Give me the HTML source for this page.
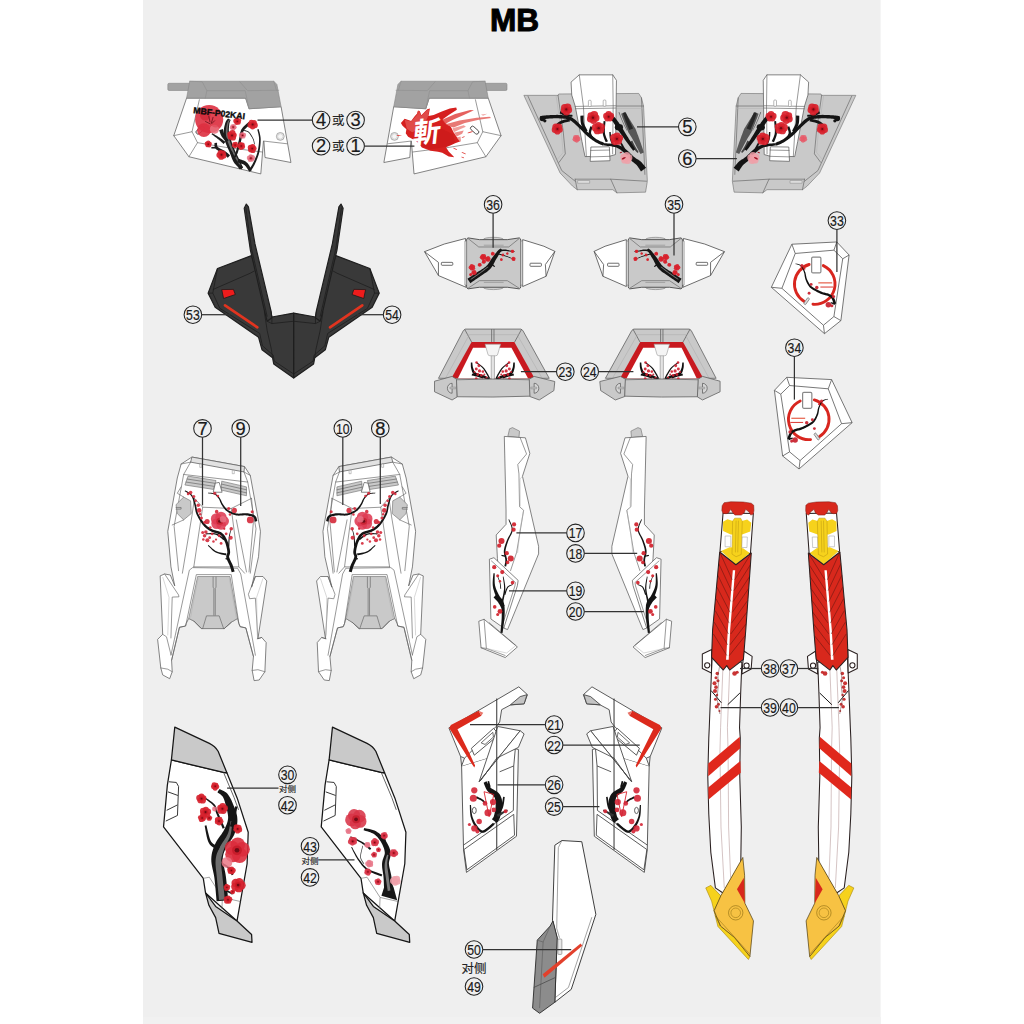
<!DOCTYPE html>
<html lang="zh"><head><meta charset="utf-8"><title>MB</title>
<style>
html,body{margin:0;padding:0;background:#fff;}
body{width:1024px;height:1024px;overflow:hidden;font-family:"Liberation Sans","Noto Sans CJK SC",sans-serif;}
svg{display:block}
svg *{vector-effect:non-scaling-stroke}
.w{fill:#fff;stroke:#5c5c5c;stroke-width:.75;stroke-linejoin:round}
.wd{fill:#fff;stroke:#222;stroke-width:1;stroke-linejoin:round}
.g1{fill:#a2a2a2;stroke:#858585;stroke-width:.6;stroke-linejoin:round}
.g2{fill:#c9c9c9;stroke:#767676;stroke-width:.65;stroke-linejoin:round}
.g3{fill:#b4b4b4;stroke:#8c8c8c;stroke-width:.6;stroke-linejoin:round}
.l{fill:none;stroke:#636363;stroke-width:.65;stroke-linejoin:round;stroke-linecap:round}
.ll{fill:none;stroke:#b0b0b0;stroke-width:.5}
.dk{fill:none;stroke:#222;stroke-width:1;stroke-linejoin:round;stroke-linecap:round}
.br{fill:none;stroke:#1c1c1c;stroke-linecap:round;stroke-linejoin:round}
.bg{fill:none;stroke:#5a5a5a;stroke-linecap:round;stroke-linejoin:round}
.r{fill:#d8222c;stroke:none}
.rl{fill:#e86a78;stroke:none}
.lc{fill:none;stroke:#222;stroke-width:1.05}
.ld{stroke:#333;stroke-width:1.25}
.n1{font-size:18.3px;text-anchor:middle;fill:#1a1a1a;stroke:#1a1a1a;stroke-width:.2}
.n2{font-size:15.2px;text-anchor:middle;fill:#1a1a1a;stroke:#1a1a1a;stroke-width:.2}
.cj{text-anchor:middle;fill:#222;stroke:#222;stroke-width:.15;font-family:"Liberation Sans","Noto Sans CJK SC",sans-serif}
</style></head><body>
<svg width="1024" height="1024" viewBox="0 0 1024 1024">
<defs>
<filter id="bl" x="-20%" y="-20%" width="140%" height="140%"><feGaussianBlur stdDeviation="0.5"/></filter>
</defs>
<rect x="0" y="0" width="1024" height="1024" fill="#fff"/>
<rect x="143" y="0" width="737.6" height="1024" fill="#efefef"/>
<rect x="143" y="1017" width="737.6" height="7" fill="#f1f1f1"/>
<text x="514.6" y="31.2" text-anchor="middle" font-weight="bold" font-size="31.6" fill="#000" stroke="#000" stroke-width="1">MB</text>
<g transform="translate(160,70) scale(0.15625)"><rect class="g1" x="50" y="85" width="150" height="46" rx="8"/><polygon class="w" points="170,180 548,180 570,248 775,235 838,592 672,560 665,455 662,455 645,665 185,555 88,420" /><polygon class="g1" points="190,72 728,72 748,92 775,235 570,248 548,180 170,180" /><polyline class="l" points="190,72 270,75 300,132 290,180" style="stroke:#8f8f8f"/><polyline class="l" points="300,132 545,132 570,248" style="stroke:#8f8f8f"/><polyline class="l" points="510,75 560,132 760,130" style="stroke:#8f8f8f"/><polyline class="l" points="728,72 745,130" style="stroke:#8f8f8f"/><polyline class="l" points="88,420 205,395 252,190" /><polyline class="l" points="205,395 240,465 185,555" /><polyline class="l" points="240,465 420,495 655,525" /><polyline class="l" points="665,455 812,472" /><circle cx="770" cy="425" r="25" fill="#eee" stroke="#999" stroke-width=".8"/><circle cx="770" cy="425" r="17" fill="#f6f6f6" stroke="#bbb" stroke-width=".5"/><rect x="226" y="372" width="62" height="26" rx="12" fill="#fff" stroke="#4a4a4a" stroke-width="1" transform="rotate(-42 257 385)"/><circle cx="314.7" cy="314.7" r="90.0" fill="#dd3040" opacity="0.9"/><circle cx="280.9" cy="385.0" r="43.9" fill="#dd3040" opacity="0.9"/><circle cx="348.4" cy="379.3" r="29.2" fill="#e9707c" opacity="0.85"/><circle cx="289.3" cy="289.3" r="33.7" fill="#c81828" opacity="0.5"/><circle cx="356.8" cy="328.7" r="39.4" fill="#e0404e" opacity="0.6"/><line x1="311.8" y1="295.0" x2="320.3" y2="334.3" stroke="#5a0a12" stroke-width=".7"/><line x1="340.0" y1="300.6" x2="328.7" y2="340.0" stroke="#5a0a12" stroke-width=".7"/><line x1="289.3" y1="328.7" x2="323.1" y2="345.6" stroke="#5a0a12" stroke-width=".7"/><line x1="351.2" y1="323.1" x2="328.7" y2="345.6" stroke="#5a0a12" stroke-width=".7"/><path d="M435.6,310.1 L434.2,311.7 L432.3,313.7 L429.9,316.6 L427.1,320.3 L424.2,324.7 L421.4,330.0 L418.8,336.1 L416.6,342.8 L414.8,349.6 L413.0,357.1 L411.2,365.4 L409.6,374.4 L408.3,384.0 L407.5,394.2 L407.3,404.8 L408.0,415.6 L409.5,426.6 L411.6,437.9 L414.4,449.3 L417.5,460.8 L421.9,472.0 L426.4,483.1 L431.0,493.9 L435.6,504.4 L440.5,515.0 L445.9,525.7 L451.5,536.2 L457.2,546.5 L462.8,556.4 L468.3,565.9 L473.5,574.9 L478.2,583.2 L482.8,591.3 L487.4,599.3 L491.9,607.0 L496.1,614.3 L500.1,620.9 L503.6,626.8 L506.6,631.6 L509.0,635.4 L530.9,623.8 L529.1,619.7 L526.7,614.4 L523.8,608.3 L520.6,601.3 L517.0,593.8 L513.2,585.8 L509.3,577.6 L505.4,569.1 L501.2,560.3 L496.6,550.9 L491.8,541.1 L486.9,531.0 L482.1,520.8 L477.5,510.6 L473.2,500.4 L469.3,490.4 L465.5,480.2 L461.8,469.6 L458.2,458.9 L454.9,448.3 L451.1,438.1 L447.7,428.4 L445.0,419.1 L442.9,410.5 L441.5,402.4 L440.8,394.1 L440.5,385.8 L440.7,377.6 L441.2,369.5 L441.8,361.9 L442.6,354.7 L443.3,348.4 L443.9,343.4 L444.9,339.1 L446.0,335.2 L447.4,331.5 L448.8,328.2 L450.2,325.0 L451.5,321.9 L452.4,319.2Z" fill="#1c1c1c"/><path d="M445.0,313.6 L443.7,315.5 L441.9,317.9 L439.8,320.8 L437.4,324.3 L435.0,328.4 L432.6,333.2 L430.5,338.7 L428.8,344.7 L427.3,351.3 L425.7,358.7 L424.2,366.8 L422.9,375.5 L421.9,384.6 L421.3,394.2 L421.4,404.0 L422.2,414.0 L423.8,424.2 L426.1,434.8 L429.0,445.8 L432.3,456.9 L436.4,467.9 L440.7,478.8 L445.1,489.5 L449.5,499.9 L454.2,510.2 L459.3,520.7 L464.7,531.1 L470.2,541.3 L475.7,551.2 L481.0,560.8 L486.1,569.8 L490.7,578.3 L495.2,586.4 L499.6,594.5 L503.9,602.2 L508.1,609.5 L511.9,616.2 L515.3,622.1 L518.2,627.1 L520.4,630.9 L525.4,628.3 L523.5,624.2 L521.0,619.1 L518.0,612.9 L514.6,606.1 L510.9,598.6 L507.0,590.6 L503.0,582.4 L498.9,574.1 L494.6,565.3 L489.9,556.0 L485.0,546.3 L479.9,536.2 L474.9,525.9 L470.1,515.5 L465.5,505.2 L461.4,495.0 L457.4,484.6 L453.5,473.9 L449.7,463.1 L446.1,452.2 L442.5,441.7 L439.3,431.4 L436.6,421.5 L434.7,412.2 L433.5,403.2 L432.9,394.2 L432.9,385.2 L433.4,376.5 L434.2,368.2 L435.1,360.3 L436.2,353.0 L437.1,346.5 L438.2,340.9 L439.6,335.9 L441.3,331.5 L443.1,327.5 L444.9,324.0 L446.6,320.8 L448.0,318.1 L449.0,315.7Z" fill="#6a6a6a"/><path d="M378.7,385.9 L379.9,388.8 L381.3,392.7 L382.9,397.6 L384.9,403.2 L387.1,409.1 L389.5,415.2 L392.3,421.2 L395.5,426.8 L399.2,432.2 L403.4,437.4 L407.8,442.5 L412.4,447.3 L416.7,451.7 L420.6,455.6 L423.8,458.7 L426.2,461.1 L439.3,449.4 L437.2,446.6 L434.1,443.0 L430.6,438.9 L426.8,434.4 L423.0,429.6 L419.3,424.9 L416.2,420.3 L413.8,416.2 L411.9,412.0 L410.1,407.1 L408.4,401.7 L406.8,396.3 L405.5,390.9 L404.3,386.0 L403.2,381.7 L402.4,378.3Z" fill="#1c1c1c"/><path d="M329.5,410.5 L332.6,413.0 L336.8,416.1 L341.8,419.8 L347.4,423.9 L353.2,428.2 L359.1,432.5 L364.7,436.8 L369.8,440.9 L374.9,445.1 L380.2,449.6 L385.7,454.3 L391.0,459.1 L396.0,463.6 L400.6,467.7 L404.3,471.2 L407.2,473.9 L419.0,459.1 L415.8,457.0 L411.6,454.1 L406.6,450.5 L401.0,446.5 L395.2,442.3 L389.1,438.1 L383.2,434.0 L377.6,430.2 L371.8,426.6 L365.7,422.8 L359.3,419.0 L353.0,415.3 L347.0,411.8 L341.6,408.8 L337.0,406.2 L333.5,404.4Z" fill="#1c1c1c"/><path d="M348.8,467.1 L348.8,469.0 L348.6,471.9 L348.4,475.9 L348.3,480.6 L348.7,485.9 L349.7,491.7 L351.9,497.6 L355.6,503.3 L360.5,508.1 L366.1,512.4 L372.2,516.3 L378.6,520.0 L385.1,523.6 L391.3,527.1 L396.9,530.5 L401.7,533.8 L406.3,537.3 L411.0,541.2 L415.7,545.3 L420.3,549.3 L424.5,553.2 L428.3,556.7 L431.5,559.7 L434.1,562.0 L448.3,545.4 L445.8,543.3 L442.5,540.6 L438.5,537.2 L434.0,533.4 L429.1,529.4 L423.9,525.3 L418.6,521.2 L413.2,517.4 L407.2,513.6 L400.8,510.1 L394.2,506.7 L387.8,503.3 L381.7,500.1 L376.3,497.0 L372.1,494.0 L369.3,491.6 L367.7,489.4 L366.6,486.7 L365.8,483.4 L365.4,479.8 L365.2,476.1 L365.2,472.4 L365.2,468.8 L364.9,466.0Z" fill="#1c1c1c"/><path d="M328.7,502.6 L332.2,502.6 L335.7,502.6 L339.3,502.6 L342.8,502.6 L346.3,502.6 L349.8,502.6 L353.3,502.6 L356.8,502.6 L356.8,492.3 L353.3,492.3 L349.8,492.3 L346.3,492.3 L342.8,492.3 L339.3,492.3 L335.7,492.3 L332.2,492.3 L328.7,492.3Z" fill="#1c1c1c"/><path d="M567.0,332.9 L563.6,336.2 L558.7,340.4 L552.6,345.6 L545.9,351.5 L538.9,358.0 L532.2,365.2 L526.0,372.8 L520.9,380.8 L517.1,389.1 L514.2,397.7 L512.1,406.5 L510.4,415.4 L508.9,424.4 L507.5,433.2 L505.9,442.0 L504.0,450.6 L501.8,459.7 L499.4,469.4 L497.0,479.3 L494.5,489.3 L492.0,498.9 L489.7,508.0 L487.4,516.3 L485.4,523.5 L483.4,529.7 L481.5,535.2 L479.6,540.1 L477.8,544.4 L476.2,548.2 L474.7,551.5 L473.4,554.4 L472.4,556.9 L483.1,561.7 L484.2,559.5 L485.6,556.8 L487.3,553.5 L489.3,549.6 L491.4,545.1 L493.7,539.9 L496.0,534.1 L498.3,527.6 L500.6,520.2 L503.1,511.8 L505.8,502.6 L508.5,492.9 L511.2,483.0 L513.9,473.1 L516.5,463.5 L518.9,454.3 L521.2,445.2 L523.0,436.1 L524.7,427.1 L526.3,418.5 L528.1,410.2 L530.2,402.5 L532.8,395.5 L535.9,389.2 L539.9,383.1 L545.2,377.0 L551.4,370.9 L557.9,365.0 L564.5,359.6 L570.5,354.7 L575.8,350.4 L579.7,347.0Z" fill="#1c1c1c"/><path d="M519.4,387.8 L523.1,388.5 L528.0,389.0 L533.8,389.7 L540.0,390.5 L546.5,391.7 L552.8,393.4 L558.5,395.5 L563.4,398.4 L567.8,402.2 L572.1,407.0 L576.4,412.6 L580.5,418.7 L584.3,424.9 L587.8,431.1 L591.0,437.0 L593.7,442.2 L595.8,447.1 L597.5,451.9 L598.8,456.7 L599.7,461.3 L600.5,465.6 L601.1,469.5 L601.6,472.8 L602.1,475.4 L606.4,474.5 L606.0,472.0 L605.5,468.8 L605.0,464.9 L604.3,460.5 L603.3,455.6 L602.0,450.5 L600.3,445.3 L598.1,440.2 L595.3,434.7 L592.2,428.8 L588.7,422.4 L584.8,415.9 L580.6,409.6 L576.2,403.7 L571.5,398.4 L566.5,394.0 L560.8,390.7 L554.5,388.1 L547.7,386.3 L541.0,385.0 L534.5,384.1 L528.7,383.3 L523.9,382.7 L520.4,382.1Z" fill="#1c1c1c"/><path d="M622.5,380.4 L623.6,385.1 L625.1,391.1 L627.0,398.2 L629.0,406.1 L630.8,414.6 L632.4,423.5 L633.6,432.5 L634.0,441.3 L633.9,450.6 L633.5,460.7 L632.6,471.2 L631.5,482.1 L630.0,493.0 L628.2,503.8 L626.2,514.3 L623.9,524.2 L621.3,533.8 L618.2,543.4 L614.7,552.9 L610.9,562.2 L607.0,571.3 L603.1,580.0 L599.2,588.2 L595.6,595.8 L591.9,602.8 L588.0,609.5 L583.9,615.9 L579.9,621.9 L576.1,627.3 L572.6,632.2 L569.6,636.3 L567.3,639.6 L579.5,647.7 L581.5,644.4 L584.3,640.3 L587.6,635.3 L591.4,629.6 L595.5,623.2 L599.6,616.4 L603.6,609.1 L607.4,601.6 L611.0,593.7 L614.8,585.3 L618.6,576.3 L622.5,566.9 L626.1,557.2 L629.6,547.2 L632.7,537.1 L635.3,526.9 L637.5,516.5 L639.4,505.7 L641.0,494.5 L642.4,483.3 L643.4,472.1 L644.0,461.3 L644.3,450.8 L644.3,441.0 L643.6,431.5 L642.2,421.9 L640.3,412.6 L638.2,403.9 L636.0,395.8 L633.9,388.7 L632.2,382.8 L631.1,378.3Z" fill="#1c1c1c"/><path d="M493.4,590.7 L497.2,591.9 L502.4,593.4 L508.3,595.2 L514.7,597.1 L521.2,599.3 L527.3,601.5 L532.5,603.6 L536.4,605.6 L539.4,607.6 L542.2,609.8 L544.7,612.2 L547.0,614.8 L549.3,617.7 L551.6,620.7 L553.9,624.0 L556.3,627.1 L558.5,630.1 L560.5,633.2 L562.6,636.6 L564.5,640.0 L566.3,643.3 L567.9,646.3 L569.4,648.9 L570.6,650.9 L587.4,642.0 L586.5,640.1 L585.4,637.6 L583.9,634.4 L582.2,630.8 L580.3,626.9 L578.2,622.9 L575.9,618.9 L573.6,615.2 L571.4,611.9 L569.2,608.6 L566.9,604.9 L564.2,601.2 L561.1,597.3 L557.5,593.4 L553.3,589.7 L548.4,586.1 L542.6,582.8 L536.1,579.8 L529.3,577.1 L522.3,574.5 L515.7,572.2 L509.7,570.2 L504.9,568.5 L501.5,567.2Z" fill="#1c1c1c"/><path d="M444.9,522.8 L446.9,528.1 L449.3,535.4 L452.4,544.2 L455.8,554.0 L459.7,564.2 L463.9,574.3 L468.4,583.8 L473.3,592.3 L478.9,599.9 L485.3,607.0 L492.1,613.6 L498.9,619.7 L505.4,625.2 L511.3,629.9 L516.0,633.8 L519.4,636.8 L531.7,622.4 L528.0,619.2 L522.9,615.3 L517.0,610.8 L510.7,605.7 L504.3,600.3 L498.1,594.5 L492.5,588.5 L487.9,582.5 L483.7,575.7 L479.5,567.2 L475.4,557.8 L471.6,548.1 L468.0,538.6 L464.9,529.9 L462.1,522.5 L460.0,517.1Z" fill="#1c1c1c"/><circle cx="489.5" cy="338.8" r="13.5" fill="#d8222c" opacity="0.92"/><circle cx="483.4" cy="327.0" r="15.1" fill="#d8222c" opacity="0.92"/><circle cx="492.7" cy="317.5" r="13.2" fill="#d8222c" opacity="0.92"/><circle cx="504.7" cy="323.5" r="14.8" fill="#d8222c" opacity="0.92"/><circle cx="502.7" cy="336.6" r="14.2" fill="#d8222c" opacity="0.92"/><circle cx="494.6" cy="328.7" r="9.9" fill="#b8121e" opacity=".55"/><circle cx="494.6" cy="328.7" r="4.7" fill="#5a0810" opacity=".8"/><circle cx="606.8" cy="353.7" r="19.1" fill="#d8222c" opacity="0.92"/><circle cx="592.3" cy="363.1" r="17.0" fill="#d8222c" opacity="0.92"/><circle cx="578.8" cy="352.2" r="18.8" fill="#d8222c" opacity="0.92"/><circle cx="584.9" cy="336.1" r="17.2" fill="#d8222c" opacity="0.92"/><circle cx="602.2" cy="336.9" r="17.3" fill="#d8222c" opacity="0.92"/><circle cx="593.0" cy="348.4" r="12.9" fill="#b8121e" opacity=".55"/><circle cx="593.0" cy="348.4" r="6.1" fill="#5a0810" opacity=".8"/><circle cx="459.6" cy="369.7" r="13.4" fill="#e4687a" opacity="0.8"/><circle cx="461.4" cy="358.5" r="11.4" fill="#e4687a" opacity="0.8"/><circle cx="472.5" cy="356.7" r="11.7" fill="#e4687a" opacity="0.8"/><circle cx="477.7" cy="366.8" r="12.8" fill="#e4687a" opacity="0.8"/><circle cx="469.8" cy="374.8" r="13.7" fill="#e4687a" opacity="0.8"/><circle cx="468.2" cy="365.3" r="8.4" fill="#b8121e" opacity=".55"/><circle cx="468.2" cy="365.3" r="4.0" fill="#5a0810" opacity=".8"/><circle cx="448.3" cy="412.1" r="17.9" fill="#d8222c" opacity="0.92"/><circle cx="463.3" cy="404.7" r="20.3" fill="#d8222c" opacity="0.92"/><circle cx="474.9" cy="416.6" r="16.4" fill="#d8222c" opacity="0.92"/><circle cx="467.2" cy="431.4" r="19.8" fill="#d8222c" opacity="0.92"/><circle cx="450.8" cy="428.6" r="17.4" fill="#d8222c" opacity="0.92"/><circle cx="460.9" cy="418.7" r="12.4" fill="#b8121e" opacity=".55"/><circle cx="460.9" cy="418.7" r="5.9" fill="#5a0810" opacity=".8"/><circle cx="534.7" cy="426.7" r="12.0" fill="#e4687a" opacity="0.8"/><circle cx="522.7" cy="427.2" r="12.6" fill="#e4687a" opacity="0.8"/><circle cx="518.6" cy="415.9" r="14.1" fill="#e4687a" opacity="0.8"/><circle cx="528.0" cy="408.5" r="12.2" fill="#e4687a" opacity="0.8"/><circle cx="538.0" cy="415.2" r="13.4" fill="#e4687a" opacity="0.8"/><circle cx="528.4" cy="418.7" r="8.9" fill="#b8121e" opacity=".55"/><circle cx="528.4" cy="418.7" r="4.3" fill="#5a0810" opacity=".8"/><circle cx="474.4" cy="473.2" r="12.1" fill="#d8222c" opacity="0.92"/><circle cx="485.7" cy="472.4" r="12.6" fill="#d8222c" opacity="0.92"/><circle cx="490.0" cy="482.9" r="11.2" fill="#d8222c" opacity="0.92"/><circle cx="481.3" cy="490.2" r="11.2" fill="#d8222c" opacity="0.92"/><circle cx="471.7" cy="484.2" r="11.6" fill="#d8222c" opacity="0.92"/><circle cx="480.6" cy="480.6" r="8.4" fill="#b8121e" opacity=".55"/><circle cx="480.6" cy="480.6" r="4.0" fill="#5a0810" opacity=".8"/><circle cx="515.1" cy="475.9" r="14.4" fill="#d8222c" opacity="0.92"/><circle cx="528.2" cy="478.4" r="14.0" fill="#d8222c" opacity="0.92"/><circle cx="529.8" cy="491.7" r="14.9" fill="#d8222c" opacity="0.92"/><circle cx="517.8" cy="497.3" r="14.5" fill="#d8222c" opacity="0.92"/><circle cx="508.7" cy="487.6" r="14.0" fill="#d8222c" opacity="0.92"/><circle cx="519.9" cy="486.2" r="9.9" fill="#b8121e" opacity=".55"/><circle cx="519.9" cy="486.2" r="4.7" fill="#5a0810" opacity=".8"/><circle cx="593.7" cy="490.8" r="17.2" fill="#d8222c" opacity="0.92"/><circle cx="602.9" cy="502.6" r="15.5" fill="#d8222c" opacity="0.92"/><circle cx="594.6" cy="515.1" r="16.8" fill="#d8222c" opacity="0.92"/><circle cx="580.2" cy="511.0" r="16.6" fill="#d8222c" opacity="0.92"/><circle cx="579.6" cy="496.0" r="17.9" fill="#d8222c" opacity="0.92"/><circle cx="590.2" cy="503.1" r="11.2" fill="#b8121e" opacity=".55"/><circle cx="590.2" cy="503.1" r="5.3" fill="#5a0810" opacity=".8"/><circle cx="580.3" cy="553.7" r="13.9" fill="#e4687a" opacity="0.8"/><circle cx="592.0" cy="560.0" r="16.2" fill="#e4687a" opacity="0.8"/><circle cx="589.6" cy="573.1" r="13.4" fill="#e4687a" opacity="0.8"/><circle cx="576.4" cy="574.9" r="14.4" fill="#e4687a" opacity="0.8"/><circle cx="570.7" cy="562.8" r="15.5" fill="#e4687a" opacity="0.8"/><circle cx="581.8" cy="564.9" r="9.9" fill="#b8121e" opacity=".55"/><circle cx="581.8" cy="564.9" r="4.7" fill="#5a0810" opacity=".8"/><circle cx="314.9" cy="483.2" r="13.1" fill="#d8222c" opacity="0.92"/><circle cx="302.9" cy="483.1" r="11.8" fill="#d8222c" opacity="0.92"/><circle cx="299.3" cy="471.6" r="13.7" fill="#d8222c" opacity="0.92"/><circle cx="309.1" cy="464.7" r="14.0" fill="#d8222c" opacity="0.92"/><circle cx="318.7" cy="471.9" r="13.4" fill="#d8222c" opacity="0.92"/><circle cx="309.0" cy="474.9" r="8.9" fill="#b8121e" opacity=".55"/><circle cx="309.0" cy="474.9" r="4.3" fill="#5a0810" opacity=".8"/><circle cx="403.4" cy="532.4" r="17.5" fill="#d8222c" opacity="0.92"/><circle cx="406.0" cy="548.8" r="19.1" fill="#d8222c" opacity="0.92"/><circle cx="391.2" cy="556.4" r="18.7" fill="#d8222c" opacity="0.92"/><circle cx="379.4" cy="544.6" r="18.6" fill="#d8222c" opacity="0.92"/><circle cx="387.0" cy="529.8" r="18.1" fill="#d8222c" opacity="0.92"/><circle cx="393.4" cy="542.4" r="12.4" fill="#b8121e" opacity=".55"/><circle cx="393.4" cy="542.4" r="5.9" fill="#5a0810" opacity=".8"/><text x="211.7" y="275.3" font-size="55" font-weight="bold" fill="#0a0a0a" stroke="#0a0a0a" stroke-width=".35" textLength="332" lengthAdjust="spacingAndGlyphs" transform="rotate(7 211.7 275.3)">MBF-P02KAI</text></g>
<g transform="translate(160,70) scale(0.15625)"><g transform="translate(2270.72,0) scale(-1,1)"><rect class="g1" x="50" y="85" width="150" height="46" rx="8"/><polygon class="w" points="170,180 548,180 570,248 775,235 838,592 672,560 665,455 662,455 645,665 185,555 88,420" /><polygon class="g1" points="190,72 728,72 748,92 775,235 570,248 548,180 170,180" /><polyline class="l" points="190,72 270,75 300,132 290,180" style="stroke:#8f8f8f"/><polyline class="l" points="300,132 545,132 570,248" style="stroke:#8f8f8f"/><polyline class="l" points="510,75 560,132 760,130" style="stroke:#8f8f8f"/><polyline class="l" points="728,72 745,130" style="stroke:#8f8f8f"/><polyline class="l" points="88,420 205,395 252,190" /><polyline class="l" points="205,395 240,465 185,555" /><polyline class="l" points="240,465 420,495 655,525" /><polyline class="l" points="665,455 812,472" /><circle cx="770" cy="425" r="25" fill="#eee" stroke="#999" stroke-width=".8"/><circle cx="770" cy="425" r="17" fill="#f6f6f6" stroke="#bbb" stroke-width=".5"/><rect x="226" y="372" width="62" height="26" rx="12" fill="#fff" stroke="#4a4a4a" stroke-width="1" transform="rotate(-42 257 385)"/></g></g>
<g transform="translate(395,100) scale(0.10742)"><path d="M55,215 L90,175 L150,195 L185,150 L230,100 L245,142 L300,86 L325,80 L312,150 L360,140 L430,110 L510,80 L570,70 L576,90 L500,140 L445,180 L470,215 L520,250 L545,300 L575,345 L610,385 L560,402 L520,422 L475,440 L500,480 L552,532 L500,525 L440,492 L400,482 L330,472 L250,442 L222,402 L180,372 L122,342 L100,310 L106,272 L70,240 Z" fill="#d6201f"/><path d="M90,185 L150,200 L190,155 L228,110 L244,150 L298,95 L318,90 L305,160 L250,260 L160,300 L110,268 Z" fill="#e35a58" opacity=".75"/><path d="M230,330 L420,260 L540,320 L560,395 L470,435 L330,460 L250,430 Z" fill="#c81818" opacity=".55"/><path d="M440,185 L560,130 L700,92 L735,96 L640,140 L540,185 L470,220 Z" fill="#e2504c" opacity=".9"/><path d="M470,225 L600,190 L760,165 L880,155 L895,168 L780,185 L650,215 L545,255 L520,250 Z" fill="#e66a66" opacity=".9"/><path d="M535,262 L640,235 L660,250 L600,275 L548,300 Z" fill="#ee9490" opacity=".9"/><path d="M548,305 L640,285 L625,315 L575,340 Z" fill="#ea807c" opacity=".9"/><path d="M575,350 L610,340 L615,385 L600,385 Z" fill="#ee9490" opacity=".9"/><path d="M800,135 L860,128 L820,146 Z" fill="#ee9490" opacity=".8"/><ellipse cx="640" cy="495" rx="22.0" ry="4.5" fill="#e0403c" transform="rotate(25 640 495)"/><ellipse cx="630" cy="535" rx="15.0" ry="4.0" fill="#e0403c" transform="rotate(25 630 535)"/><ellipse cx="700" cy="300" rx="26.0" ry="5.5" fill="#e0403c" transform="rotate(-15 700 300)"/><ellipse cx="635" cy="345" rx="15.0" ry="4.0" fill="#e0403c" transform="rotate(-20 635 345)"/><ellipse cx="560" cy="455" rx="20.0" ry="4.5" fill="#e0403c" transform="rotate(25 560 455)"/><ellipse cx="215" cy="118" rx="9.0" ry="20.0" fill="#e0403c" transform="rotate(15 215 118)"/><ellipse cx="40" cy="330" rx="25.0" ry="3.5" fill="#e0403c" transform="rotate(-8 40 330)"/><g transform="translate(298,300) rotate(-6) skewX(-12)"><text x="0" y="92" text-anchor="middle" font-size="262" fill="#fff" font-family="'Liberation Sans','Noto Sans CJK SC',sans-serif" font-weight="bold">斬</text></g></g>
<g transform="translate(515,65) scale(0.13672)"><polygon class="g2" points="65,222 315,222 320,212 905,208 925,240 940,300 968,850 955,930 745,935 715,912 455,912 420,885 330,790" /><polyline class="l" points="95,228 342,772 440,850" /><polyline class="l" points="315,222 330,330 352,480 368,650 322,712" /><polyline class="ll" points="300,222 338,480 352,640 310,690" /><polyline class="l" points="440,835 700,835 745,935" /><polyline class="l" points="700,835 962,850" /><polyline class="l" points="440,835 455,912" /><polyline class="l" points="925,240 950,800" /><polyline class="l" points="740,300 940,300" /><polyline class="ll" points="740,318 940,318" /><rect x="458" y="845" width="88" height="20" fill="#ddd" stroke="#888" stroke-width=".5"/><polygon class="w" points="410,125 470,72 715,72 742,112 735,655 700,665 512,670 490,560 440,300 415,220" /><polyline class="l" points="470,72 500,300 522,668" /><polyline class="l" points="715,72 718,300 714,650" /><polyline class="l" points="440,303 735,298" /><polyline class="l" points="442,320 735,315" /><rect x="537" y="258" width="20" height="46" rx="7" fill="#fff" stroke="#888" stroke-width=".6"/><rect x="645" y="256" width="20" height="46" rx="7" fill="#fff" stroke="#888" stroke-width=".6"/><polygon class="w" points="555,600 690,598 695,700 550,705" /><polyline class="l" points="553,625 692,622" /><polyline class="l" points="551,672 694,668" /><path d="M776.6,356.7 L778.6,363.3 L781.4,371.7 L785.1,381.5 L789.3,392.5 L793.9,404.3 L798.7,416.6 L803.5,428.9 L808.3,440.9 L813.0,453.0 L818.1,465.4 L823.2,478.1 L828.5,491.0 L836.1,502.9 L843.6,515.1 L851.1,527.5 L858.5,540.0 L866.2,553.6 L874.4,568.8 L882.9,584.9 L891.3,601.0 L899.3,616.3 L906.6,630.1 L913.0,641.7 L918.1,650.1 L941.9,639.9 L939.3,630.4 L935.4,617.8 L930.6,603.0 L925.0,586.5 L919.0,569.3 L912.9,551.9 L907.0,535.3 L901.5,520.0 L896.2,505.8 L890.9,491.8 L885.5,478.1 L880.2,464.7 L872.8,452.7 L865.5,441.1 L858.5,429.9 L851.7,419.1 L845.0,408.1 L838.0,396.9 L831.1,385.7 L824.5,375.0 L818.2,365.0 L812.5,356.2 L807.5,348.8 L803.4,343.3Z" fill="#4a4a4a" opacity="0.9"/><path d="M757.2,346.1 L759.6,352.0 L762.7,359.9 L766.4,369.3 L770.6,379.8 L774.9,390.7 L779.4,401.5 L783.7,411.8 L787.7,421.0 L791.7,429.7 L796.1,438.5 L800.5,447.3 L804.9,455.7 L809.0,463.6 L812.7,470.6 L815.9,476.4 L818.2,480.9 L821.8,479.1 L819.5,474.5 L816.5,468.6 L812.9,461.5 L808.9,453.7 L804.6,445.2 L800.3,436.4 L796.2,427.6 L792.3,419.0 L788.4,409.8 L784.2,399.6 L779.9,388.7 L775.7,377.7 L771.7,367.3 L768.1,357.8 L765.1,349.8 L762.8,343.9Z" fill="#666"/><path d="M832.2,567.8 L834.6,570.6 L837.6,574.3 L841.1,578.9 L845.0,584.0 L849.1,589.5 L853.3,595.1 L857.6,600.6 L861.8,605.7 L866.1,610.7 L870.8,616.1 L875.7,621.6 L880.6,627.0 L885.3,632.1 L889.5,636.6 L893.2,640.3 L896.0,643.0 L904.0,637.0 L902.1,633.5 L899.4,629.0 L896.2,623.7 L892.5,618.0 L888.7,611.9 L884.9,605.7 L881.3,599.8 L878.2,594.3 L875.3,588.9 L872.3,583.0 L869.2,577.0 L866.3,571.0 L863.5,565.3 L861.1,560.1 L859.2,555.6 L857.8,552.2Z" fill="#2a2a2a" opacity="0.85"/><path d="M789.7,353.8 L790.4,356.6 L791.4,360.1 L792.6,364.2 L794.0,369.1 L795.8,374.6 L797.8,380.7 L800.2,387.6 L803.0,395.0 L806.5,403.8 L810.8,414.4 L815.6,426.1 L820.6,438.1 L825.5,449.9 L830.0,460.6 L833.7,469.5 L836.3,476.0 L863.7,464.0 L860.7,457.6 L856.5,448.8 L851.6,438.3 L846.2,426.9 L840.8,415.1 L835.5,403.7 L830.8,393.4 L827.0,385.0 L823.9,378.1 L821.2,371.8 L818.7,366.0 L816.6,360.9 L814.7,356.4 L813.1,352.4 L811.6,349.0 L810.3,346.2Z" fill="#222" opacity="0.9"/><path d="M187.1,400.8 L191.2,400.1 L196.4,399.1 L202.3,398.0 L209.0,396.8 L216.3,395.6 L224.1,394.4 L232.4,393.5 L241.0,392.7 L250.5,392.0 L261.1,391.3 L272.4,390.7 L284.2,390.2 L296.0,389.8 L307.7,389.7 L318.8,389.9 L329.2,390.4 L339.3,391.1 L349.0,391.8 L358.3,392.6 L367.2,393.7 L375.8,395.2 L384.0,397.1 L391.9,399.7 L399.7,402.9 L407.4,407.1 L415.0,412.1 L422.7,418.1 L430.5,424.6 L438.3,431.7 L446.1,439.0 L454.1,446.5 L461.9,453.7 L469.5,460.8 L477.0,468.1 L484.4,475.7 L491.8,483.5 L499.3,491.2 L506.9,499.0 L514.5,506.5 L522.2,513.6 L529.9,520.3 L537.5,526.9 L545.2,533.3 L552.9,539.4 L560.6,545.4 L568.4,551.1 L576.2,556.5 L584.1,561.6 L592.5,566.5 L601.4,571.0 L610.5,575.3 L619.3,579.2 L627.6,582.6 L635.0,585.6 L641.1,588.1 L645.6,590.1 L654.4,569.9 L649.7,567.8 L643.5,565.2 L636.2,562.1 L628.2,558.7 L619.8,555.0 L611.4,550.9 L603.3,546.7 L595.9,542.4 L588.8,537.7 L581.6,532.7 L574.4,527.3 L567.1,521.6 L559.8,515.6 L552.5,509.4 L545.1,502.9 L537.8,496.4 L530.6,489.7 L523.4,482.5 L516.1,475.0 L508.8,467.3 L501.3,459.4 L493.7,451.5 L485.9,443.7 L478.1,436.3 L470.3,429.1 L462.5,421.7 L454.6,414.1 L446.4,406.6 L437.9,399.4 L429.1,392.5 L419.9,386.4 L410.3,381.1 L400.5,376.9 L390.6,373.6 L380.8,371.2 L370.9,369.4 L361.0,368.1 L351.1,367.1 L341.1,366.4 L330.8,365.6 L319.7,365.0 L307.8,364.7 L295.6,364.8 L283.3,365.1 L271.3,365.5 L259.7,366.1 L248.9,366.7 L239.0,367.3 L229.8,368.1 L220.9,369.1 L212.5,370.2 L204.7,371.4 L197.8,372.6 L191.7,373.7 L186.8,374.6 L182.9,375.2Z" fill="#141414"/><path d="M649.1,588.0 L656.3,589.1 L666.1,590.3 L677.6,591.7 L690.3,593.3 L703.3,595.1 L715.9,597.2 L727.4,599.6 L737.0,602.4 L745.2,605.4 L752.6,608.7 L759.4,612.3 L765.8,616.1 L772.0,620.3 L778.3,624.9 L784.8,630.1 L791.5,635.6 L798.3,641.8 L805.3,648.9 L812.6,656.8 L820.0,665.1 L827.3,673.6 L834.6,682.0 L841.8,690.0 L848.8,697.3 L855.6,703.7 L862.1,709.2 L868.1,714.0 L873.7,718.4 L878.7,722.4 L883.2,726.2 L887.2,730.0 L891.0,734.0 L895.0,738.8 L899.3,744.6 L903.7,750.9 L908.1,757.4 L912.2,763.7 L915.9,769.6 L919.1,774.8 L921.5,778.7 L958.5,751.3 L955.6,748.2 L952.0,743.8 L947.6,738.2 L942.5,732.0 L937.1,725.3 L931.3,718.6 L925.2,712.1 L919.0,706.0 L912.7,700.7 L906.4,696.1 L900.3,692.1 L894.5,688.5 L888.7,685.0 L883.0,681.4 L877.2,677.4 L871.2,672.7 L864.6,667.0 L857.5,660.2 L849.9,652.7 L841.9,644.6 L833.7,636.5 L825.4,628.5 L816.9,621.0 L808.5,614.4 L800.6,608.8 L793.1,603.8 L785.6,599.2 L777.9,594.9 L770.0,591.0 L761.6,587.6 L752.7,584.4 L743.0,581.6 L731.7,579.2 L719.1,577.3 L705.7,575.8 L692.2,574.6 L679.3,573.7 L667.7,573.0 L658.0,572.5 L650.9,572.0Z" fill="#141414"/><circle cx="200" cy="392" r="20" fill="#141414"/><circle cx="218" cy="408" r="12" fill="#141414"/><path d="M296.8,465.4 L300.3,462.2 L304.7,457.9 L309.8,452.9 L315.4,447.6 L321.4,442.2 L327.6,437.2 L333.8,432.8 L339.8,429.4 L346.4,426.5 L354.5,423.8 L363.5,421.3 L372.8,419.1 L381.8,417.1 L390.1,415.4 L397.3,413.9 L402.6,412.7 L397.4,391.3 L392.4,392.6 L385.6,394.1 L377.2,396.0 L367.8,398.2 L358.0,400.7 L348.2,403.5 L338.8,406.8 L330.2,410.6 L322.4,415.3 L314.9,420.8 L307.9,426.7 L301.4,432.6 L295.6,438.4 L290.5,443.5 L286.4,447.7 L283.2,450.6Z" fill="#141414"/><path d="M325.7,352.9 L328.7,354.4 L332.6,356.5 L337.4,359.1 L342.8,362.0 L348.7,365.0 L354.9,367.9 L361.3,370.6 L367.7,372.7 L374.4,374.2 L381.7,375.5 L389.2,376.4 L396.7,377.2 L403.8,377.8 L410.1,378.3 L415.3,378.6 L419.2,379.0 L420.8,365.0 L416.8,364.5 L411.5,363.8 L405.2,363.1 L398.3,362.3 L391.2,361.3 L384.2,360.2 L377.8,358.9 L372.3,357.3 L367.2,355.4 L361.8,353.0 L356.3,350.1 L351.0,347.1 L345.9,344.1 L341.3,341.3 L337.4,338.9 L334.3,337.1Z" fill="#141414"/><path d="M478.0,370.4 L478.3,374.8 L478.4,380.9 L478.5,388.4 L478.8,396.8 L479.2,405.9 L480.0,415.1 L481.4,424.2 L483.4,432.9 L486.4,441.4 L490.2,449.9 L494.6,458.3 L499.1,466.4 L503.5,473.9 L507.6,480.4 L510.9,485.8 L513.2,489.8 L530.8,480.2 L528.5,475.8 L525.2,470.0 L521.5,463.4 L517.4,456.1 L513.4,448.5 L509.7,440.8 L506.7,433.6 L504.6,427.1 L503.3,420.4 L502.4,412.8 L501.9,404.6 L501.7,396.3 L501.8,388.3 L501.9,380.9 L502.0,374.5 L502.0,369.6Z" fill="#141414"/><path d="M648.0,409.4 L647.3,416.5 L646.3,426.1 L645.0,437.7 L643.7,450.5 L642.5,463.9 L641.7,477.1 L641.5,489.7 L642.0,500.9 L643.7,511.2 L646.2,521.3 L649.4,530.9 L652.9,539.9 L656.3,548.1 L659.5,555.2 L662.0,561.0 L663.7,565.4 L680.3,558.6 L678.2,553.9 L675.4,547.9 L672.0,541.0 L668.5,533.3 L665.1,525.1 L662.0,516.5 L659.5,507.8 L658.0,499.1 L657.2,489.3 L657.2,477.6 L657.7,464.8 L658.6,451.8 L659.6,439.1 L660.7,427.5 L661.5,417.8 L662.0,410.6Z" fill="#141414"/><path d="M551.4,447.4 L550.3,451.0 L548.6,456.1 L546.4,462.4 L544.0,469.5 L541.8,477.2 L540.0,485.2 L539.2,493.3 L539.6,501.3 L541.8,509.1 L545.2,516.5 L549.4,523.6 L554.0,530.4 L558.6,536.5 L562.8,541.9 L566.1,546.3 L568.4,549.5 L581.6,540.5 L579.2,536.8 L575.7,532.1 L571.7,526.8 L567.5,520.9 L563.5,514.8 L560.1,508.8 L557.6,503.3 L556.4,498.7 L556.3,494.0 L557.0,488.1 L558.6,481.6 L560.6,474.8 L563.0,468.2 L565.3,462.1 L567.3,456.7 L568.6,452.6Z" fill="#141414"/><path d="M690.0,490.4 L690.2,494.2 L690.3,499.2 L690.5,505.4 L690.8,512.3 L691.2,519.6 L691.9,527.0 L692.8,534.4 L694.2,541.5 L696.1,548.5 L698.6,555.9 L701.4,563.4 L704.3,570.7 L707.3,577.6 L709.9,583.8 L712.1,588.9 L713.6,592.7 L726.4,587.3 L724.6,583.4 L722.2,578.2 L719.4,572.2 L716.3,565.5 L713.2,558.5 L710.3,551.5 L707.7,544.7 L705.8,538.5 L704.4,532.4 L703.3,525.6 L702.4,518.5 L701.7,511.5 L701.2,504.8 L700.8,498.7 L700.4,493.5 L700.0,489.6Z" fill="#141414"/><path d="M678.7,371.8 L682.2,376.1 L686.9,381.6 L692.5,388.1 L698.6,395.3 L705.0,402.8 L711.3,410.4 L717.1,417.8 L722.2,424.6 L726.4,430.7 L730.3,436.7 L733.8,442.6 L737.4,448.7 L741.2,455.3 L745.4,462.5 L750.2,470.5 L755.8,479.3 L762.7,488.9 L770.3,499.5 L778.6,511.0 L787.1,522.9 L795.7,534.8 L804.0,546.4 L812.0,557.4 L819.2,567.2 L826.0,576.5 L832.8,585.6 L839.4,594.5 L845.7,602.8 L851.4,610.4 L856.6,617.1 L861.0,622.7 L864.6,627.1 L879.4,616.9 L876.7,612.1 L873.1,605.9 L868.8,598.6 L863.8,590.4 L858.4,581.6 L852.7,572.2 L846.8,562.5 L840.8,552.8 L834.4,542.3 L827.3,530.9 L819.8,518.7 L812.0,506.2 L804.4,493.8 L797.0,481.8 L790.2,470.7 L784.2,460.7 L778.8,452.4 L774.0,445.0 L769.7,438.1 L765.7,431.7 L761.7,425.3 L757.5,418.9 L752.9,412.4 L747.8,405.4 L742.0,398.1 L735.5,390.3 L728.8,382.5 L722.0,374.9 L715.5,367.7 L709.7,361.4 L704.9,356.1 L701.3,352.2Z" fill="#141414"/><ellipse cx="760" cy="455" rx="30" ry="24" fill="#141414"/><path d="M769.6,572.7 L772.5,579.0 L775.4,585.4 L778.3,591.8 L781.2,598.1 L784.1,604.5 L787.0,610.9 L789.9,617.2 L792.8,623.6 L807.2,616.4 L803.8,610.3 L800.5,604.1 L797.1,598.0 L793.8,591.9 L790.4,585.7 L787.1,579.6 L783.7,573.5 L780.4,567.3Z" fill="#141414"/><circle cx="385.2" cy="308.8" r="27.2" fill="#d8222c" opacity="0.92"/><circle cx="393.6" cy="329.7" r="24.6" fill="#d8222c" opacity="0.92"/><circle cx="376.3" cy="344.1" r="25.7" fill="#d8222c" opacity="0.92"/><circle cx="357.2" cy="332.1" r="22.3" fill="#d8222c" opacity="0.92"/><circle cx="362.7" cy="310.3" r="25.9" fill="#d8222c" opacity="0.92"/><circle cx="375" cy="325" r="16.8" fill="#b8121e" opacity=".55"/><circle cx="375" cy="325" r="8.0" fill="#5a0810" opacity=".8"/><circle cx="299.0" cy="453.5" r="26.0" fill="#d8222c" opacity="0.92"/><circle cx="320.4" cy="453.1" r="25.1" fill="#d8222c" opacity="0.92"/><circle cx="327.4" cy="473.3" r="22.3" fill="#d8222c" opacity="0.92"/><circle cx="310.4" cy="486.1" r="22.8" fill="#d8222c" opacity="0.92"/><circle cx="292.9" cy="474.0" r="24.3" fill="#d8222c" opacity="0.92"/><circle cx="310" cy="468" r="15.9" fill="#b8121e" opacity=".55"/><circle cx="310" cy="468" r="7.6" fill="#5a0810" opacity=".8"/><circle cx="591.0" cy="388.0" r="27.1" fill="#d8222c" opacity="0.92"/><circle cx="573.6" cy="405.9" r="25.3" fill="#d8222c" opacity="0.92"/><circle cx="551.3" cy="394.9" r="25.0" fill="#d8222c" opacity="0.92"/><circle cx="554.8" cy="370.3" r="24.6" fill="#d8222c" opacity="0.92"/><circle cx="579.3" cy="366.0" r="29.0" fill="#d8222c" opacity="0.92"/><circle cx="570" cy="385" r="18.5" fill="#b8121e" opacity=".55"/><circle cx="570" cy="385" r="8.8" fill="#5a0810" opacity=".8"/><circle cx="626.6" cy="477.4" r="25.8" fill="#d8222c" opacity="0.92"/><circle cx="601.9" cy="480.6" r="26.7" fill="#d8222c" opacity="0.92"/><circle cx="591.2" cy="458.1" r="29.6" fill="#d8222c" opacity="0.92"/><circle cx="609.2" cy="441.0" r="24.8" fill="#d8222c" opacity="0.92"/><circle cx="631.1" cy="452.9" r="27.0" fill="#d8222c" opacity="0.92"/><circle cx="612" cy="462" r="18.5" fill="#b8121e" opacity=".55"/><circle cx="612" cy="462" r="8.8" fill="#5a0810" opacity=".8"/><circle cx="668.7" cy="372.8" r="24.1" fill="#d8222c" opacity="0.92"/><circle cx="684.9" cy="360.9" r="23.7" fill="#d8222c" opacity="0.92"/><circle cx="701.3" cy="372.6" r="24.0" fill="#d8222c" opacity="0.92"/><circle cx="695.1" cy="391.8" r="21.0" fill="#d8222c" opacity="0.92"/><circle cx="675.0" cy="391.9" r="21.7" fill="#d8222c" opacity="0.92"/><circle cx="685" cy="378" r="15.0" fill="#b8121e" opacity=".55"/><circle cx="685" cy="378" r="7.1" fill="#5a0810" opacity=".8"/><circle cx="731.7" cy="556.4" r="29.7" fill="#d8222c" opacity="0.92"/><circle cx="725.2" cy="532.4" r="30.2" fill="#d8222c" opacity="0.92"/><circle cx="746.1" cy="518.9" r="25.2" fill="#d8222c" opacity="0.92"/><circle cx="765.5" cy="534.6" r="25.3" fill="#d8222c" opacity="0.92"/><circle cx="756.5" cy="557.8" r="25.7" fill="#d8222c" opacity="0.92"/><circle cx="745" cy="540" r="18.5" fill="#b8121e" opacity=".55"/><circle cx="745" cy="540" r="8.8" fill="#5a0810" opacity=".8"/><circle cx="451.4" cy="551.0" r="16.9" fill="#e85a68" opacity="0.85"/><circle cx="438.0" cy="543.3" r="17.3" fill="#e85a68" opacity="0.85"/><circle cx="441.2" cy="528.3" r="16.0" fill="#e85a68" opacity="0.85"/><circle cx="456.5" cy="526.6" r="15.0" fill="#e85a68" opacity="0.85"/><circle cx="462.8" cy="540.7" r="16.6" fill="#e85a68" opacity="0.85"/><circle cx="802.0" cy="696.0" r="25.1" fill="#f0a0a8" opacity="0.85"/><circle cx="797.6" cy="673.9" r="27.3" fill="#f0a0a8" opacity="0.85"/><circle cx="817.3" cy="663.0" r="25.8" fill="#f0a0a8" opacity="0.85"/><circle cx="833.8" cy="678.3" r="24.8" fill="#f0a0a8" opacity="0.85"/><circle cx="824.3" cy="698.7" r="25.4" fill="#f0a0a8" opacity="0.85"/><ellipse cx="795" cy="682" rx="16" ry="6" fill="#a01020" transform="rotate(-25 795 682)"/><ellipse cx="775" cy="640" rx="10" ry="4" fill="#a01020" transform="rotate(-25 775 640)"/></g>
<g transform="translate(515,65) scale(0.13672)"><g transform="translate(2557.7,0) scale(-1,1)"><polygon class="g2" points="65,222 315,222 320,212 905,208 925,240 940,300 968,850 955,930 745,935 715,912 455,912 420,885 330,790" /><polyline class="l" points="95,228 342,772 440,850" /><polyline class="l" points="315,222 330,330 352,480 368,650 322,712" /><polyline class="ll" points="300,222 338,480 352,640 310,690" /><polyline class="l" points="440,835 700,835 745,935" /><polyline class="l" points="700,835 962,850" /><polyline class="l" points="440,835 455,912" /><polyline class="l" points="925,240 950,800" /><polyline class="l" points="740,300 940,300" /><polyline class="ll" points="740,318 940,318" /><rect x="458" y="845" width="88" height="20" fill="#ddd" stroke="#888" stroke-width=".5"/><polygon class="w" points="410,125 470,72 715,72 742,112 735,655 700,665 512,670 490,560 440,300 415,220" /><polyline class="l" points="470,72 500,300 522,668" /><polyline class="l" points="715,72 718,300 714,650" /><polyline class="l" points="440,303 735,298" /><polyline class="l" points="442,320 735,315" /><rect x="537" y="258" width="20" height="46" rx="7" fill="#fff" stroke="#888" stroke-width=".6"/><rect x="645" y="256" width="20" height="46" rx="7" fill="#fff" stroke="#888" stroke-width=".6"/><polygon class="w" points="555,600 690,598 695,700 550,705" /><polyline class="l" points="553,625 692,622" /><polyline class="l" points="551,672 694,668" /><path d="M776.6,356.7 L778.6,363.3 L781.4,371.7 L785.1,381.5 L789.3,392.5 L793.9,404.3 L798.7,416.6 L803.5,428.9 L808.3,440.9 L813.0,453.0 L818.1,465.4 L823.2,478.1 L828.5,491.0 L836.1,502.9 L843.6,515.1 L851.1,527.5 L858.5,540.0 L866.2,553.6 L874.4,568.8 L882.9,584.9 L891.3,601.0 L899.3,616.3 L906.6,630.1 L913.0,641.7 L918.1,650.1 L941.9,639.9 L939.3,630.4 L935.4,617.8 L930.6,603.0 L925.0,586.5 L919.0,569.3 L912.9,551.9 L907.0,535.3 L901.5,520.0 L896.2,505.8 L890.9,491.8 L885.5,478.1 L880.2,464.7 L872.8,452.7 L865.5,441.1 L858.5,429.9 L851.7,419.1 L845.0,408.1 L838.0,396.9 L831.1,385.7 L824.5,375.0 L818.2,365.0 L812.5,356.2 L807.5,348.8 L803.4,343.3Z" fill="#4a4a4a" opacity="0.9"/><path d="M757.2,346.1 L759.6,352.0 L762.7,359.9 L766.4,369.3 L770.6,379.8 L774.9,390.7 L779.4,401.5 L783.7,411.8 L787.7,421.0 L791.7,429.7 L796.1,438.5 L800.5,447.3 L804.9,455.7 L809.0,463.6 L812.7,470.6 L815.9,476.4 L818.2,480.9 L821.8,479.1 L819.5,474.5 L816.5,468.6 L812.9,461.5 L808.9,453.7 L804.6,445.2 L800.3,436.4 L796.2,427.6 L792.3,419.0 L788.4,409.8 L784.2,399.6 L779.9,388.7 L775.7,377.7 L771.7,367.3 L768.1,357.8 L765.1,349.8 L762.8,343.9Z" fill="#666"/><path d="M832.2,567.8 L834.6,570.6 L837.6,574.3 L841.1,578.9 L845.0,584.0 L849.1,589.5 L853.3,595.1 L857.6,600.6 L861.8,605.7 L866.1,610.7 L870.8,616.1 L875.7,621.6 L880.6,627.0 L885.3,632.1 L889.5,636.6 L893.2,640.3 L896.0,643.0 L904.0,637.0 L902.1,633.5 L899.4,629.0 L896.2,623.7 L892.5,618.0 L888.7,611.9 L884.9,605.7 L881.3,599.8 L878.2,594.3 L875.3,588.9 L872.3,583.0 L869.2,577.0 L866.3,571.0 L863.5,565.3 L861.1,560.1 L859.2,555.6 L857.8,552.2Z" fill="#2a2a2a" opacity="0.85"/><path d="M789.7,353.8 L790.4,356.6 L791.4,360.1 L792.6,364.2 L794.0,369.1 L795.8,374.6 L797.8,380.7 L800.2,387.6 L803.0,395.0 L806.5,403.8 L810.8,414.4 L815.6,426.1 L820.6,438.1 L825.5,449.9 L830.0,460.6 L833.7,469.5 L836.3,476.0 L863.7,464.0 L860.7,457.6 L856.5,448.8 L851.6,438.3 L846.2,426.9 L840.8,415.1 L835.5,403.7 L830.8,393.4 L827.0,385.0 L823.9,378.1 L821.2,371.8 L818.7,366.0 L816.6,360.9 L814.7,356.4 L813.1,352.4 L811.6,349.0 L810.3,346.2Z" fill="#222" opacity="0.9"/><path d="M187.1,400.8 L191.2,400.1 L196.4,399.1 L202.3,398.0 L209.0,396.8 L216.3,395.6 L224.1,394.4 L232.4,393.5 L241.0,392.7 L250.5,392.0 L261.1,391.3 L272.4,390.7 L284.2,390.2 L296.0,389.8 L307.7,389.7 L318.8,389.9 L329.2,390.4 L339.3,391.1 L349.0,391.8 L358.3,392.6 L367.2,393.7 L375.8,395.2 L384.0,397.1 L391.9,399.7 L399.7,402.9 L407.4,407.1 L415.0,412.1 L422.7,418.1 L430.5,424.6 L438.3,431.7 L446.1,439.0 L454.1,446.5 L461.9,453.7 L469.5,460.8 L477.0,468.1 L484.4,475.7 L491.8,483.5 L499.3,491.2 L506.9,499.0 L514.5,506.5 L522.2,513.6 L529.9,520.3 L537.5,526.9 L545.2,533.3 L552.9,539.4 L560.6,545.4 L568.4,551.1 L576.2,556.5 L584.1,561.6 L592.5,566.5 L601.4,571.0 L610.5,575.3 L619.3,579.2 L627.6,582.6 L635.0,585.6 L641.1,588.1 L645.6,590.1 L654.4,569.9 L649.7,567.8 L643.5,565.2 L636.2,562.1 L628.2,558.7 L619.8,555.0 L611.4,550.9 L603.3,546.7 L595.9,542.4 L588.8,537.7 L581.6,532.7 L574.4,527.3 L567.1,521.6 L559.8,515.6 L552.5,509.4 L545.1,502.9 L537.8,496.4 L530.6,489.7 L523.4,482.5 L516.1,475.0 L508.8,467.3 L501.3,459.4 L493.7,451.5 L485.9,443.7 L478.1,436.3 L470.3,429.1 L462.5,421.7 L454.6,414.1 L446.4,406.6 L437.9,399.4 L429.1,392.5 L419.9,386.4 L410.3,381.1 L400.5,376.9 L390.6,373.6 L380.8,371.2 L370.9,369.4 L361.0,368.1 L351.1,367.1 L341.1,366.4 L330.8,365.6 L319.7,365.0 L307.8,364.7 L295.6,364.8 L283.3,365.1 L271.3,365.5 L259.7,366.1 L248.9,366.7 L239.0,367.3 L229.8,368.1 L220.9,369.1 L212.5,370.2 L204.7,371.4 L197.8,372.6 L191.7,373.7 L186.8,374.6 L182.9,375.2Z" fill="#141414"/><path d="M649.1,588.0 L656.3,589.1 L666.1,590.3 L677.6,591.7 L690.3,593.3 L703.3,595.1 L715.9,597.2 L727.4,599.6 L737.0,602.4 L745.2,605.4 L752.6,608.7 L759.4,612.3 L765.8,616.1 L772.0,620.3 L778.3,624.9 L784.8,630.1 L791.5,635.6 L798.3,641.8 L805.3,648.9 L812.6,656.8 L820.0,665.1 L827.3,673.6 L834.6,682.0 L841.8,690.0 L848.8,697.3 L855.6,703.7 L862.1,709.2 L868.1,714.0 L873.7,718.4 L878.7,722.4 L883.2,726.2 L887.2,730.0 L891.0,734.0 L895.0,738.8 L899.3,744.6 L903.7,750.9 L908.1,757.4 L912.2,763.7 L915.9,769.6 L919.1,774.8 L921.5,778.7 L958.5,751.3 L955.6,748.2 L952.0,743.8 L947.6,738.2 L942.5,732.0 L937.1,725.3 L931.3,718.6 L925.2,712.1 L919.0,706.0 L912.7,700.7 L906.4,696.1 L900.3,692.1 L894.5,688.5 L888.7,685.0 L883.0,681.4 L877.2,677.4 L871.2,672.7 L864.6,667.0 L857.5,660.2 L849.9,652.7 L841.9,644.6 L833.7,636.5 L825.4,628.5 L816.9,621.0 L808.5,614.4 L800.6,608.8 L793.1,603.8 L785.6,599.2 L777.9,594.9 L770.0,591.0 L761.6,587.6 L752.7,584.4 L743.0,581.6 L731.7,579.2 L719.1,577.3 L705.7,575.8 L692.2,574.6 L679.3,573.7 L667.7,573.0 L658.0,572.5 L650.9,572.0Z" fill="#141414"/><circle cx="200" cy="392" r="20" fill="#141414"/><circle cx="218" cy="408" r="12" fill="#141414"/><path d="M296.8,465.4 L300.3,462.2 L304.7,457.9 L309.8,452.9 L315.4,447.6 L321.4,442.2 L327.6,437.2 L333.8,432.8 L339.8,429.4 L346.4,426.5 L354.5,423.8 L363.5,421.3 L372.8,419.1 L381.8,417.1 L390.1,415.4 L397.3,413.9 L402.6,412.7 L397.4,391.3 L392.4,392.6 L385.6,394.1 L377.2,396.0 L367.8,398.2 L358.0,400.7 L348.2,403.5 L338.8,406.8 L330.2,410.6 L322.4,415.3 L314.9,420.8 L307.9,426.7 L301.4,432.6 L295.6,438.4 L290.5,443.5 L286.4,447.7 L283.2,450.6Z" fill="#141414"/><path d="M325.7,352.9 L328.7,354.4 L332.6,356.5 L337.4,359.1 L342.8,362.0 L348.7,365.0 L354.9,367.9 L361.3,370.6 L367.7,372.7 L374.4,374.2 L381.7,375.5 L389.2,376.4 L396.7,377.2 L403.8,377.8 L410.1,378.3 L415.3,378.6 L419.2,379.0 L420.8,365.0 L416.8,364.5 L411.5,363.8 L405.2,363.1 L398.3,362.3 L391.2,361.3 L384.2,360.2 L377.8,358.9 L372.3,357.3 L367.2,355.4 L361.8,353.0 L356.3,350.1 L351.0,347.1 L345.9,344.1 L341.3,341.3 L337.4,338.9 L334.3,337.1Z" fill="#141414"/><path d="M478.0,370.4 L478.3,374.8 L478.4,380.9 L478.5,388.4 L478.8,396.8 L479.2,405.9 L480.0,415.1 L481.4,424.2 L483.4,432.9 L486.4,441.4 L490.2,449.9 L494.6,458.3 L499.1,466.4 L503.5,473.9 L507.6,480.4 L510.9,485.8 L513.2,489.8 L530.8,480.2 L528.5,475.8 L525.2,470.0 L521.5,463.4 L517.4,456.1 L513.4,448.5 L509.7,440.8 L506.7,433.6 L504.6,427.1 L503.3,420.4 L502.4,412.8 L501.9,404.6 L501.7,396.3 L501.8,388.3 L501.9,380.9 L502.0,374.5 L502.0,369.6Z" fill="#141414"/><path d="M648.0,409.4 L647.3,416.5 L646.3,426.1 L645.0,437.7 L643.7,450.5 L642.5,463.9 L641.7,477.1 L641.5,489.7 L642.0,500.9 L643.7,511.2 L646.2,521.3 L649.4,530.9 L652.9,539.9 L656.3,548.1 L659.5,555.2 L662.0,561.0 L663.7,565.4 L680.3,558.6 L678.2,553.9 L675.4,547.9 L672.0,541.0 L668.5,533.3 L665.1,525.1 L662.0,516.5 L659.5,507.8 L658.0,499.1 L657.2,489.3 L657.2,477.6 L657.7,464.8 L658.6,451.8 L659.6,439.1 L660.7,427.5 L661.5,417.8 L662.0,410.6Z" fill="#141414"/><path d="M551.4,447.4 L550.3,451.0 L548.6,456.1 L546.4,462.4 L544.0,469.5 L541.8,477.2 L540.0,485.2 L539.2,493.3 L539.6,501.3 L541.8,509.1 L545.2,516.5 L549.4,523.6 L554.0,530.4 L558.6,536.5 L562.8,541.9 L566.1,546.3 L568.4,549.5 L581.6,540.5 L579.2,536.8 L575.7,532.1 L571.7,526.8 L567.5,520.9 L563.5,514.8 L560.1,508.8 L557.6,503.3 L556.4,498.7 L556.3,494.0 L557.0,488.1 L558.6,481.6 L560.6,474.8 L563.0,468.2 L565.3,462.1 L567.3,456.7 L568.6,452.6Z" fill="#141414"/><path d="M690.0,490.4 L690.2,494.2 L690.3,499.2 L690.5,505.4 L690.8,512.3 L691.2,519.6 L691.9,527.0 L692.8,534.4 L694.2,541.5 L696.1,548.5 L698.6,555.9 L701.4,563.4 L704.3,570.7 L707.3,577.6 L709.9,583.8 L712.1,588.9 L713.6,592.7 L726.4,587.3 L724.6,583.4 L722.2,578.2 L719.4,572.2 L716.3,565.5 L713.2,558.5 L710.3,551.5 L707.7,544.7 L705.8,538.5 L704.4,532.4 L703.3,525.6 L702.4,518.5 L701.7,511.5 L701.2,504.8 L700.8,498.7 L700.4,493.5 L700.0,489.6Z" fill="#141414"/><path d="M678.7,371.8 L682.2,376.1 L686.9,381.6 L692.5,388.1 L698.6,395.3 L705.0,402.8 L711.3,410.4 L717.1,417.8 L722.2,424.6 L726.4,430.7 L730.3,436.7 L733.8,442.6 L737.4,448.7 L741.2,455.3 L745.4,462.5 L750.2,470.5 L755.8,479.3 L762.7,488.9 L770.3,499.5 L778.6,511.0 L787.1,522.9 L795.7,534.8 L804.0,546.4 L812.0,557.4 L819.2,567.2 L826.0,576.5 L832.8,585.6 L839.4,594.5 L845.7,602.8 L851.4,610.4 L856.6,617.1 L861.0,622.7 L864.6,627.1 L879.4,616.9 L876.7,612.1 L873.1,605.9 L868.8,598.6 L863.8,590.4 L858.4,581.6 L852.7,572.2 L846.8,562.5 L840.8,552.8 L834.4,542.3 L827.3,530.9 L819.8,518.7 L812.0,506.2 L804.4,493.8 L797.0,481.8 L790.2,470.7 L784.2,460.7 L778.8,452.4 L774.0,445.0 L769.7,438.1 L765.7,431.7 L761.7,425.3 L757.5,418.9 L752.9,412.4 L747.8,405.4 L742.0,398.1 L735.5,390.3 L728.8,382.5 L722.0,374.9 L715.5,367.7 L709.7,361.4 L704.9,356.1 L701.3,352.2Z" fill="#141414"/><ellipse cx="760" cy="455" rx="30" ry="24" fill="#141414"/><path d="M769.6,572.7 L772.5,579.0 L775.4,585.4 L778.3,591.8 L781.2,598.1 L784.1,604.5 L787.0,610.9 L789.9,617.2 L792.8,623.6 L807.2,616.4 L803.8,610.3 L800.5,604.1 L797.1,598.0 L793.8,591.9 L790.4,585.7 L787.1,579.6 L783.7,573.5 L780.4,567.3Z" fill="#141414"/><circle cx="385.2" cy="308.8" r="27.2" fill="#d8222c" opacity="0.92"/><circle cx="393.6" cy="329.7" r="24.6" fill="#d8222c" opacity="0.92"/><circle cx="376.3" cy="344.1" r="25.7" fill="#d8222c" opacity="0.92"/><circle cx="357.2" cy="332.1" r="22.3" fill="#d8222c" opacity="0.92"/><circle cx="362.7" cy="310.3" r="25.9" fill="#d8222c" opacity="0.92"/><circle cx="375" cy="325" r="16.8" fill="#b8121e" opacity=".55"/><circle cx="375" cy="325" r="8.0" fill="#5a0810" opacity=".8"/><circle cx="299.0" cy="453.5" r="26.0" fill="#d8222c" opacity="0.92"/><circle cx="320.4" cy="453.1" r="25.1" fill="#d8222c" opacity="0.92"/><circle cx="327.4" cy="473.3" r="22.3" fill="#d8222c" opacity="0.92"/><circle cx="310.4" cy="486.1" r="22.8" fill="#d8222c" opacity="0.92"/><circle cx="292.9" cy="474.0" r="24.3" fill="#d8222c" opacity="0.92"/><circle cx="310" cy="468" r="15.9" fill="#b8121e" opacity=".55"/><circle cx="310" cy="468" r="7.6" fill="#5a0810" opacity=".8"/><circle cx="591.0" cy="388.0" r="27.1" fill="#d8222c" opacity="0.92"/><circle cx="573.6" cy="405.9" r="25.3" fill="#d8222c" opacity="0.92"/><circle cx="551.3" cy="394.9" r="25.0" fill="#d8222c" opacity="0.92"/><circle cx="554.8" cy="370.3" r="24.6" fill="#d8222c" opacity="0.92"/><circle cx="579.3" cy="366.0" r="29.0" fill="#d8222c" opacity="0.92"/><circle cx="570" cy="385" r="18.5" fill="#b8121e" opacity=".55"/><circle cx="570" cy="385" r="8.8" fill="#5a0810" opacity=".8"/><circle cx="626.6" cy="477.4" r="25.8" fill="#d8222c" opacity="0.92"/><circle cx="601.9" cy="480.6" r="26.7" fill="#d8222c" opacity="0.92"/><circle cx="591.2" cy="458.1" r="29.6" fill="#d8222c" opacity="0.92"/><circle cx="609.2" cy="441.0" r="24.8" fill="#d8222c" opacity="0.92"/><circle cx="631.1" cy="452.9" r="27.0" fill="#d8222c" opacity="0.92"/><circle cx="612" cy="462" r="18.5" fill="#b8121e" opacity=".55"/><circle cx="612" cy="462" r="8.8" fill="#5a0810" opacity=".8"/><circle cx="668.7" cy="372.8" r="24.1" fill="#d8222c" opacity="0.92"/><circle cx="684.9" cy="360.9" r="23.7" fill="#d8222c" opacity="0.92"/><circle cx="701.3" cy="372.6" r="24.0" fill="#d8222c" opacity="0.92"/><circle cx="695.1" cy="391.8" r="21.0" fill="#d8222c" opacity="0.92"/><circle cx="675.0" cy="391.9" r="21.7" fill="#d8222c" opacity="0.92"/><circle cx="685" cy="378" r="15.0" fill="#b8121e" opacity=".55"/><circle cx="685" cy="378" r="7.1" fill="#5a0810" opacity=".8"/><circle cx="731.7" cy="556.4" r="29.7" fill="#d8222c" opacity="0.92"/><circle cx="725.2" cy="532.4" r="30.2" fill="#d8222c" opacity="0.92"/><circle cx="746.1" cy="518.9" r="25.2" fill="#d8222c" opacity="0.92"/><circle cx="765.5" cy="534.6" r="25.3" fill="#d8222c" opacity="0.92"/><circle cx="756.5" cy="557.8" r="25.7" fill="#d8222c" opacity="0.92"/><circle cx="745" cy="540" r="18.5" fill="#b8121e" opacity=".55"/><circle cx="745" cy="540" r="8.8" fill="#5a0810" opacity=".8"/><circle cx="451.4" cy="551.0" r="16.9" fill="#e85a68" opacity="0.85"/><circle cx="438.0" cy="543.3" r="17.3" fill="#e85a68" opacity="0.85"/><circle cx="441.2" cy="528.3" r="16.0" fill="#e85a68" opacity="0.85"/><circle cx="456.5" cy="526.6" r="15.0" fill="#e85a68" opacity="0.85"/><circle cx="462.8" cy="540.7" r="16.6" fill="#e85a68" opacity="0.85"/><circle cx="802.0" cy="696.0" r="25.1" fill="#f0a0a8" opacity="0.85"/><circle cx="797.6" cy="673.9" r="27.3" fill="#f0a0a8" opacity="0.85"/><circle cx="817.3" cy="663.0" r="25.8" fill="#f0a0a8" opacity="0.85"/><circle cx="833.8" cy="678.3" r="24.8" fill="#f0a0a8" opacity="0.85"/><circle cx="824.3" cy="698.7" r="25.4" fill="#f0a0a8" opacity="0.85"/><ellipse cx="795" cy="682" rx="16" ry="6" fill="#a01020" transform="rotate(-25 795 682)"/><ellipse cx="775" cy="640" rx="10" ry="4" fill="#a01020" transform="rotate(-25 775 640)"/></g></g>
<g transform="translate(180,190) scale(0.23436)"><polygon points="305,280 160,335 120,440 150,500 335,628 350,682 395,716 400,742 485,802 485,525 392,542 388,520" fill="#393939" stroke="#1f1f1f" stroke-width="1.2" stroke-linejoin="round"/><polygon points="283,60 274,78 300,255 362,522 372,560 392,545 388,515 320,230 292,72" fill="#393939" stroke="#1f1f1f" stroke-width="1.2" stroke-linejoin="round"/><polyline points="281,75 305,250 372,540" fill="none" stroke="#1a1a1a" stroke-width=".7"/><polyline points="160,335 140,440 170,505 340,612 352,665 398,705 402,730 485,785" fill="none" stroke="#1e1e1e" stroke-width=".8"/><polyline points="140,425 300,355 318,345" fill="none" stroke="#1e1e1e" stroke-width=".8"/><polyline points="140,440 120,440" fill="none" stroke="#1e1e1e" stroke-width=".8"/><polyline points="360,520 372,600 390,680 395,716" fill="none" stroke="#1e1e1e" stroke-width=".8"/><polyline points="372,560 392,570 485,560" fill="none" stroke="#1e1e1e" stroke-width=".8"/><polyline points="392,545 392,570" fill="none" stroke="#1e1e1e" stroke-width=".8"/><polygon points="178,425 228,424 236,446 186,463" fill="#ee1c1c" stroke="#1a1a1a" stroke-width=".8" stroke-linejoin="round"/><line x1="192" y1="492" x2="330" y2="586" stroke="#e2341f" stroke-width="2.6" stroke-linecap="round"/><g transform="translate(970,0) scale(-1,1)"><polygon points="305,280 160,335 120,440 150,500 335,628 350,682 395,716 400,742 485,802 485,525 392,542 388,520" fill="#393939" stroke="#1f1f1f" stroke-width="1.2" stroke-linejoin="round"/><polygon points="283,60 274,78 300,255 362,522 372,560 392,545 388,515 320,230 292,72" fill="#393939" stroke="#1f1f1f" stroke-width="1.2" stroke-linejoin="round"/><polyline points="281,75 305,250 372,540" fill="none" stroke="#1a1a1a" stroke-width=".7"/><polyline points="160,335 140,440 170,505 340,612 352,665 398,705 402,730 485,785" fill="none" stroke="#1e1e1e" stroke-width=".8"/><polyline points="140,425 300,355 318,345" fill="none" stroke="#1e1e1e" stroke-width=".8"/><polyline points="140,440 120,440" fill="none" stroke="#1e1e1e" stroke-width=".8"/><polyline points="360,520 372,600 390,680 395,716" fill="none" stroke="#1e1e1e" stroke-width=".8"/><polyline points="372,560 392,570 485,560" fill="none" stroke="#1e1e1e" stroke-width=".8"/><polyline points="392,545 392,570" fill="none" stroke="#1e1e1e" stroke-width=".8"/><polygon points="178,425 228,424 236,446 186,463" fill="#ee1c1c" stroke="#1a1a1a" stroke-width=".8" stroke-linejoin="round"/><line x1="192" y1="492" x2="330" y2="586" stroke="#e2341f" stroke-width="2.6" stroke-linecap="round"/></g><line x1="485" y1="525" x2="485" y2="802" stroke="#1e1e1e" stroke-width=".8"/></g>
<g transform="translate(415,225) scale(0.14648)"><polygon points="65,182 200,130 345,92 348,425 160,345" fill="#fff" stroke="#4a4a4a" stroke-width=".8" stroke-linejoin="round"/><polyline points="65,182 160,255 160,345" fill="none" stroke="#4a4a4a" stroke-width=".8" stroke-linejoin="round"/><rect x="180" y="255" width="78" height="20" rx="5" fill="#fff" stroke="#4a4a4a" stroke-width=".8" stroke-linejoin="round"/><polygon points="735,100 880,145 955,180 895,350 735,420" fill="#fff" stroke="#4a4a4a" stroke-width=".8" stroke-linejoin="round"/><polyline points="955,180 890,270 895,350" fill="none" stroke="#4a4a4a" stroke-width=".8" stroke-linejoin="round"/><rect x="785" y="261" width="78" height="21" rx="5" fill="#fff" stroke="#4a4a4a" stroke-width=".8" stroke-linejoin="round"/><ellipse cx="535" cy="100" rx="70" ry="16" fill="#cfcfcf" stroke="#777" stroke-width=".6"/><ellipse cx="535" cy="425" rx="70" ry="16" fill="#cfcfcf" stroke="#777" stroke-width=".6"/><path d="M362,88 L440,100 L630,100 L712,88 Q722,92 722,104 L722,420 Q722,432 712,436 L630,425 L440,425 L362,436 Q352,432 352,420 L352,104 Q352,92 362,88Z" fill="#c9c9c9" stroke="#484848" stroke-width=".9"/><polyline points="362,92 435,150 640,150 712,92" fill="none" stroke="#6a6a6a" stroke-width=".7"/><polyline points="362,432 440,380 630,380 712,432" fill="none" stroke="#6a6a6a" stroke-width=".7"/><polyline points="470,138 605,138" fill="none" stroke="#888" stroke-width=".6"/><polyline points="470,392 605,392" fill="none" stroke="#888" stroke-width=".6"/><rect x="340" y="110" width="12" height="300" fill="#ddd" stroke="#777" stroke-width=".5"/><rect x="722" y="110" width="12" height="300" fill="#ddd" stroke="#777" stroke-width=".5"/><path d="M378.1,396.9 L382.7,393.7 L388.9,389.4 L396.2,384.4 L404.5,378.7 L413.2,372.7 L422.3,366.4 L431.2,360.2 L439.7,354.2 L448.0,348.5 L456.9,342.6 L466.2,336.4 L475.7,330.1 L485.2,323.5 L494.5,316.6 L503.4,309.3 L511.6,301.6 L518.9,293.4 L525.3,285.0 L531.0,276.5 L535.9,268.2 L540.1,259.9 L544.0,252.1 L547.8,244.7 L551.7,237.7 L555.9,230.6 L560.3,223.3 L564.7,216.1 L568.9,209.0 L573.0,202.4 L576.7,196.2 L580.1,190.7 L582.9,186.1 L585.2,182.5 L587.1,179.6 L588.7,177.2 L590.0,175.4 L591.1,173.8 L592.1,172.4 L593.2,170.9 L594.0,169.5 L586.0,160.5 L584.8,160.9 L583.4,161.4 L581.6,162.2 L579.4,163.4 L576.8,165.1 L573.9,167.3 L570.7,170.2 L567.1,173.9 L563.2,178.3 L558.8,183.4 L554.2,189.1 L549.2,195.3 L544.1,201.9 L538.8,208.6 L533.6,215.4 L528.3,222.3 L523.1,229.5 L518.1,237.0 L513.2,244.5 L508.4,251.8 L503.9,259.1 L499.1,266.0 L494.0,272.4 L488.4,278.4 L481.9,284.3 L474.3,290.2 L466.0,296.2 L457.0,302.2 L447.8,308.1 L438.4,314.0 L429.1,320.0 L420.3,325.8 L411.6,331.7 L402.7,337.7 L393.6,343.7 L384.8,349.5 L376.5,355.0 L369.0,359.9 L362.7,364.0 L357.9,367.1Z" fill="#151515"/><path d="M381.7,374.5 L386.3,371.2 L392.5,367.0 L399.8,361.9 L408.0,356.3 L416.6,350.3 L425.3,344.1 L433.8,338.1 L441.8,332.4 L449.7,326.6 L458.2,320.3 L466.9,313.8 L475.6,307.3 L483.7,301.1 L491.0,295.5 L497.2,290.9 L501.8,287.4 L498.2,282.6 L493.6,286.1 L487.4,290.8 L480.1,296.3 L471.9,302.5 L463.3,309.0 L454.6,315.5 L446.1,321.8 L438.2,327.6 L430.3,333.2 L421.9,339.2 L413.1,345.4 L404.5,351.3 L396.4,357.0 L389.1,362.1 L382.9,366.3 L378.3,369.5Z" fill="#777"/><path d="M571.4,185.8 L574.5,185.0 L578.6,183.8 L583.4,182.4 L588.7,180.9 L594.3,179.5 L599.9,178.3 L605.3,177.3 L610.1,176.8 L614.8,176.8 L619.7,177.1 L624.7,177.7 L629.8,178.4 L634.9,179.3 L639.9,180.2 L644.8,181.0 L649.4,181.6 L654.0,182.1 L658.5,182.6 L662.9,183.0 L667.1,183.4 L671.0,183.8 L674.5,184.1 L677.4,184.3 L679.7,184.5 L680.3,179.5 L678.1,179.1 L675.2,178.6 L671.8,178.0 L667.9,177.3 L663.7,176.6 L659.4,175.9 L654.9,175.1 L650.6,174.4 L646.2,173.5 L641.5,172.4 L636.6,171.3 L631.4,170.1 L626.1,169.0 L620.8,168.1 L615.3,167.4 L609.9,167.2 L604.2,167.4 L598.2,168.1 L592.2,169.2 L586.3,170.4 L580.7,171.6 L575.8,172.7 L571.7,173.6 L568.6,174.2Z" fill="#151515"/><path d="M574.1,203.4 L577.7,204.2 L582.4,205.3 L588.0,206.6 L594.2,208.0 L600.7,209.6 L607.3,211.3 L613.5,213.0 L619.1,214.6 L624.6,216.4 L630.4,218.5 L636.2,220.7 L641.9,222.9 L647.3,225.1 L652.1,227.0 L656.1,228.7 L659.2,229.8 L660.8,226.2 L657.8,224.8 L653.8,223.0 L649.0,220.9 L643.7,218.6 L638.0,216.1 L632.2,213.7 L626.4,211.4 L620.9,209.4 L615.1,207.5 L608.8,205.6 L602.3,203.7 L595.8,202.0 L589.6,200.3 L584.0,198.8 L579.3,197.6 L575.9,196.6Z" fill="#151515"/><path d="M515.6,270.5 L519.1,272.6 L522.5,274.7 L525.9,276.8 L529.4,278.9 L532.8,281.0 L536.3,283.1 L539.7,285.2 L543.1,287.3 L546.9,282.7 L544.1,279.8 L541.2,276.9 L538.4,274.0 L535.6,271.1 L532.8,268.2 L530.0,265.3 L527.2,262.4 L524.4,259.5Z" fill="#151515"/><circle cx="460.7" cy="209.4" r="11.2" fill="#d8222c" opacity="0.92"/><circle cx="471.8" cy="211.2" r="13.5" fill="#d8222c" opacity="0.92"/><circle cx="473.5" cy="222.4" r="13.2" fill="#d8222c" opacity="0.92"/><circle cx="463.4" cy="227.5" r="13.4" fill="#d8222c" opacity="0.92"/><circle cx="455.5" cy="219.5" r="13.2" fill="#d8222c" opacity="0.92"/><circle cx="489.9" cy="237.7" r="11.5" fill="#d8222c" opacity="0.92"/><circle cx="489.4" cy="227.0" r="10.7" fill="#d8222c" opacity="0.92"/><circle cx="499.4" cy="223.2" r="12.1" fill="#d8222c" opacity="0.92"/><circle cx="506.1" cy="231.6" r="10.6" fill="#d8222c" opacity="0.92"/><circle cx="500.2" cy="240.5" r="10.6" fill="#d8222c" opacity="0.92"/><circle cx="471.7" cy="256.5" r="8.0" fill="#d8222c" opacity="0.92"/><circle cx="464.4" cy="253.6" r="8.4" fill="#d8222c" opacity="0.92"/><circle cx="464.8" cy="245.8" r="7.8" fill="#d8222c" opacity="0.92"/><circle cx="472.4" cy="243.7" r="7.7" fill="#d8222c" opacity="0.92"/><circle cx="476.7" cy="250.4" r="8.0" fill="#d8222c" opacity="0.92"/><circle cx="398.1" cy="296.0" r="12.6" fill="#d8222c" opacity="0.92"/><circle cx="386.8" cy="299.6" r="11.6" fill="#d8222c" opacity="0.92"/><circle cx="379.9" cy="289.9" r="14.1" fill="#d8222c" opacity="0.92"/><circle cx="387.0" cy="280.4" r="13.4" fill="#d8222c" opacity="0.92"/><circle cx="398.2" cy="284.1" r="12.0" fill="#d8222c" opacity="0.92"/><circle cx="401.9" cy="333.2" r="10.2" fill="#d8222c" opacity="0.92"/><circle cx="394.2" cy="327.4" r="10.2" fill="#d8222c" opacity="0.92"/><circle cx="397.3" cy="318.3" r="9.6" fill="#d8222c" opacity="0.92"/><circle cx="406.9" cy="318.5" r="11.4" fill="#d8222c" opacity="0.92"/><circle cx="409.7" cy="327.6" r="11.7" fill="#d8222c" opacity="0.92"/><circle cx="435.9" cy="273.3" r="8.0" fill="#d8222c" opacity="0.92"/><circle cx="438.8" cy="266.6" r="7.3" fill="#d8222c" opacity="0.92"/><circle cx="446.1" cy="267.3" r="7.3" fill="#d8222c" opacity="0.92"/><circle cx="447.7" cy="274.5" r="7.8" fill="#d8222c" opacity="0.92"/><circle cx="441.4" cy="278.2" r="7.6" fill="#d8222c" opacity="0.92"/><circle cx="382.3" cy="333.8" r="5.7" fill="#d8222c" opacity="0.92"/><circle cx="384.7" cy="338.9" r="5.5" fill="#d8222c" opacity="0.92"/><circle cx="380.6" cy="342.8" r="6.8" fill="#d8222c" opacity="0.92"/><circle cx="375.7" cy="340.1" r="6.2" fill="#d8222c" opacity="0.92"/><circle cx="376.7" cy="334.5" r="5.7" fill="#d8222c" opacity="0.92"/><circle cx="524.4" cy="194.5" r="6.6" fill="#d8222c" opacity="0.92"/><circle cx="529.7" cy="190.2" r="7.5" fill="#d8222c" opacity="0.92"/><circle cx="535.4" cy="194.0" r="8.2" fill="#d8222c" opacity="0.92"/><circle cx="533.6" cy="200.5" r="8.1" fill="#d8222c" opacity="0.92"/><circle cx="526.8" cy="200.8" r="7.8" fill="#d8222c" opacity="0.92"/><circle cx="664.6" cy="185.3" r="6.6" fill="#d8222c" opacity="0.92"/><circle cx="659.9" cy="181.3" r="6.3" fill="#d8222c" opacity="0.92"/><circle cx="662.2" cy="175.5" r="7.2" fill="#d8222c" opacity="0.92"/><circle cx="668.4" cy="176.0" r="6.9" fill="#d8222c" opacity="0.92"/><circle cx="669.9" cy="182.0" r="7.2" fill="#d8222c" opacity="0.92"/><circle cx="669.0" cy="237.5" r="7.6" fill="#d8222c" opacity="0.92"/><circle cx="665.9" cy="230.9" r="8.6" fill="#d8222c" opacity="0.92"/><circle cx="671.2" cy="225.8" r="8.9" fill="#d8222c" opacity="0.92"/><circle cx="677.6" cy="229.3" r="8.7" fill="#d8222c" opacity="0.92"/><circle cx="676.3" cy="236.5" r="8.6" fill="#d8222c" opacity="0.92"/><circle cx="601.8" cy="201.1" r="5.9" fill="#d8222c" opacity="0.92"/><circle cx="604.3" cy="205.5" r="5.2" fill="#d8222c" opacity="0.92"/><circle cx="600.9" cy="209.2" r="5.6" fill="#d8222c" opacity="0.92"/><circle cx="596.2" cy="207.1" r="5.4" fill="#d8222c" opacity="0.92"/><circle cx="596.8" cy="202.1" r="5.0" fill="#d8222c" opacity="0.92"/><circle cx="594.3" cy="236.8" r="5.3" fill="#d8222c" opacity="0.92"/><circle cx="590.6" cy="240.3" r="5.3" fill="#d8222c" opacity="0.92"/><circle cx="586.1" cy="237.9" r="5.8" fill="#d8222c" opacity="0.92"/><circle cx="587.0" cy="232.9" r="6.2" fill="#d8222c" opacity="0.92"/><circle cx="592.0" cy="232.2" r="5.5" fill="#d8222c" opacity="0.92"/><circle cx="633.5" cy="193.5" r="5.5" fill="#d8222c" opacity="0.92"/><circle cx="632.5" cy="197.9" r="5.5" fill="#d8222c" opacity="0.92"/><circle cx="628.0" cy="198.3" r="4.8" fill="#d8222c" opacity="0.92"/><circle cx="626.3" cy="194.1" r="4.6" fill="#d8222c" opacity="0.92"/><circle cx="629.7" cy="191.2" r="4.7" fill="#d8222c" opacity="0.92"/></g>
<g transform="translate(415,225) scale(0.14648)"><g transform="translate(2177.8,0) scale(-1,1)"><polygon points="65,182 200,130 345,92 348,425 160,345" fill="#fff" stroke="#4a4a4a" stroke-width=".8" stroke-linejoin="round"/><polyline points="65,182 160,255 160,345" fill="none" stroke="#4a4a4a" stroke-width=".8" stroke-linejoin="round"/><rect x="180" y="255" width="78" height="20" rx="5" fill="#fff" stroke="#4a4a4a" stroke-width=".8" stroke-linejoin="round"/><polygon points="735,100 880,145 955,180 895,350 735,420" fill="#fff" stroke="#4a4a4a" stroke-width=".8" stroke-linejoin="round"/><polyline points="955,180 890,270 895,350" fill="none" stroke="#4a4a4a" stroke-width=".8" stroke-linejoin="round"/><rect x="785" y="261" width="78" height="21" rx="5" fill="#fff" stroke="#4a4a4a" stroke-width=".8" stroke-linejoin="round"/><ellipse cx="535" cy="100" rx="70" ry="16" fill="#cfcfcf" stroke="#777" stroke-width=".6"/><ellipse cx="535" cy="425" rx="70" ry="16" fill="#cfcfcf" stroke="#777" stroke-width=".6"/><path d="M362,88 L440,100 L630,100 L712,88 Q722,92 722,104 L722,420 Q722,432 712,436 L630,425 L440,425 L362,436 Q352,432 352,420 L352,104 Q352,92 362,88Z" fill="#c9c9c9" stroke="#484848" stroke-width=".9"/><polyline points="362,92 435,150 640,150 712,92" fill="none" stroke="#6a6a6a" stroke-width=".7"/><polyline points="362,432 440,380 630,380 712,432" fill="none" stroke="#6a6a6a" stroke-width=".7"/><polyline points="470,138 605,138" fill="none" stroke="#888" stroke-width=".6"/><polyline points="470,392 605,392" fill="none" stroke="#888" stroke-width=".6"/><rect x="340" y="110" width="12" height="300" fill="#ddd" stroke="#777" stroke-width=".5"/><rect x="722" y="110" width="12" height="300" fill="#ddd" stroke="#777" stroke-width=".5"/><path d="M378.1,396.9 L382.7,393.7 L388.9,389.4 L396.2,384.4 L404.5,378.7 L413.2,372.7 L422.3,366.4 L431.2,360.2 L439.7,354.2 L448.0,348.5 L456.9,342.6 L466.2,336.4 L475.7,330.1 L485.2,323.5 L494.5,316.6 L503.4,309.3 L511.6,301.6 L518.9,293.4 L525.3,285.0 L531.0,276.5 L535.9,268.2 L540.1,259.9 L544.0,252.1 L547.8,244.7 L551.7,237.7 L555.9,230.6 L560.3,223.3 L564.7,216.1 L568.9,209.0 L573.0,202.4 L576.7,196.2 L580.1,190.7 L582.9,186.1 L585.2,182.5 L587.1,179.6 L588.7,177.2 L590.0,175.4 L591.1,173.8 L592.1,172.4 L593.2,170.9 L594.0,169.5 L586.0,160.5 L584.8,160.9 L583.4,161.4 L581.6,162.2 L579.4,163.4 L576.8,165.1 L573.9,167.3 L570.7,170.2 L567.1,173.9 L563.2,178.3 L558.8,183.4 L554.2,189.1 L549.2,195.3 L544.1,201.9 L538.8,208.6 L533.6,215.4 L528.3,222.3 L523.1,229.5 L518.1,237.0 L513.2,244.5 L508.4,251.8 L503.9,259.1 L499.1,266.0 L494.0,272.4 L488.4,278.4 L481.9,284.3 L474.3,290.2 L466.0,296.2 L457.0,302.2 L447.8,308.1 L438.4,314.0 L429.1,320.0 L420.3,325.8 L411.6,331.7 L402.7,337.7 L393.6,343.7 L384.8,349.5 L376.5,355.0 L369.0,359.9 L362.7,364.0 L357.9,367.1Z" fill="#151515"/><path d="M381.7,374.5 L386.3,371.2 L392.5,367.0 L399.8,361.9 L408.0,356.3 L416.6,350.3 L425.3,344.1 L433.8,338.1 L441.8,332.4 L449.7,326.6 L458.2,320.3 L466.9,313.8 L475.6,307.3 L483.7,301.1 L491.0,295.5 L497.2,290.9 L501.8,287.4 L498.2,282.6 L493.6,286.1 L487.4,290.8 L480.1,296.3 L471.9,302.5 L463.3,309.0 L454.6,315.5 L446.1,321.8 L438.2,327.6 L430.3,333.2 L421.9,339.2 L413.1,345.4 L404.5,351.3 L396.4,357.0 L389.1,362.1 L382.9,366.3 L378.3,369.5Z" fill="#777"/><path d="M571.4,185.8 L574.5,185.0 L578.6,183.8 L583.4,182.4 L588.7,180.9 L594.3,179.5 L599.9,178.3 L605.3,177.3 L610.1,176.8 L614.8,176.8 L619.7,177.1 L624.7,177.7 L629.8,178.4 L634.9,179.3 L639.9,180.2 L644.8,181.0 L649.4,181.6 L654.0,182.1 L658.5,182.6 L662.9,183.0 L667.1,183.4 L671.0,183.8 L674.5,184.1 L677.4,184.3 L679.7,184.5 L680.3,179.5 L678.1,179.1 L675.2,178.6 L671.8,178.0 L667.9,177.3 L663.7,176.6 L659.4,175.9 L654.9,175.1 L650.6,174.4 L646.2,173.5 L641.5,172.4 L636.6,171.3 L631.4,170.1 L626.1,169.0 L620.8,168.1 L615.3,167.4 L609.9,167.2 L604.2,167.4 L598.2,168.1 L592.2,169.2 L586.3,170.4 L580.7,171.6 L575.8,172.7 L571.7,173.6 L568.6,174.2Z" fill="#151515"/><path d="M574.1,203.4 L577.7,204.2 L582.4,205.3 L588.0,206.6 L594.2,208.0 L600.7,209.6 L607.3,211.3 L613.5,213.0 L619.1,214.6 L624.6,216.4 L630.4,218.5 L636.2,220.7 L641.9,222.9 L647.3,225.1 L652.1,227.0 L656.1,228.7 L659.2,229.8 L660.8,226.2 L657.8,224.8 L653.8,223.0 L649.0,220.9 L643.7,218.6 L638.0,216.1 L632.2,213.7 L626.4,211.4 L620.9,209.4 L615.1,207.5 L608.8,205.6 L602.3,203.7 L595.8,202.0 L589.6,200.3 L584.0,198.8 L579.3,197.6 L575.9,196.6Z" fill="#151515"/><path d="M515.6,270.5 L519.1,272.6 L522.5,274.7 L525.9,276.8 L529.4,278.9 L532.8,281.0 L536.3,283.1 L539.7,285.2 L543.1,287.3 L546.9,282.7 L544.1,279.8 L541.2,276.9 L538.4,274.0 L535.6,271.1 L532.8,268.2 L530.0,265.3 L527.2,262.4 L524.4,259.5Z" fill="#151515"/><circle cx="460.7" cy="209.4" r="11.2" fill="#d8222c" opacity="0.92"/><circle cx="471.8" cy="211.2" r="13.5" fill="#d8222c" opacity="0.92"/><circle cx="473.5" cy="222.4" r="13.2" fill="#d8222c" opacity="0.92"/><circle cx="463.4" cy="227.5" r="13.4" fill="#d8222c" opacity="0.92"/><circle cx="455.5" cy="219.5" r="13.2" fill="#d8222c" opacity="0.92"/><circle cx="489.9" cy="237.7" r="11.5" fill="#d8222c" opacity="0.92"/><circle cx="489.4" cy="227.0" r="10.7" fill="#d8222c" opacity="0.92"/><circle cx="499.4" cy="223.2" r="12.1" fill="#d8222c" opacity="0.92"/><circle cx="506.1" cy="231.6" r="10.6" fill="#d8222c" opacity="0.92"/><circle cx="500.2" cy="240.5" r="10.6" fill="#d8222c" opacity="0.92"/><circle cx="471.7" cy="256.5" r="8.0" fill="#d8222c" opacity="0.92"/><circle cx="464.4" cy="253.6" r="8.4" fill="#d8222c" opacity="0.92"/><circle cx="464.8" cy="245.8" r="7.8" fill="#d8222c" opacity="0.92"/><circle cx="472.4" cy="243.7" r="7.7" fill="#d8222c" opacity="0.92"/><circle cx="476.7" cy="250.4" r="8.0" fill="#d8222c" opacity="0.92"/><circle cx="398.1" cy="296.0" r="12.6" fill="#d8222c" opacity="0.92"/><circle cx="386.8" cy="299.6" r="11.6" fill="#d8222c" opacity="0.92"/><circle cx="379.9" cy="289.9" r="14.1" fill="#d8222c" opacity="0.92"/><circle cx="387.0" cy="280.4" r="13.4" fill="#d8222c" opacity="0.92"/><circle cx="398.2" cy="284.1" r="12.0" fill="#d8222c" opacity="0.92"/><circle cx="401.9" cy="333.2" r="10.2" fill="#d8222c" opacity="0.92"/><circle cx="394.2" cy="327.4" r="10.2" fill="#d8222c" opacity="0.92"/><circle cx="397.3" cy="318.3" r="9.6" fill="#d8222c" opacity="0.92"/><circle cx="406.9" cy="318.5" r="11.4" fill="#d8222c" opacity="0.92"/><circle cx="409.7" cy="327.6" r="11.7" fill="#d8222c" opacity="0.92"/><circle cx="435.9" cy="273.3" r="8.0" fill="#d8222c" opacity="0.92"/><circle cx="438.8" cy="266.6" r="7.3" fill="#d8222c" opacity="0.92"/><circle cx="446.1" cy="267.3" r="7.3" fill="#d8222c" opacity="0.92"/><circle cx="447.7" cy="274.5" r="7.8" fill="#d8222c" opacity="0.92"/><circle cx="441.4" cy="278.2" r="7.6" fill="#d8222c" opacity="0.92"/><circle cx="382.3" cy="333.8" r="5.7" fill="#d8222c" opacity="0.92"/><circle cx="384.7" cy="338.9" r="5.5" fill="#d8222c" opacity="0.92"/><circle cx="380.6" cy="342.8" r="6.8" fill="#d8222c" opacity="0.92"/><circle cx="375.7" cy="340.1" r="6.2" fill="#d8222c" opacity="0.92"/><circle cx="376.7" cy="334.5" r="5.7" fill="#d8222c" opacity="0.92"/><circle cx="524.4" cy="194.5" r="6.6" fill="#d8222c" opacity="0.92"/><circle cx="529.7" cy="190.2" r="7.5" fill="#d8222c" opacity="0.92"/><circle cx="535.4" cy="194.0" r="8.2" fill="#d8222c" opacity="0.92"/><circle cx="533.6" cy="200.5" r="8.1" fill="#d8222c" opacity="0.92"/><circle cx="526.8" cy="200.8" r="7.8" fill="#d8222c" opacity="0.92"/><circle cx="664.6" cy="185.3" r="6.6" fill="#d8222c" opacity="0.92"/><circle cx="659.9" cy="181.3" r="6.3" fill="#d8222c" opacity="0.92"/><circle cx="662.2" cy="175.5" r="7.2" fill="#d8222c" opacity="0.92"/><circle cx="668.4" cy="176.0" r="6.9" fill="#d8222c" opacity="0.92"/><circle cx="669.9" cy="182.0" r="7.2" fill="#d8222c" opacity="0.92"/><circle cx="669.0" cy="237.5" r="7.6" fill="#d8222c" opacity="0.92"/><circle cx="665.9" cy="230.9" r="8.6" fill="#d8222c" opacity="0.92"/><circle cx="671.2" cy="225.8" r="8.9" fill="#d8222c" opacity="0.92"/><circle cx="677.6" cy="229.3" r="8.7" fill="#d8222c" opacity="0.92"/><circle cx="676.3" cy="236.5" r="8.6" fill="#d8222c" opacity="0.92"/><circle cx="601.8" cy="201.1" r="5.9" fill="#d8222c" opacity="0.92"/><circle cx="604.3" cy="205.5" r="5.2" fill="#d8222c" opacity="0.92"/><circle cx="600.9" cy="209.2" r="5.6" fill="#d8222c" opacity="0.92"/><circle cx="596.2" cy="207.1" r="5.4" fill="#d8222c" opacity="0.92"/><circle cx="596.8" cy="202.1" r="5.0" fill="#d8222c" opacity="0.92"/><circle cx="594.3" cy="236.8" r="5.3" fill="#d8222c" opacity="0.92"/><circle cx="590.6" cy="240.3" r="5.3" fill="#d8222c" opacity="0.92"/><circle cx="586.1" cy="237.9" r="5.8" fill="#d8222c" opacity="0.92"/><circle cx="587.0" cy="232.9" r="6.2" fill="#d8222c" opacity="0.92"/><circle cx="592.0" cy="232.2" r="5.5" fill="#d8222c" opacity="0.92"/><circle cx="633.5" cy="193.5" r="5.5" fill="#d8222c" opacity="0.92"/><circle cx="632.5" cy="197.9" r="5.5" fill="#d8222c" opacity="0.92"/><circle cx="628.0" cy="198.3" r="4.8" fill="#d8222c" opacity="0.92"/><circle cx="626.3" cy="194.1" r="4.6" fill="#d8222c" opacity="0.92"/><circle cx="629.7" cy="191.2" r="4.7" fill="#d8222c" opacity="0.92"/></g></g>
<g transform="translate(425,320) scale(0.14648)"><polygon points="262,72 276,62 654,62 668,72 848,398 92,398" fill="#c9c9c9" stroke="#626262" stroke-width=".8" stroke-linejoin="round"/><polygon points="318,150 610,150 748,398 180,398" fill="#c8191f"/><polygon points="328,190 590,190 703,398 225,398" fill="#fff"/><polyline points="270,62 318,150" fill="none" stroke="#626262" stroke-width=".8" stroke-linejoin="round"/><polyline points="660,62 612,150" fill="none" stroke="#626262" stroke-width=".8" stroke-linejoin="round"/><polyline points="285,100 640,100" fill="none" stroke="#aaa" stroke-width=".5"/><polyline points="455,62 455,150" fill="none" stroke="#626262" stroke-width=".8" stroke-linejoin="round"/><polyline points="471,62 471,150" fill="none" stroke="#626262" stroke-width=".8" stroke-linejoin="round"/><polyline points="140,398 300,105" fill="none" stroke="#aaa" stroke-width=".5"/><polyline points="800,398 632,105" fill="none" stroke="#aaa" stroke-width=".5"/><rect x="452" y="235" width="22" height="175" fill="#e4e4e4" stroke="#888" stroke-width=".6"/><path d="M410,165 L516,165 L497,232 Q495,244 483,244 L443,244 Q431,244 429,232Z" fill="#f4f4f4" stroke="#999" stroke-width=".6"/><path d="M313.0,290.3 L313.0,293.4 L312.8,297.5 L312.8,302.5 L312.8,308.1 L312.9,314.1 L313.3,320.2 L314.1,326.3 L315.3,331.9 L316.5,336.9 L317.9,342.0 L319.4,347.2 L321.4,352.6 L323.9,358.1 L327.2,363.4 L331.5,368.6 L336.9,373.4 L343.6,377.3 L351.2,380.4 L359.2,383.1 L367.5,385.4 L375.8,387.6 L383.6,389.7 L390.8,391.7 L396.8,393.9 L402.4,396.3 L408.0,399.0 L413.5,401.7 L418.6,404.5 L423.3,407.1 L427.6,409.4 L431.2,411.5 L434.1,413.0 L441.9,399.0 L439.2,397.4 L435.7,395.4 L431.5,392.9 L426.6,390.0 L421.3,387.0 L415.6,384.0 L409.5,381.0 L403.2,378.1 L396.1,375.5 L388.4,373.1 L380.3,370.8 L372.2,368.6 L364.5,366.3 L357.4,363.8 L351.6,361.3 L347.1,358.6 L343.7,356.0 L340.7,353.0 L338.1,349.6 L335.9,345.9 L333.9,341.7 L332.1,337.3 L330.4,332.7 L328.7,328.1 L327.3,323.5 L326.2,318.5 L325.4,313.0 L324.7,307.4 L324.2,302.0 L323.8,297.1 L323.4,292.9 L323.0,289.7Z" fill="#111"/><path d="M347.9,292.8 L351.5,295.5 L356.4,299.0 L362.1,303.1 L368.4,307.7 L374.9,312.6 L381.3,317.7 L387.1,322.8 L392.1,327.7 L396.4,332.8 L400.6,338.3 L404.5,344.1 L408.3,350.1 L411.8,356.0 L415.1,361.8 L418.2,367.3 L421.1,372.3 L423.7,376.9 L426.1,381.4 L428.2,385.7 L430.1,389.8 L431.8,393.6 L433.2,397.0 L434.5,399.9 L435.5,402.2 L444.5,397.8 L443.4,395.7 L442.1,392.9 L440.5,389.6 L438.7,385.8 L436.6,381.6 L434.3,377.1 L431.7,372.5 L428.9,367.7 L425.9,362.8 L422.7,357.4 L419.2,351.6 L415.5,345.6 L411.5,339.5 L407.2,333.5 L402.7,327.7 L397.9,322.3 L392.4,317.0 L386.2,311.7 L379.6,306.6 L372.8,301.7 L366.4,297.1 L360.5,293.1 L355.7,289.7 L352.1,287.2Z" fill="#111"/><path d="M318.3,378.8 L321.5,379.4 L325.7,380.3 L330.8,381.4 L336.3,382.6 L342.1,383.9 L347.9,385.2 L353.4,386.5 L358.3,387.8 L363.1,389.1 L368.1,390.6 L373.2,392.2 L378.2,393.8 L382.8,395.3 L387.0,396.7 L390.6,397.9 L393.3,398.7 L396.7,389.3 L394.1,388.2 L390.6,386.9 L386.5,385.2 L381.8,383.4 L376.9,381.6 L371.7,379.7 L366.6,377.9 L361.7,376.2 L356.6,374.7 L351.0,373.1 L345.1,371.5 L339.3,369.9 L333.8,368.5 L328.9,367.2 L324.7,366.1 L321.7,365.2Z" fill="#111"/><circle cx="352" cy="290" r="9" fill="#d02030" opacity=".9"/><circle cx="368" cy="312" r="10" fill="#d02030" opacity=".9"/><circle cx="350" cy="335" r="10" fill="#d02030" opacity=".9"/><circle cx="372" cy="348" r="11" fill="#d02030" opacity=".9"/><circle cx="395" cy="352" r="9" fill="#d02030" opacity=".9"/><circle cx="360" cy="372" r="10" fill="#d02030" opacity=".9"/><circle cx="385" cy="378" r="9" fill="#d02030" opacity=".9"/><circle cx="338" cy="355" r="7" fill="#d02030" opacity=".9"/><circle cx="405" cy="372" r="7" fill="#d02030" opacity=".9"/><circle cx="420" cy="392" r="7" fill="#d02030" opacity=".9"/><circle cx="350" cy="400" r="9" fill="#d02030" opacity=".9"/><g transform="translate(926,0) scale(-1,1)"><path d="M313.0,290.3 L313.0,293.4 L312.8,297.5 L312.8,302.5 L312.8,308.1 L312.9,314.1 L313.3,320.2 L314.1,326.3 L315.3,331.9 L316.5,336.9 L317.9,342.0 L319.4,347.2 L321.4,352.6 L323.9,358.1 L327.2,363.4 L331.5,368.6 L336.9,373.4 L343.6,377.3 L351.2,380.4 L359.2,383.1 L367.5,385.4 L375.8,387.6 L383.6,389.7 L390.8,391.7 L396.8,393.9 L402.4,396.3 L408.0,399.0 L413.5,401.7 L418.6,404.5 L423.3,407.1 L427.6,409.4 L431.2,411.5 L434.1,413.0 L441.9,399.0 L439.2,397.4 L435.7,395.4 L431.5,392.9 L426.6,390.0 L421.3,387.0 L415.6,384.0 L409.5,381.0 L403.2,378.1 L396.1,375.5 L388.4,373.1 L380.3,370.8 L372.2,368.6 L364.5,366.3 L357.4,363.8 L351.6,361.3 L347.1,358.6 L343.7,356.0 L340.7,353.0 L338.1,349.6 L335.9,345.9 L333.9,341.7 L332.1,337.3 L330.4,332.7 L328.7,328.1 L327.3,323.5 L326.2,318.5 L325.4,313.0 L324.7,307.4 L324.2,302.0 L323.8,297.1 L323.4,292.9 L323.0,289.7Z" fill="#111"/><path d="M347.9,292.8 L351.5,295.5 L356.4,299.0 L362.1,303.1 L368.4,307.7 L374.9,312.6 L381.3,317.7 L387.1,322.8 L392.1,327.7 L396.4,332.8 L400.6,338.3 L404.5,344.1 L408.3,350.1 L411.8,356.0 L415.1,361.8 L418.2,367.3 L421.1,372.3 L423.7,376.9 L426.1,381.4 L428.2,385.7 L430.1,389.8 L431.8,393.6 L433.2,397.0 L434.5,399.9 L435.5,402.2 L444.5,397.8 L443.4,395.7 L442.1,392.9 L440.5,389.6 L438.7,385.8 L436.6,381.6 L434.3,377.1 L431.7,372.5 L428.9,367.7 L425.9,362.8 L422.7,357.4 L419.2,351.6 L415.5,345.6 L411.5,339.5 L407.2,333.5 L402.7,327.7 L397.9,322.3 L392.4,317.0 L386.2,311.7 L379.6,306.6 L372.8,301.7 L366.4,297.1 L360.5,293.1 L355.7,289.7 L352.1,287.2Z" fill="#111"/><path d="M318.3,378.8 L321.5,379.4 L325.7,380.3 L330.8,381.4 L336.3,382.6 L342.1,383.9 L347.9,385.2 L353.4,386.5 L358.3,387.8 L363.1,389.1 L368.1,390.6 L373.2,392.2 L378.2,393.8 L382.8,395.3 L387.0,396.7 L390.6,397.9 L393.3,398.7 L396.7,389.3 L394.1,388.2 L390.6,386.9 L386.5,385.2 L381.8,383.4 L376.9,381.6 L371.7,379.7 L366.6,377.9 L361.7,376.2 L356.6,374.7 L351.0,373.1 L345.1,371.5 L339.3,369.9 L333.8,368.5 L328.9,367.2 L324.7,366.1 L321.7,365.2Z" fill="#111"/><circle cx="352" cy="290" r="9" fill="#d02030" opacity=".9"/><circle cx="368" cy="312" r="10" fill="#d02030" opacity=".9"/><circle cx="350" cy="335" r="10" fill="#d02030" opacity=".9"/><circle cx="372" cy="348" r="11" fill="#d02030" opacity=".9"/><circle cx="395" cy="352" r="9" fill="#d02030" opacity=".9"/><circle cx="360" cy="372" r="10" fill="#d02030" opacity=".9"/><circle cx="385" cy="378" r="9" fill="#d02030" opacity=".9"/><circle cx="338" cy="355" r="7" fill="#d02030" opacity=".9"/><circle cx="405" cy="372" r="7" fill="#d02030" opacity=".9"/><circle cx="420" cy="392" r="7" fill="#d02030" opacity=".9"/><circle cx="350" cy="400" r="9" fill="#d02030" opacity=".9"/></g><polygon points="65,418 185,385 216,405 220,525 185,546 65,490" fill="#c9c9c9" stroke="#626262" stroke-width=".8" stroke-linejoin="round"/><polygon points="710,405 745,385 886,420 880,482 780,546 715,522" fill="#c9c9c9" stroke="#626262" stroke-width=".8" stroke-linejoin="round"/><path d="M215,408 Q460,398 712,408 L716,520 Q460,530 220,524Z" fill="#c9c9c9" stroke="#626262" stroke-width=".8" stroke-linejoin="round"/><path d="M185,432 A32,34 0 0 0 185,500Z" fill="#d6d6d6" stroke="#626262" stroke-width=".8" stroke-linejoin="round"/><rect x="170" y="458" width="40" height="12" fill="#c0c0c0" stroke="#888" stroke-width=".5"/><path d="M745,432 A32,34 0 0 1 745,500Z" fill="#d6d6d6" stroke="#626262" stroke-width=".8" stroke-linejoin="round"/><rect x="722" y="458" width="40" height="12" fill="#c0c0c0" stroke="#888" stroke-width=".5"/></g>
<g transform="translate(425,320) scale(0.14648)"><g transform="translate(2079.5,0) scale(-1,1)"><polygon points="262,72 276,62 654,62 668,72 848,398 92,398" fill="#c9c9c9" stroke="#626262" stroke-width=".8" stroke-linejoin="round"/><polygon points="318,150 610,150 748,398 180,398" fill="#c8191f"/><polygon points="328,190 590,190 703,398 225,398" fill="#fff"/><polyline points="270,62 318,150" fill="none" stroke="#626262" stroke-width=".8" stroke-linejoin="round"/><polyline points="660,62 612,150" fill="none" stroke="#626262" stroke-width=".8" stroke-linejoin="round"/><polyline points="285,100 640,100" fill="none" stroke="#aaa" stroke-width=".5"/><polyline points="455,62 455,150" fill="none" stroke="#626262" stroke-width=".8" stroke-linejoin="round"/><polyline points="471,62 471,150" fill="none" stroke="#626262" stroke-width=".8" stroke-linejoin="round"/><polyline points="140,398 300,105" fill="none" stroke="#aaa" stroke-width=".5"/><polyline points="800,398 632,105" fill="none" stroke="#aaa" stroke-width=".5"/><rect x="452" y="235" width="22" height="175" fill="#e4e4e4" stroke="#888" stroke-width=".6"/><path d="M410,165 L516,165 L497,232 Q495,244 483,244 L443,244 Q431,244 429,232Z" fill="#f4f4f4" stroke="#999" stroke-width=".6"/><path d="M313.0,290.3 L313.0,293.4 L312.8,297.5 L312.8,302.5 L312.8,308.1 L312.9,314.1 L313.3,320.2 L314.1,326.3 L315.3,331.9 L316.5,336.9 L317.9,342.0 L319.4,347.2 L321.4,352.6 L323.9,358.1 L327.2,363.4 L331.5,368.6 L336.9,373.4 L343.6,377.3 L351.2,380.4 L359.2,383.1 L367.5,385.4 L375.8,387.6 L383.6,389.7 L390.8,391.7 L396.8,393.9 L402.4,396.3 L408.0,399.0 L413.5,401.7 L418.6,404.5 L423.3,407.1 L427.6,409.4 L431.2,411.5 L434.1,413.0 L441.9,399.0 L439.2,397.4 L435.7,395.4 L431.5,392.9 L426.6,390.0 L421.3,387.0 L415.6,384.0 L409.5,381.0 L403.2,378.1 L396.1,375.5 L388.4,373.1 L380.3,370.8 L372.2,368.6 L364.5,366.3 L357.4,363.8 L351.6,361.3 L347.1,358.6 L343.7,356.0 L340.7,353.0 L338.1,349.6 L335.9,345.9 L333.9,341.7 L332.1,337.3 L330.4,332.7 L328.7,328.1 L327.3,323.5 L326.2,318.5 L325.4,313.0 L324.7,307.4 L324.2,302.0 L323.8,297.1 L323.4,292.9 L323.0,289.7Z" fill="#111"/><path d="M347.9,292.8 L351.5,295.5 L356.4,299.0 L362.1,303.1 L368.4,307.7 L374.9,312.6 L381.3,317.7 L387.1,322.8 L392.1,327.7 L396.4,332.8 L400.6,338.3 L404.5,344.1 L408.3,350.1 L411.8,356.0 L415.1,361.8 L418.2,367.3 L421.1,372.3 L423.7,376.9 L426.1,381.4 L428.2,385.7 L430.1,389.8 L431.8,393.6 L433.2,397.0 L434.5,399.9 L435.5,402.2 L444.5,397.8 L443.4,395.7 L442.1,392.9 L440.5,389.6 L438.7,385.8 L436.6,381.6 L434.3,377.1 L431.7,372.5 L428.9,367.7 L425.9,362.8 L422.7,357.4 L419.2,351.6 L415.5,345.6 L411.5,339.5 L407.2,333.5 L402.7,327.7 L397.9,322.3 L392.4,317.0 L386.2,311.7 L379.6,306.6 L372.8,301.7 L366.4,297.1 L360.5,293.1 L355.7,289.7 L352.1,287.2Z" fill="#111"/><path d="M318.3,378.8 L321.5,379.4 L325.7,380.3 L330.8,381.4 L336.3,382.6 L342.1,383.9 L347.9,385.2 L353.4,386.5 L358.3,387.8 L363.1,389.1 L368.1,390.6 L373.2,392.2 L378.2,393.8 L382.8,395.3 L387.0,396.7 L390.6,397.9 L393.3,398.7 L396.7,389.3 L394.1,388.2 L390.6,386.9 L386.5,385.2 L381.8,383.4 L376.9,381.6 L371.7,379.7 L366.6,377.9 L361.7,376.2 L356.6,374.7 L351.0,373.1 L345.1,371.5 L339.3,369.9 L333.8,368.5 L328.9,367.2 L324.7,366.1 L321.7,365.2Z" fill="#111"/><circle cx="352" cy="290" r="9" fill="#d02030" opacity=".9"/><circle cx="368" cy="312" r="10" fill="#d02030" opacity=".9"/><circle cx="350" cy="335" r="10" fill="#d02030" opacity=".9"/><circle cx="372" cy="348" r="11" fill="#d02030" opacity=".9"/><circle cx="395" cy="352" r="9" fill="#d02030" opacity=".9"/><circle cx="360" cy="372" r="10" fill="#d02030" opacity=".9"/><circle cx="385" cy="378" r="9" fill="#d02030" opacity=".9"/><circle cx="338" cy="355" r="7" fill="#d02030" opacity=".9"/><circle cx="405" cy="372" r="7" fill="#d02030" opacity=".9"/><circle cx="420" cy="392" r="7" fill="#d02030" opacity=".9"/><circle cx="350" cy="400" r="9" fill="#d02030" opacity=".9"/><g transform="translate(926,0) scale(-1,1)"><path d="M313.0,290.3 L313.0,293.4 L312.8,297.5 L312.8,302.5 L312.8,308.1 L312.9,314.1 L313.3,320.2 L314.1,326.3 L315.3,331.9 L316.5,336.9 L317.9,342.0 L319.4,347.2 L321.4,352.6 L323.9,358.1 L327.2,363.4 L331.5,368.6 L336.9,373.4 L343.6,377.3 L351.2,380.4 L359.2,383.1 L367.5,385.4 L375.8,387.6 L383.6,389.7 L390.8,391.7 L396.8,393.9 L402.4,396.3 L408.0,399.0 L413.5,401.7 L418.6,404.5 L423.3,407.1 L427.6,409.4 L431.2,411.5 L434.1,413.0 L441.9,399.0 L439.2,397.4 L435.7,395.4 L431.5,392.9 L426.6,390.0 L421.3,387.0 L415.6,384.0 L409.5,381.0 L403.2,378.1 L396.1,375.5 L388.4,373.1 L380.3,370.8 L372.2,368.6 L364.5,366.3 L357.4,363.8 L351.6,361.3 L347.1,358.6 L343.7,356.0 L340.7,353.0 L338.1,349.6 L335.9,345.9 L333.9,341.7 L332.1,337.3 L330.4,332.7 L328.7,328.1 L327.3,323.5 L326.2,318.5 L325.4,313.0 L324.7,307.4 L324.2,302.0 L323.8,297.1 L323.4,292.9 L323.0,289.7Z" fill="#111"/><path d="M347.9,292.8 L351.5,295.5 L356.4,299.0 L362.1,303.1 L368.4,307.7 L374.9,312.6 L381.3,317.7 L387.1,322.8 L392.1,327.7 L396.4,332.8 L400.6,338.3 L404.5,344.1 L408.3,350.1 L411.8,356.0 L415.1,361.8 L418.2,367.3 L421.1,372.3 L423.7,376.9 L426.1,381.4 L428.2,385.7 L430.1,389.8 L431.8,393.6 L433.2,397.0 L434.5,399.9 L435.5,402.2 L444.5,397.8 L443.4,395.7 L442.1,392.9 L440.5,389.6 L438.7,385.8 L436.6,381.6 L434.3,377.1 L431.7,372.5 L428.9,367.7 L425.9,362.8 L422.7,357.4 L419.2,351.6 L415.5,345.6 L411.5,339.5 L407.2,333.5 L402.7,327.7 L397.9,322.3 L392.4,317.0 L386.2,311.7 L379.6,306.6 L372.8,301.7 L366.4,297.1 L360.5,293.1 L355.7,289.7 L352.1,287.2Z" fill="#111"/><path d="M318.3,378.8 L321.5,379.4 L325.7,380.3 L330.8,381.4 L336.3,382.6 L342.1,383.9 L347.9,385.2 L353.4,386.5 L358.3,387.8 L363.1,389.1 L368.1,390.6 L373.2,392.2 L378.2,393.8 L382.8,395.3 L387.0,396.7 L390.6,397.9 L393.3,398.7 L396.7,389.3 L394.1,388.2 L390.6,386.9 L386.5,385.2 L381.8,383.4 L376.9,381.6 L371.7,379.7 L366.6,377.9 L361.7,376.2 L356.6,374.7 L351.0,373.1 L345.1,371.5 L339.3,369.9 L333.8,368.5 L328.9,367.2 L324.7,366.1 L321.7,365.2Z" fill="#111"/><circle cx="352" cy="290" r="9" fill="#d02030" opacity=".9"/><circle cx="368" cy="312" r="10" fill="#d02030" opacity=".9"/><circle cx="350" cy="335" r="10" fill="#d02030" opacity=".9"/><circle cx="372" cy="348" r="11" fill="#d02030" opacity=".9"/><circle cx="395" cy="352" r="9" fill="#d02030" opacity=".9"/><circle cx="360" cy="372" r="10" fill="#d02030" opacity=".9"/><circle cx="385" cy="378" r="9" fill="#d02030" opacity=".9"/><circle cx="338" cy="355" r="7" fill="#d02030" opacity=".9"/><circle cx="405" cy="372" r="7" fill="#d02030" opacity=".9"/><circle cx="420" cy="392" r="7" fill="#d02030" opacity=".9"/><circle cx="350" cy="400" r="9" fill="#d02030" opacity=".9"/></g><polygon points="65,418 185,385 216,405 220,525 185,546 65,490" fill="#c9c9c9" stroke="#626262" stroke-width=".8" stroke-linejoin="round"/><polygon points="710,405 745,385 886,420 880,482 780,546 715,522" fill="#c9c9c9" stroke="#626262" stroke-width=".8" stroke-linejoin="round"/><path d="M215,408 Q460,398 712,408 L716,520 Q460,530 220,524Z" fill="#c9c9c9" stroke="#626262" stroke-width=".8" stroke-linejoin="round"/><path d="M185,432 A32,34 0 0 0 185,500Z" fill="#d6d6d6" stroke="#626262" stroke-width=".8" stroke-linejoin="round"/><rect x="170" y="458" width="40" height="12" fill="#c0c0c0" stroke="#888" stroke-width=".5"/><path d="M745,432 A32,34 0 0 1 745,500Z" fill="#d6d6d6" stroke="#626262" stroke-width=".8" stroke-linejoin="round"/><rect x="722" y="458" width="40" height="12" fill="#c0c0c0" stroke="#888" stroke-width=".5"/></g></g>
<g transform="translate(765,235) scale(0.10254)"><polygon points="262,90 700,68 820,195 740,835 580,962 62,510" fill="#fff" stroke="#555" stroke-width=".8" stroke-linejoin="round"/><polygon points="295,180 672,148 758,232 672,795 570,880 165,520" fill="#fff" stroke="#555" stroke-width=".8" stroke-linejoin="round"/><line x1="262" y1="90" x2="295" y2="180" stroke="#555" stroke-width=".8" stroke-linejoin="round"/><line x1="700" y1="68" x2="672" y2="148" stroke="#555" stroke-width=".8" stroke-linejoin="round"/><line x1="820" y1="195" x2="758" y2="232" stroke="#555" stroke-width=".8" stroke-linejoin="round"/><line x1="740" y1="835" x2="672" y2="795" stroke="#555" stroke-width=".8" stroke-linejoin="round"/><line x1="580" y1="962" x2="570" y2="880" stroke="#555" stroke-width=".8" stroke-linejoin="round"/><line x1="62" y1="510" x2="165" y2="520" stroke="#555" stroke-width=".8" stroke-linejoin="round"/><path d="M430.4,287.7 A198,198 0 0 0 380.1,645.9" fill="none" stroke="#d8261f" stroke-width="2.87" stroke-linecap="round"/><path d="M568.7,298.6 A198,198 0 0 1 467.7,675.2" fill="none" stroke="#d8261f" stroke-width="2.87" stroke-linecap="round"/><rect x="520" y="462" width="135" height="10" fill="#e2452c"/><rect x="540" y="503" width="125" height="9" fill="#d8261f"/><rect x="455" y="215" width="90" height="155" rx="12" fill="#fff" stroke="#888" stroke-width="1.2"/><rect x="370" y="634" width="72" height="22" rx="6" fill="#ddd" stroke="#777" stroke-width=".8" transform="rotate(-55 406 645)"/><path d="M297.1,282.9 L301.3,284.4 L306.9,285.9 L313.6,287.7 L320.7,289.9 L328.1,292.4 L335.2,295.5 L341.6,299.1 L347.0,303.4 L351.7,308.6 L356.4,314.8 L360.8,321.8 L365.0,329.3 L369.0,337.3 L372.7,345.6 L376.2,354.0 L379.3,362.1 L381.8,370.2 L383.7,378.6 L385.2,387.5 L386.5,396.6 L387.9,406.0 L389.6,415.6 L391.8,425.2 L394.8,434.7 L398.3,443.9 L402.2,453.2 L406.3,462.6 L410.9,472.0 L415.8,481.1 L421.1,490.0 L426.9,498.4 L433.2,506.2 L440.1,513.4 L447.6,519.9 L455.4,525.7 L463.4,531.0 L471.6,535.9 L479.6,540.4 L487.4,544.8 L495.0,549.0 L502.5,553.3 L510.2,557.4 L517.9,561.4 L525.5,565.1 L533.2,568.7 L540.8,572.0 L548.5,575.3 L556.3,578.3 L564.4,581.2 L572.7,583.5 L580.8,585.6 L588.7,587.4 L596.2,589.2 L603.2,591.1 L609.5,593.2 L615.3,595.7 L620.8,598.4 L626.1,601.3 L631.0,604.2 L635.4,607.3 L639.5,610.5 L643.2,614.0 L646.7,617.8 L649.8,622.0 L652.8,627.1 L655.8,633.6 L658.7,641.3 L661.5,649.4 L664.0,657.4 L666.2,664.9 L668.1,671.4 L669.7,676.2 L694.3,667.8 L692.7,663.4 L690.7,657.3 L688.3,649.8 L685.5,641.3 L682.3,632.5 L678.8,623.7 L674.7,615.4 L670.2,608.0 L665.3,601.9 L660.3,596.6 L654.9,591.9 L649.3,587.7 L643.5,584.0 L637.5,580.6 L631.4,577.4 L624.7,574.3 L617.4,571.4 L609.6,569.0 L601.7,567.1 L593.8,565.3 L585.9,563.6 L578.2,561.9 L570.9,560.0 L563.7,557.7 L556.5,555.0 L549.2,552.1 L541.8,549.0 L534.5,545.8 L527.1,542.4 L519.8,538.8 L512.5,535.0 L505.0,531.0 L497.3,526.8 L489.4,522.6 L481.5,518.3 L473.8,514.0 L466.4,509.5 L459.3,504.6 L452.8,499.5 L446.8,493.8 L441.2,487.3 L435.8,480.1 L430.6,472.3 L425.8,464.0 L421.2,455.4 L416.9,446.6 L412.8,437.8 L409.2,429.3 L406.2,421.0 L403.8,412.4 L401.8,403.5 L400.1,394.4 L398.4,385.1 L396.4,375.9 L393.9,366.7 L390.7,357.9 L387.1,349.4 L383.1,340.8 L378.9,332.4 L374.4,324.2 L369.5,316.3 L364.4,309.0 L358.9,302.4 L353.0,296.6 L346.3,291.8 L338.7,287.9 L330.8,285.0 L322.9,282.6 L315.3,280.8 L308.5,279.4 L303.0,278.2 L298.9,277.1Z" fill="#111"/><path d="M684.7,662.4 L679.3,661.5 L673.9,660.6 L668.5,659.7 L663.1,658.8 L657.6,657.9 L652.2,657.0 L646.8,656.1 L641.4,655.2 L638.6,664.8 L643.7,666.9 L648.8,669.0 L653.9,671.1 L658.9,673.2 L664.0,675.3 L669.1,677.4 L674.2,679.5 L679.3,681.6Z" fill="#111"/><circle cx="360" cy="300" r="16" fill="#c8202c" opacity=".92"/><circle cx="450" cy="482" r="14" fill="#c8202c" opacity=".92"/><circle cx="505" cy="512" r="17" fill="#c8202c" opacity=".92"/><circle cx="430" cy="568" r="14" fill="#c8202c" opacity=".92"/><circle cx="668" cy="600" r="16" fill="#c8202c" opacity=".92"/><circle cx="618" cy="680" r="27" fill="#c8202c" opacity=".92"/><circle cx="652" cy="690" r="15" fill="#c8202c" opacity=".92"/><circle cx="385" cy="330" r="10" fill="#c8202c" opacity=".92"/></g>
<g transform="translate(765,235) scale(0.10254)"><g transform="translate(0,1320)"><g transform="translate(911.8,0) scale(-1,1)"><polygon points="262,90 700,68 820,195 740,835 580,962 62,510" fill="#fff" stroke="#555" stroke-width=".8" stroke-linejoin="round"/><polygon points="295,180 672,148 758,232 672,795 570,880 165,520" fill="#fff" stroke="#555" stroke-width=".8" stroke-linejoin="round"/><line x1="262" y1="90" x2="295" y2="180" stroke="#555" stroke-width=".8" stroke-linejoin="round"/><line x1="700" y1="68" x2="672" y2="148" stroke="#555" stroke-width=".8" stroke-linejoin="round"/><line x1="820" y1="195" x2="758" y2="232" stroke="#555" stroke-width=".8" stroke-linejoin="round"/><line x1="740" y1="835" x2="672" y2="795" stroke="#555" stroke-width=".8" stroke-linejoin="round"/><line x1="580" y1="962" x2="570" y2="880" stroke="#555" stroke-width=".8" stroke-linejoin="round"/><line x1="62" y1="510" x2="165" y2="520" stroke="#555" stroke-width=".8" stroke-linejoin="round"/><path d="M430.4,287.7 A198,198 0 0 0 380.1,645.9" fill="none" stroke="#d8261f" stroke-width="2.87" stroke-linecap="round"/><path d="M568.7,298.6 A198,198 0 0 1 467.7,675.2" fill="none" stroke="#d8261f" stroke-width="2.87" stroke-linecap="round"/><rect x="520" y="462" width="135" height="10" fill="#e2452c"/><rect x="540" y="503" width="125" height="9" fill="#d8261f"/><rect x="455" y="215" width="90" height="155" rx="12" fill="#fff" stroke="#888" stroke-width="1.2"/><rect x="370" y="634" width="72" height="22" rx="6" fill="#ddd" stroke="#777" stroke-width=".8" transform="rotate(-55 406 645)"/><path d="M297.1,282.9 L301.3,284.4 L306.9,285.9 L313.6,287.7 L320.7,289.9 L328.1,292.4 L335.2,295.5 L341.6,299.1 L347.0,303.4 L351.7,308.6 L356.4,314.8 L360.8,321.8 L365.0,329.3 L369.0,337.3 L372.7,345.6 L376.2,354.0 L379.3,362.1 L381.8,370.2 L383.7,378.6 L385.2,387.5 L386.5,396.6 L387.9,406.0 L389.6,415.6 L391.8,425.2 L394.8,434.7 L398.3,443.9 L402.2,453.2 L406.3,462.6 L410.9,472.0 L415.8,481.1 L421.1,490.0 L426.9,498.4 L433.2,506.2 L440.1,513.4 L447.6,519.9 L455.4,525.7 L463.4,531.0 L471.6,535.9 L479.6,540.4 L487.4,544.8 L495.0,549.0 L502.5,553.3 L510.2,557.4 L517.9,561.4 L525.5,565.1 L533.2,568.7 L540.8,572.0 L548.5,575.3 L556.3,578.3 L564.4,581.2 L572.7,583.5 L580.8,585.6 L588.7,587.4 L596.2,589.2 L603.2,591.1 L609.5,593.2 L615.3,595.7 L620.8,598.4 L626.1,601.3 L631.0,604.2 L635.4,607.3 L639.5,610.5 L643.2,614.0 L646.7,617.8 L649.8,622.0 L652.8,627.1 L655.8,633.6 L658.7,641.3 L661.5,649.4 L664.0,657.4 L666.2,664.9 L668.1,671.4 L669.7,676.2 L694.3,667.8 L692.7,663.4 L690.7,657.3 L688.3,649.8 L685.5,641.3 L682.3,632.5 L678.8,623.7 L674.7,615.4 L670.2,608.0 L665.3,601.9 L660.3,596.6 L654.9,591.9 L649.3,587.7 L643.5,584.0 L637.5,580.6 L631.4,577.4 L624.7,574.3 L617.4,571.4 L609.6,569.0 L601.7,567.1 L593.8,565.3 L585.9,563.6 L578.2,561.9 L570.9,560.0 L563.7,557.7 L556.5,555.0 L549.2,552.1 L541.8,549.0 L534.5,545.8 L527.1,542.4 L519.8,538.8 L512.5,535.0 L505.0,531.0 L497.3,526.8 L489.4,522.6 L481.5,518.3 L473.8,514.0 L466.4,509.5 L459.3,504.6 L452.8,499.5 L446.8,493.8 L441.2,487.3 L435.8,480.1 L430.6,472.3 L425.8,464.0 L421.2,455.4 L416.9,446.6 L412.8,437.8 L409.2,429.3 L406.2,421.0 L403.8,412.4 L401.8,403.5 L400.1,394.4 L398.4,385.1 L396.4,375.9 L393.9,366.7 L390.7,357.9 L387.1,349.4 L383.1,340.8 L378.9,332.4 L374.4,324.2 L369.5,316.3 L364.4,309.0 L358.9,302.4 L353.0,296.6 L346.3,291.8 L338.7,287.9 L330.8,285.0 L322.9,282.6 L315.3,280.8 L308.5,279.4 L303.0,278.2 L298.9,277.1Z" fill="#111"/><path d="M684.7,662.4 L679.3,661.5 L673.9,660.6 L668.5,659.7 L663.1,658.8 L657.6,657.9 L652.2,657.0 L646.8,656.1 L641.4,655.2 L638.6,664.8 L643.7,666.9 L648.8,669.0 L653.9,671.1 L658.9,673.2 L664.0,675.3 L669.1,677.4 L674.2,679.5 L679.3,681.6Z" fill="#111"/><circle cx="360" cy="300" r="16" fill="#c8202c" opacity=".92"/><circle cx="450" cy="482" r="14" fill="#c8202c" opacity=".92"/><circle cx="505" cy="512" r="17" fill="#c8202c" opacity=".92"/><circle cx="430" cy="568" r="14" fill="#c8202c" opacity=".92"/><circle cx="668" cy="600" r="16" fill="#c8202c" opacity=".92"/><circle cx="618" cy="680" r="27" fill="#c8202c" opacity=".92"/><circle cx="652" cy="690" r="15" fill="#c8202c" opacity=".92"/><circle cx="385" cy="330" r="10" fill="#c8202c" opacity=".92"/></g></g></g>
<g transform="translate(150,445) scale(0.12695)"><polygon class="w" points="330,95 745,170 790,240 870,680 855,880 800,1120 830,1036 890,1036 920,1071 850,1526 880,1516 915,1556 905,1786 860,1851 820,1856 805,1776 815,1666 755,1441 710,1431 700,1406 690,1366 640,1396 585,1446 405,1446 345,1386 305,1366 285,1406 280,1426 232,1436 170,1696 175,1786 155,1841 100,1811 85,1756 60,1531 100,1491 80,1031 115,1016 160,1024 195,1110 165,960 140,680 215,260 245,150" /><polygon class="g2" points="375,1036 630,1036 690,1366 640,1396 585,1446 405,1446 345,1386 305,1366" /><polyline class="l" points="345,1386 405,1446" /><polyline class="l" points="640,1396 585,1446" /><polyline class="l" points="415,1446 445,1346 545,1346 580,1446" /><polyline class="l" points="497,1040 497,1120 503,1130 503,1340" /><polyline class="l" points="520,1040 520,1120 514,1130 514,1340" /><polyline class="ll" points="380,1050 340,1250 320,1360" /><polyline class="ll" points="625,1050 660,1250 680,1360" /><polyline class="l" points="165,1656 310,986 335,966 690,971 715,1016 830,1656" /><polyline class="l" points="170,1696 232,1436 280,1426 285,1406 365,1021 640,1021 700,1406 710,1431 755,1441 815,1666" /><polyline class="l" points="115,1016 225,1181 228,1196 175,1198 165,1520" /><polyline class="ll" points="100,1040 150,1200 140,1500" /><polyline class="l" points="830,1036 775,1176 785,1211 830,1206 850,1526" /><polyline class="ll" points="890,1050 840,1200 845,1500" /><polyline class="l" points="100,1491 130,1511 165,1651" /><polyline class="l" points="85,1756 140,1766 175,1786" /><polyline class="l" points="845,1526 880,1516" /><polyline class="l" points="805,1776 850,1770 905,1786" /><polygon class="w" points="330,95 745,170 740,212 320,135" style="fill:#e2e2e2"/><polyline class="l" points="245,150 320,135" /><polyline class="l" points="740,212 790,240" /><polyline class="l" points="320,135 265,232 770,292 740,212" /><polyline class="l" points="265,232 190,640 225,990" /><polyline class="l" points="770,292 835,660 790,1010" /><rect x="392" y="150" width="16" height="26" fill="#fff" stroke="#888" stroke-width=".5"/><rect x="648" y="200" width="16" height="26" fill="#fff" stroke="#888" stroke-width=".5"/><polygon class="g2" points="300,245 520,280 500,350 275,315" /><polyline class="l" points="292,268 514,302" /><polyline class="l" points="284,292 507,326" /><polygon class="g2" points="565,285 760,330 760,400 560,355" /><polyline class="l" points="563,308 760,353" /><polyline class="l" points="561,332 760,377" /><polygon class="w" points="515,300 545,295 568,372 498,372" /><polygon class="g2" points="205,470 265,410 320,440 325,540 265,590 215,540" /><polyline class="l" points="205,492 245,492 245,505 205,505" /><polyline class="l" points="245,330 215,380 265,410" /><polyline class="l" points="265,590 175,630" /><polyline class="l" points="350,420 330,560 255,1010" /><polyline class="l" points="350,420 415,490 345,960" /><polyline class="l" points="415,490 640,500 700,960 345,960" /><polyline class="l" points="640,500 800,420" /><polyline class="l" points="700,960 745,1010" /><polyline class="l" points="680,590 760,1000" /><polyline class="l" points="800,420 815,600 780,1000" /><path d="M272.8,363.4 L277.3,366.4 L283.4,370.2 L290.7,374.5 L298.5,379.5 L306.5,384.9 L314.0,390.7 L320.7,396.8 L325.9,403.0 L330.0,409.9 L333.6,417.5 L336.7,425.9 L339.5,434.8 L342.0,444.0 L344.3,453.3 L346.6,462.6 L349.0,471.6 L351.1,480.1 L352.7,488.5 L354.1,496.9 L355.4,505.6 L357.0,514.4 L359.0,523.6 L361.7,533.1 L365.3,542.8 L369.7,552.9 L374.8,563.5 L380.5,574.3 L386.6,585.2 L393.0,596.0 L399.8,606.5 L406.6,616.3 L413.5,625.3 L420.5,633.5 L427.6,641.2 L434.8,648.3 L442.3,655.0 L450.1,661.3 L458.1,667.2 L466.5,672.8 L475.5,678.3 L485.6,683.3 L496.5,687.4 L507.6,690.9 L518.6,694.0 L529.1,697.0 L538.7,700.3 L547.1,704.0 L554.1,708.3 L560.1,713.4 L565.5,719.2 L570.5,725.5 L574.9,732.3 L579.1,739.6 L582.9,747.4 L586.6,755.6 L590.3,764.0 L593.7,772.9 L596.9,782.6 L599.9,792.9 L602.6,803.5 L604.9,813.9 L606.8,823.9 L608.2,833.1 L609.1,840.8 L609.2,846.4 L608.4,850.8 L607.1,854.9 L605.2,859.3 L603.1,864.5 L601.2,870.9 L600.2,878.5 L600.9,887.0 L603.1,895.7 L606.2,904.4 L610.1,913.3 L614.3,922.2 L618.6,931.0 L622.7,939.3 L626.3,947.1 L629.1,954.2 L631.5,961.1 L633.8,968.2 L635.9,975.4 L637.9,982.3 L639.6,988.7 L641.1,994.5 L642.4,999.4 L643.5,1003.3 L666.5,996.7 L665.5,993.1 L664.1,988.3 L662.5,982.4 L660.6,975.9 L658.5,968.7 L656.2,961.2 L653.7,953.5 L650.9,945.8 L647.5,937.8 L643.5,929.3 L639.2,920.7 L634.9,912.2 L630.8,903.8 L627.3,895.9 L624.7,888.9 L623.1,883.0 L622.7,878.8 L623.1,875.4 L624.1,871.8 L625.8,867.6 L627.9,862.3 L629.8,855.7 L631.0,847.9 L630.9,839.2 L629.7,830.0 L628.1,820.1 L626.0,809.5 L623.4,798.4 L620.5,787.2 L617.2,776.2 L613.6,765.7 L609.7,756.0 L605.8,747.0 L601.8,738.4 L597.4,729.8 L592.6,721.4 L587.2,713.4 L581.0,705.7 L574.0,698.5 L565.9,691.7 L556.4,685.9 L545.9,681.4 L535.0,677.8 L523.9,674.7 L513.0,671.9 L502.6,669.0 L493.0,665.7 L484.5,661.7 L476.4,657.0 L468.5,652.0 L460.9,646.8 L453.7,641.3 L446.7,635.3 L439.8,629.0 L433.1,622.1 L426.5,614.7 L419.8,606.4 L413.1,597.3 L406.5,587.5 L400.0,577.3 L393.9,566.9 L388.2,556.5 L383.1,546.5 L378.7,537.2 L375.2,528.5 L372.5,520.0 L370.4,511.6 L368.7,503.2 L367.1,494.7 L365.4,486.0 L363.4,477.2 L361.0,468.4 L358.3,459.4 L355.7,450.3 L353.1,440.9 L350.3,431.5 L347.1,422.2 L343.5,413.2 L339.2,404.8 L334.1,397.0 L327.7,389.8 L320.1,383.2 L311.8,377.2 L303.4,371.8 L295.2,367.0 L287.7,362.8 L281.6,359.4 L277.2,356.6Z" fill="#151515"/><path d="M455.6,792.6 L460.1,797.0 L465.9,803.0 L473.0,810.2 L481.0,818.1 L489.6,826.2 L498.7,834.0 L508.1,841.1 L517.5,846.9 L527.7,851.6 L538.9,855.5 L550.8,858.8 L562.6,861.6 L573.9,864.0 L584.0,866.0 L592.3,867.8 L598.5,869.3 L601.5,854.7 L595.1,853.6 L586.4,852.3 L576.3,850.7 L565.2,848.9 L553.6,846.6 L542.3,844.0 L531.7,840.8 L522.5,837.1 L513.8,832.3 L504.8,826.1 L495.8,819.0 L487.0,811.4 L478.9,804.0 L471.5,797.2 L465.2,791.5 L460.4,787.4Z" fill="#151515"/><path d="M440.1,704.0 L446.4,704.1 L455.0,703.8 L465.0,703.4 L476.1,703.1 L487.5,703.1 L498.8,703.7 L509.3,705.0 L518.4,707.3 L526.9,710.9 L535.8,715.9 L544.9,722.0 L553.8,728.6 L562.1,735.3 L569.5,741.5 L575.9,746.8 L580.9,750.6 L589.1,739.4 L584.2,736.0 L577.8,731.1 L570.0,725.2 L561.2,718.6 L551.7,712.0 L541.8,705.8 L531.7,700.6 L521.6,696.7 L511.0,694.5 L499.5,693.5 L487.6,693.2 L475.8,693.6 L464.6,694.2 L454.5,695.0 L446.1,695.7 L439.9,696.0Z" fill="#151515"/><path d="M428.5,642.6 L437.1,647.8 L445.8,653.0 L454.4,658.3 L463.0,663.5 L471.6,668.7 L480.3,673.9 L488.9,679.1 L497.5,684.3 L502.5,675.7 L493.6,670.9 L484.7,666.1 L475.9,661.3 L467.0,656.5 L458.1,651.7 L449.2,647.0 L440.4,642.2 L431.5,637.4Z" fill="#151515"/><path d="M638.1,659.5 L636.7,663.9 L634.8,669.6 L632.6,676.5 L630.2,684.3 L627.7,692.7 L625.4,701.5 L623.2,710.5 L621.5,719.5 L620.2,729.2 L619.1,740.2 L618.1,751.8 L617.3,763.5 L616.6,774.8 L616.0,785.0 L615.5,793.5 L615.0,799.7 L625.0,800.3 L625.1,793.9 L625.3,785.3 L625.5,775.2 L625.8,764.0 L626.2,752.3 L626.8,740.8 L627.5,730.0 L628.5,720.5 L629.8,711.8 L631.4,702.9 L633.4,694.1 L635.5,685.7 L637.5,677.9 L639.3,671.0 L640.9,665.1 L641.9,660.5Z" fill="#151515"/><path d="M594.2,899.9 L597.9,900.6 L601.7,901.2 L605.4,901.8 L609.2,902.4 L612.9,903.1 L616.7,903.7 L620.4,904.3 L624.2,904.9 L625.8,895.1 L622.1,894.4 L618.3,893.8 L614.6,893.2 L610.8,892.6 L607.1,891.9 L603.3,891.3 L599.6,890.7 L595.8,890.1Z" fill="#151515"/><circle cx="560.4" cy="629.9" r="38.2" fill="#de3a52" opacity="0.88"/><circle cx="524.8" cy="619.2" r="42.1" fill="#de3a52" opacity="0.88"/><circle cx="524.0" cy="581.9" r="44.6" fill="#de3a52" opacity="0.88"/><circle cx="559.1" cy="569.7" r="44.1" fill="#de3a52" opacity="0.88"/><circle cx="581.7" cy="599.3" r="40.7" fill="#de3a52" opacity="0.88"/><circle cx="550" cy="600" r="27.7" fill="#b8121e" opacity=".55"/><circle cx="550" cy="600" r="13.2" fill="#5a0810" opacity=".8"/><circle cx="575" cy="585" r="26" fill="#e8788a" opacity=".8"/><circle cx="320" cy="375" r="14" fill="#d42838" opacity=".9"/><circle cx="345" cy="405" r="12" fill="#d42838" opacity=".9"/><circle cx="380" cy="475" r="14" fill="#d42838" opacity=".9"/><circle cx="387" cy="515" r="18" fill="#d42838" opacity=".9"/><circle cx="405" cy="575" r="12" fill="#d42838" opacity=".9"/><circle cx="450" cy="602" r="20" fill="#d42838" opacity=".9"/><circle cx="525" cy="525" r="14" fill="#d42838" opacity=".9"/><circle cx="640" cy="660" r="14" fill="#d42838" opacity=".9"/><circle cx="636" cy="730" r="16" fill="#d42838" opacity=".9"/><circle cx="440" cy="685" r="14" fill="#d42838" opacity=".9"/><circle cx="430" cy="715" r="14" fill="#d42838" opacity=".9"/><circle cx="452" cy="750" r="16" fill="#d42838" opacity=".9"/><circle cx="490" cy="700" r="11" fill="#d42838" opacity=".9"/><circle cx="545" cy="715" r="11" fill="#d42838" opacity=".9"/><circle cx="560" cy="775" r="11" fill="#d42838" opacity=".9"/><circle cx="520" cy="745" r="9" fill="#d42838" opacity=".9"/><circle cx="475" cy="650" r="10" fill="#d42838" opacity=".9"/><circle cx="415" cy="690" r="12" fill="#d42838" opacity=".9"/><circle cx="470" cy="730" r="11" fill="#d42838" opacity=".9"/><circle cx="500" cy="760" r="10" fill="#d42838" opacity=".9"/><circle cx="420" cy="745" r="10" fill="#d42838" opacity=".9"/><circle cx="600" cy="700" r="11" fill="#d42838" opacity=".9"/><circle cx="585" cy="660" r="9" fill="#d42838" opacity=".9"/><circle cx="360" cy="440" r="10" fill="#d42838" opacity=".9"/><circle cx="395" cy="545" r="10" fill="#d42838" opacity=".9"/><circle cx="430" cy="610" r="11" fill="#d42838" opacity=".9"/><circle cx="300" cy="385" r="10" fill="#d42838" opacity=".9"/><path d="M457.7,381.0 L461.9,381.6 L467.5,382.1 L474.2,382.6 L481.5,383.4 L489.0,384.3 L496.2,385.7 L502.8,387.4 L508.3,389.6 L513.1,392.4 L517.6,395.7 L521.9,399.4 L526.0,403.5 L529.9,408.0 L533.6,412.7 L537.3,417.7 L540.9,422.8 L544.1,428.1 L546.9,433.7 L549.5,439.9 L552.1,446.3 L554.8,453.0 L557.7,459.8 L561.1,466.6 L564.9,473.2 L569.0,479.5 L573.1,485.9 L577.4,492.3 L582.1,498.8 L587.2,505.1 L592.8,511.3 L599.0,517.2 L605.9,522.7 L613.5,527.8 L621.7,532.7 L630.4,537.4 L639.5,541.8 L649.0,545.7 L658.8,549.3 L668.6,552.3 L678.6,554.6 L689.1,556.1 L699.8,556.5 L710.6,556.2 L721.3,555.5 L731.7,554.7 L741.6,554.1 L750.8,553.9 L759.3,554.5 L767.7,555.5 L776.1,556.8 L784.2,558.3 L791.9,560.1 L799.0,562.1 L805.2,564.3 L810.4,566.8 L814.3,569.3 L816.9,572.0 L819.1,575.6 L821.0,580.3 L822.5,585.5 L823.6,590.9 L824.5,596.2 L825.4,601.0 L826.4,604.8 L845.6,599.2 L844.7,596.5 L843.8,592.3 L842.6,586.8 L841.0,580.5 L838.9,573.7 L835.8,566.9 L831.5,560.3 L825.7,554.7 L819.0,550.7 L811.9,547.5 L804.2,544.9 L796.1,542.8 L787.6,541.1 L778.8,539.7 L769.9,538.5 L760.7,537.5 L751.0,537.1 L740.8,537.5 L730.4,538.3 L720.0,539.3 L709.7,540.1 L699.7,540.6 L690.3,540.4 L681.4,539.4 L672.5,537.4 L663.4,534.9 L654.4,531.8 L645.5,528.2 L636.8,524.3 L628.6,520.1 L621.0,515.8 L614.1,511.3 L607.9,506.7 L602.3,501.7 L597.1,496.4 L592.3,490.7 L587.8,484.9 L583.4,478.8 L579.2,472.7 L575.1,466.8 L571.4,460.9 L568.1,454.8 L565.1,448.5 L562.3,442.0 L559.4,435.6 L556.3,429.1 L552.9,422.9 L549.1,417.2 L545.1,411.9 L541.1,406.8 L536.8,401.9 L532.4,397.2 L527.7,392.9 L522.7,388.9 L517.4,385.4 L511.7,382.4 L505.1,380.0 L497.7,378.3 L490.0,377.2 L482.2,376.4 L474.7,375.9 L468.0,375.6 L462.4,375.3 L458.3,375.0Z" fill="#151515"/><circle cx="510" cy="380" r="12" fill="#d42838" opacity=".9"/><circle cx="535" cy="402" r="10" fill="#d42838" opacity=".9"/><circle cx="620" cy="500" r="12" fill="#d42838" opacity=".9"/><circle cx="665" cy="515" r="20" fill="#d42838" opacity=".9"/><circle cx="630" cy="548" r="10" fill="#d42838" opacity=".9"/><circle cx="805" cy="525" r="12" fill="#d42838" opacity=".9"/><circle cx="790" cy="590" r="27" fill="#d42838" opacity=".9"/></g>
<g transform="translate(150,445) scale(0.12695)"><g transform="translate(2232.3,0) scale(-1,1)"><polygon class="w" points="330,95 745,170 790,240 870,680 855,880 800,1120 830,1036 890,1036 920,1071 850,1526 880,1516 915,1556 905,1786 860,1851 820,1856 805,1776 815,1666 755,1441 710,1431 700,1406 690,1366 640,1396 585,1446 405,1446 345,1386 305,1366 285,1406 280,1426 232,1436 170,1696 175,1786 155,1841 100,1811 85,1756 60,1531 100,1491 80,1031 115,1016 160,1024 195,1110 165,960 140,680 215,260 245,150" /><polygon class="g2" points="375,1036 630,1036 690,1366 640,1396 585,1446 405,1446 345,1386 305,1366" /><polyline class="l" points="345,1386 405,1446" /><polyline class="l" points="640,1396 585,1446" /><polyline class="l" points="415,1446 445,1346 545,1346 580,1446" /><polyline class="l" points="497,1040 497,1120 503,1130 503,1340" /><polyline class="l" points="520,1040 520,1120 514,1130 514,1340" /><polyline class="ll" points="380,1050 340,1250 320,1360" /><polyline class="ll" points="625,1050 660,1250 680,1360" /><polyline class="l" points="165,1656 310,986 335,966 690,971 715,1016 830,1656" /><polyline class="l" points="170,1696 232,1436 280,1426 285,1406 365,1021 640,1021 700,1406 710,1431 755,1441 815,1666" /><polyline class="l" points="115,1016 225,1181 228,1196 175,1198 165,1520" /><polyline class="ll" points="100,1040 150,1200 140,1500" /><polyline class="l" points="830,1036 775,1176 785,1211 830,1206 850,1526" /><polyline class="ll" points="890,1050 840,1200 845,1500" /><polyline class="l" points="100,1491 130,1511 165,1651" /><polyline class="l" points="85,1756 140,1766 175,1786" /><polyline class="l" points="845,1526 880,1516" /><polyline class="l" points="805,1776 850,1770 905,1786" /><polygon class="w" points="330,95 745,170 740,212 320,135" style="fill:#e2e2e2"/><polyline class="l" points="245,150 320,135" /><polyline class="l" points="740,212 790,240" /><polyline class="l" points="320,135 265,232 770,292 740,212" /><polyline class="l" points="265,232 190,640 225,990" /><polyline class="l" points="770,292 835,660 790,1010" /><rect x="392" y="150" width="16" height="26" fill="#fff" stroke="#888" stroke-width=".5"/><rect x="648" y="200" width="16" height="26" fill="#fff" stroke="#888" stroke-width=".5"/><polygon class="g2" points="300,245 520,280 500,350 275,315" /><polyline class="l" points="292,268 514,302" /><polyline class="l" points="284,292 507,326" /><polygon class="g2" points="565,285 760,330 760,400 560,355" /><polyline class="l" points="563,308 760,353" /><polyline class="l" points="561,332 760,377" /><polygon class="w" points="515,300 545,295 568,372 498,372" /><polygon class="g2" points="205,470 265,410 320,440 325,540 265,590 215,540" /><polyline class="l" points="205,492 245,492 245,505 205,505" /><polyline class="l" points="245,330 215,380 265,410" /><polyline class="l" points="265,590 175,630" /><polyline class="l" points="350,420 330,560 255,1010" /><polyline class="l" points="350,420 415,490 345,960" /><polyline class="l" points="415,490 640,500 700,960 345,960" /><polyline class="l" points="640,500 800,420" /><polyline class="l" points="700,960 745,1010" /><polyline class="l" points="680,590 760,1000" /><polyline class="l" points="800,420 815,600 780,1000" /><path d="M272.8,363.4 L277.3,366.4 L283.4,370.2 L290.7,374.5 L298.5,379.5 L306.5,384.9 L314.0,390.7 L320.7,396.8 L325.9,403.0 L330.0,409.9 L333.6,417.5 L336.7,425.9 L339.5,434.8 L342.0,444.0 L344.3,453.3 L346.6,462.6 L349.0,471.6 L351.1,480.1 L352.7,488.5 L354.1,496.9 L355.4,505.6 L357.0,514.4 L359.0,523.6 L361.7,533.1 L365.3,542.8 L369.7,552.9 L374.8,563.5 L380.5,574.3 L386.6,585.2 L393.0,596.0 L399.8,606.5 L406.6,616.3 L413.5,625.3 L420.5,633.5 L427.6,641.2 L434.8,648.3 L442.3,655.0 L450.1,661.3 L458.1,667.2 L466.5,672.8 L475.5,678.3 L485.6,683.3 L496.5,687.4 L507.6,690.9 L518.6,694.0 L529.1,697.0 L538.7,700.3 L547.1,704.0 L554.1,708.3 L560.1,713.4 L565.5,719.2 L570.5,725.5 L574.9,732.3 L579.1,739.6 L582.9,747.4 L586.6,755.6 L590.3,764.0 L593.7,772.9 L596.9,782.6 L599.9,792.9 L602.6,803.5 L604.9,813.9 L606.8,823.9 L608.2,833.1 L609.1,840.8 L609.2,846.4 L608.4,850.8 L607.1,854.9 L605.2,859.3 L603.1,864.5 L601.2,870.9 L600.2,878.5 L600.9,887.0 L603.1,895.7 L606.2,904.4 L610.1,913.3 L614.3,922.2 L618.6,931.0 L622.7,939.3 L626.3,947.1 L629.1,954.2 L631.5,961.1 L633.8,968.2 L635.9,975.4 L637.9,982.3 L639.6,988.7 L641.1,994.5 L642.4,999.4 L643.5,1003.3 L666.5,996.7 L665.5,993.1 L664.1,988.3 L662.5,982.4 L660.6,975.9 L658.5,968.7 L656.2,961.2 L653.7,953.5 L650.9,945.8 L647.5,937.8 L643.5,929.3 L639.2,920.7 L634.9,912.2 L630.8,903.8 L627.3,895.9 L624.7,888.9 L623.1,883.0 L622.7,878.8 L623.1,875.4 L624.1,871.8 L625.8,867.6 L627.9,862.3 L629.8,855.7 L631.0,847.9 L630.9,839.2 L629.7,830.0 L628.1,820.1 L626.0,809.5 L623.4,798.4 L620.5,787.2 L617.2,776.2 L613.6,765.7 L609.7,756.0 L605.8,747.0 L601.8,738.4 L597.4,729.8 L592.6,721.4 L587.2,713.4 L581.0,705.7 L574.0,698.5 L565.9,691.7 L556.4,685.9 L545.9,681.4 L535.0,677.8 L523.9,674.7 L513.0,671.9 L502.6,669.0 L493.0,665.7 L484.5,661.7 L476.4,657.0 L468.5,652.0 L460.9,646.8 L453.7,641.3 L446.7,635.3 L439.8,629.0 L433.1,622.1 L426.5,614.7 L419.8,606.4 L413.1,597.3 L406.5,587.5 L400.0,577.3 L393.9,566.9 L388.2,556.5 L383.1,546.5 L378.7,537.2 L375.2,528.5 L372.5,520.0 L370.4,511.6 L368.7,503.2 L367.1,494.7 L365.4,486.0 L363.4,477.2 L361.0,468.4 L358.3,459.4 L355.7,450.3 L353.1,440.9 L350.3,431.5 L347.1,422.2 L343.5,413.2 L339.2,404.8 L334.1,397.0 L327.7,389.8 L320.1,383.2 L311.8,377.2 L303.4,371.8 L295.2,367.0 L287.7,362.8 L281.6,359.4 L277.2,356.6Z" fill="#151515"/><path d="M455.6,792.6 L460.1,797.0 L465.9,803.0 L473.0,810.2 L481.0,818.1 L489.6,826.2 L498.7,834.0 L508.1,841.1 L517.5,846.9 L527.7,851.6 L538.9,855.5 L550.8,858.8 L562.6,861.6 L573.9,864.0 L584.0,866.0 L592.3,867.8 L598.5,869.3 L601.5,854.7 L595.1,853.6 L586.4,852.3 L576.3,850.7 L565.2,848.9 L553.6,846.6 L542.3,844.0 L531.7,840.8 L522.5,837.1 L513.8,832.3 L504.8,826.1 L495.8,819.0 L487.0,811.4 L478.9,804.0 L471.5,797.2 L465.2,791.5 L460.4,787.4Z" fill="#151515"/><path d="M440.1,704.0 L446.4,704.1 L455.0,703.8 L465.0,703.4 L476.1,703.1 L487.5,703.1 L498.8,703.7 L509.3,705.0 L518.4,707.3 L526.9,710.9 L535.8,715.9 L544.9,722.0 L553.8,728.6 L562.1,735.3 L569.5,741.5 L575.9,746.8 L580.9,750.6 L589.1,739.4 L584.2,736.0 L577.8,731.1 L570.0,725.2 L561.2,718.6 L551.7,712.0 L541.8,705.8 L531.7,700.6 L521.6,696.7 L511.0,694.5 L499.5,693.5 L487.6,693.2 L475.8,693.6 L464.6,694.2 L454.5,695.0 L446.1,695.7 L439.9,696.0Z" fill="#151515"/><path d="M428.5,642.6 L437.1,647.8 L445.8,653.0 L454.4,658.3 L463.0,663.5 L471.6,668.7 L480.3,673.9 L488.9,679.1 L497.5,684.3 L502.5,675.7 L493.6,670.9 L484.7,666.1 L475.9,661.3 L467.0,656.5 L458.1,651.7 L449.2,647.0 L440.4,642.2 L431.5,637.4Z" fill="#151515"/><path d="M638.1,659.5 L636.7,663.9 L634.8,669.6 L632.6,676.5 L630.2,684.3 L627.7,692.7 L625.4,701.5 L623.2,710.5 L621.5,719.5 L620.2,729.2 L619.1,740.2 L618.1,751.8 L617.3,763.5 L616.6,774.8 L616.0,785.0 L615.5,793.5 L615.0,799.7 L625.0,800.3 L625.1,793.9 L625.3,785.3 L625.5,775.2 L625.8,764.0 L626.2,752.3 L626.8,740.8 L627.5,730.0 L628.5,720.5 L629.8,711.8 L631.4,702.9 L633.4,694.1 L635.5,685.7 L637.5,677.9 L639.3,671.0 L640.9,665.1 L641.9,660.5Z" fill="#151515"/><path d="M594.2,899.9 L597.9,900.6 L601.7,901.2 L605.4,901.8 L609.2,902.4 L612.9,903.1 L616.7,903.7 L620.4,904.3 L624.2,904.9 L625.8,895.1 L622.1,894.4 L618.3,893.8 L614.6,893.2 L610.8,892.6 L607.1,891.9 L603.3,891.3 L599.6,890.7 L595.8,890.1Z" fill="#151515"/><circle cx="560.4" cy="629.9" r="38.2" fill="#de3a52" opacity="0.88"/><circle cx="524.8" cy="619.2" r="42.1" fill="#de3a52" opacity="0.88"/><circle cx="524.0" cy="581.9" r="44.6" fill="#de3a52" opacity="0.88"/><circle cx="559.1" cy="569.7" r="44.1" fill="#de3a52" opacity="0.88"/><circle cx="581.7" cy="599.3" r="40.7" fill="#de3a52" opacity="0.88"/><circle cx="550" cy="600" r="27.7" fill="#b8121e" opacity=".55"/><circle cx="550" cy="600" r="13.2" fill="#5a0810" opacity=".8"/><circle cx="575" cy="585" r="26" fill="#e8788a" opacity=".8"/><circle cx="320" cy="375" r="14" fill="#d42838" opacity=".9"/><circle cx="345" cy="405" r="12" fill="#d42838" opacity=".9"/><circle cx="380" cy="475" r="14" fill="#d42838" opacity=".9"/><circle cx="387" cy="515" r="18" fill="#d42838" opacity=".9"/><circle cx="405" cy="575" r="12" fill="#d42838" opacity=".9"/><circle cx="450" cy="602" r="20" fill="#d42838" opacity=".9"/><circle cx="525" cy="525" r="14" fill="#d42838" opacity=".9"/><circle cx="640" cy="660" r="14" fill="#d42838" opacity=".9"/><circle cx="636" cy="730" r="16" fill="#d42838" opacity=".9"/><circle cx="440" cy="685" r="14" fill="#d42838" opacity=".9"/><circle cx="430" cy="715" r="14" fill="#d42838" opacity=".9"/><circle cx="452" cy="750" r="16" fill="#d42838" opacity=".9"/><circle cx="490" cy="700" r="11" fill="#d42838" opacity=".9"/><circle cx="545" cy="715" r="11" fill="#d42838" opacity=".9"/><circle cx="560" cy="775" r="11" fill="#d42838" opacity=".9"/><circle cx="520" cy="745" r="9" fill="#d42838" opacity=".9"/><circle cx="475" cy="650" r="10" fill="#d42838" opacity=".9"/><circle cx="415" cy="690" r="12" fill="#d42838" opacity=".9"/><circle cx="470" cy="730" r="11" fill="#d42838" opacity=".9"/><circle cx="500" cy="760" r="10" fill="#d42838" opacity=".9"/><circle cx="420" cy="745" r="10" fill="#d42838" opacity=".9"/><circle cx="600" cy="700" r="11" fill="#d42838" opacity=".9"/><circle cx="585" cy="660" r="9" fill="#d42838" opacity=".9"/><circle cx="360" cy="440" r="10" fill="#d42838" opacity=".9"/><circle cx="395" cy="545" r="10" fill="#d42838" opacity=".9"/><circle cx="430" cy="610" r="11" fill="#d42838" opacity=".9"/><circle cx="300" cy="385" r="10" fill="#d42838" opacity=".9"/><path d="M457.7,381.0 L461.9,381.6 L467.5,382.1 L474.2,382.6 L481.5,383.4 L489.0,384.3 L496.2,385.7 L502.8,387.4 L508.3,389.6 L513.1,392.4 L517.6,395.7 L521.9,399.4 L526.0,403.5 L529.9,408.0 L533.6,412.7 L537.3,417.7 L540.9,422.8 L544.1,428.1 L546.9,433.7 L549.5,439.9 L552.1,446.3 L554.8,453.0 L557.7,459.8 L561.1,466.6 L564.9,473.2 L569.0,479.5 L573.1,485.9 L577.4,492.3 L582.1,498.8 L587.2,505.1 L592.8,511.3 L599.0,517.2 L605.9,522.7 L613.5,527.8 L621.7,532.7 L630.4,537.4 L639.5,541.8 L649.0,545.7 L658.8,549.3 L668.6,552.3 L678.6,554.6 L689.1,556.1 L699.8,556.5 L710.6,556.2 L721.3,555.5 L731.7,554.7 L741.6,554.1 L750.8,553.9 L759.3,554.5 L767.7,555.5 L776.1,556.8 L784.2,558.3 L791.9,560.1 L799.0,562.1 L805.2,564.3 L810.4,566.8 L814.3,569.3 L816.9,572.0 L819.1,575.6 L821.0,580.3 L822.5,585.5 L823.6,590.9 L824.5,596.2 L825.4,601.0 L826.4,604.8 L845.6,599.2 L844.7,596.5 L843.8,592.3 L842.6,586.8 L841.0,580.5 L838.9,573.7 L835.8,566.9 L831.5,560.3 L825.7,554.7 L819.0,550.7 L811.9,547.5 L804.2,544.9 L796.1,542.8 L787.6,541.1 L778.8,539.7 L769.9,538.5 L760.7,537.5 L751.0,537.1 L740.8,537.5 L730.4,538.3 L720.0,539.3 L709.7,540.1 L699.7,540.6 L690.3,540.4 L681.4,539.4 L672.5,537.4 L663.4,534.9 L654.4,531.8 L645.5,528.2 L636.8,524.3 L628.6,520.1 L621.0,515.8 L614.1,511.3 L607.9,506.7 L602.3,501.7 L597.1,496.4 L592.3,490.7 L587.8,484.9 L583.4,478.8 L579.2,472.7 L575.1,466.8 L571.4,460.9 L568.1,454.8 L565.1,448.5 L562.3,442.0 L559.4,435.6 L556.3,429.1 L552.9,422.9 L549.1,417.2 L545.1,411.9 L541.1,406.8 L536.8,401.9 L532.4,397.2 L527.7,392.9 L522.7,388.9 L517.4,385.4 L511.7,382.4 L505.1,380.0 L497.7,378.3 L490.0,377.2 L482.2,376.4 L474.7,375.9 L468.0,375.6 L462.4,375.3 L458.3,375.0Z" fill="#151515"/><circle cx="510" cy="380" r="12" fill="#d42838" opacity=".9"/><circle cx="535" cy="402" r="10" fill="#d42838" opacity=".9"/><circle cx="620" cy="500" r="12" fill="#d42838" opacity=".9"/><circle cx="665" cy="515" r="20" fill="#d42838" opacity=".9"/><circle cx="630" cy="548" r="10" fill="#d42838" opacity=".9"/><circle cx="805" cy="525" r="12" fill="#d42838" opacity=".9"/><circle cx="790" cy="590" r="27" fill="#d42838" opacity=".9"/></g></g>
<g transform="translate(470,415) scale(0.24414)"><polygon class="g2" points="154.9,87.7 162.1,56.5 174.1,51.7 202.9,66.1 200.5,92.5" /><polygon class="w" points="140.5,87.7 226.9,93.5 245.1,157.3 214.9,250.9 280.9,537.9 280.9,568.9 153.8,878.9 138.3,872.7 112.3,587.5 107.3,491.4 147.6,448 147.6,389.1" /><polyline class="l" points="205.3,92.5 231.7,159.7 195.7,202.9 200.5,241.3 202.9,375.7 219.7,390.1 191,562.7 166.2,637.1" /><polyline class="ll" points="214.9,250.9 205,262 206,375" /><polyline class="ll" points="219.7,390.1 205,470 195,565" /><polygon class="w" points="79.4,590.6 98,584.4 197.2,677.4 194.1,699.1 138.3,872.7 85.6,835.5" /><polyline class="l" points="88,598 186,686 184,700 133,860" /><polygon class="w" points="36,844.8 57.7,836.7 194.1,950.2 144.5,993.6 45.3,953.3" /><polyline class="l" points="57.7,836.7 67,956 45.3,953.3" /><polyline class="l" points="67,956 144,985" /><polyline class="l" points="79,851 188,944" /><polyline class="ll" points="67,956 150,975 188,944" /></g>
<g transform="translate(475,510) scale(0.15138)"><path d="M220.7,62.9 L222.7,68.3 L225.8,75.4 L229.6,83.7 L233.5,92.8 L237.2,102.5 L240.2,112.1 L242.0,121.4 L242.3,129.8 L241.0,137.8 L238.2,146.0 L234.4,154.3 L229.9,162.9 L224.9,171.5 L220.0,180.3 L215.3,189.3 L211.4,198.2 L208.1,207.1 L204.7,216.0 L201.4,225.0 L198.3,234.0 L195.5,243.0 L193.2,252.0 L191.5,260.9 L190.4,269.6 L190.3,278.4 L191.2,286.9 L192.7,295.2 L194.6,303.1 L196.6,310.7 L198.3,317.8 L199.6,324.3 L200.2,330.3 L200.2,336.2 L199.7,342.1 L198.9,348.0 L197.8,353.6 L196.7,358.9 L195.6,363.6 L194.7,367.7 L194.1,370.9 L205.9,373.1 L206.4,370.1 L207.3,366.2 L208.3,361.4 L209.4,355.9 L210.5,349.8 L211.3,343.4 L211.8,336.6 L211.8,329.7 L211.0,322.6 L209.5,315.2 L207.6,307.8 L205.7,300.4 L203.8,292.8 L202.4,285.3 L201.5,277.8 L201.6,270.4 L202.5,262.6 L204.1,254.4 L206.2,246.0 L208.7,237.3 L211.5,228.4 L214.5,219.5 L217.6,210.5 L220.6,201.8 L224.0,193.2 L228.1,184.6 L232.7,175.8 L237.5,166.9 L241.9,157.9 L245.7,148.8 L248.5,139.5 L249.7,130.2 L249.0,120.5 L246.7,110.4 L243.3,100.3 L239.2,90.4 L235.0,81.2 L230.9,73.0 L227.6,66.2 L225.3,61.1Z" fill="#141414"/><path d="M174.2,303.9 L177.3,304.5 L180.5,305.2 L183.6,305.8 L186.7,306.4 L189.8,307.0 L193.0,307.7 L196.1,308.3 L199.2,308.9 L200.8,301.1 L197.7,300.5 L194.5,299.8 L191.4,299.2 L188.3,298.6 L185.2,298.0 L182.0,297.3 L178.9,296.7 L175.8,296.1Z" fill="#141414"/><circle cx="258" cy="95" r="14" fill="#d01f2a" opacity=".92"/><circle cx="255" cy="130" r="14" fill="#d01f2a" opacity=".92"/><circle cx="175" cy="205" r="20" fill="#d01f2a" opacity=".92"/><circle cx="160" cy="236" r="14" fill="#d01f2a" opacity=".92"/><circle cx="210" cy="285" r="14" fill="#d01f2a" opacity=".92"/><circle cx="236" cy="320" r="20" fill="#d01f2a" opacity=".92"/><circle cx="215" cy="346" r="12" fill="#d01f2a" opacity=".92"/><path d="M182.0,812.8 L183.2,804.0 L184.9,792.0 L186.9,777.7 L189.0,761.9 L191.1,745.4 L193.0,729.1 L194.4,713.8 L195.4,700.3 L195.9,688.4 L196.3,677.0 L196.3,666.0 L196.1,655.4 L195.6,645.3 L194.7,635.5 L193.3,626.0 L191.3,616.7 L188.5,607.8 L184.9,599.8 L180.8,592.7 L176.6,586.5 L171.9,581.3 L167.6,576.3 L163.7,571.1 L160.1,565.1 L156.2,557.8 L152.2,550.0 L148.2,541.9 L144.3,533.6 L140.7,525.1 L137.5,516.4 L134.7,507.7 L132.5,498.9 L131.0,489.2 L130.1,478.3 L129.8,466.7 L129.7,454.9 L129.9,443.6 L130.1,433.3 L130.2,424.6 L130.0,418.2 L122.0,417.8 L121.3,424.2 L120.3,432.7 L119.2,443.0 L118.1,454.4 L117.3,466.4 L116.7,478.5 L116.8,490.3 L117.5,501.1 L119.0,511.3 L121.1,521.2 L123.8,530.9 L126.8,540.4 L130.0,549.6 L133.4,558.4 L136.7,566.7 L139.9,574.9 L143.6,582.9 L147.8,590.1 L151.9,596.5 L155.8,602.2 L159.8,607.1 L163.3,612.0 L166.2,617.1 L168.7,623.3 L170.8,630.7 L172.5,638.8 L173.9,647.5 L175.0,656.8 L175.8,666.7 L176.3,677.1 L176.5,688.2 L176.6,699.7 L176.3,712.7 L175.4,727.6 L174.2,743.7 L172.7,760.1 L171.2,775.9 L169.8,790.2 L168.7,802.3 L168.0,811.2Z" fill="#141414"/><path d="M122.4,577.9 L124.7,580.4 L127.9,583.4 L131.5,587.0 L135.5,590.8 L139.6,595.0 L143.7,599.2 L147.4,603.4 L150.6,607.4 L153.6,611.8 L156.9,616.9 L160.3,622.5 L163.6,628.3 L166.8,633.9 L169.6,639.0 L172.0,643.4 L173.9,646.7 L196.1,633.3 L194.2,630.3 L191.7,626.2 L188.6,621.1 L185.1,615.5 L181.4,609.5 L177.5,603.6 L173.5,597.8 L169.4,592.6 L165.2,587.7 L160.6,583.0 L156.0,578.4 L151.4,574.2 L147.0,570.3 L143.1,566.9 L140.0,564.1 L137.6,562.1Z" fill="#141414"/><path d="M185.9,611.2 L187.1,604.2 L188.9,594.8 L191.2,583.5 L193.6,571.0 L196.0,557.9 L198.1,544.6 L199.6,531.9 L200.2,520.1 L200.0,508.8 L198.9,497.1 L197.3,485.3 L195.3,473.8 L193.3,463.1 L191.3,453.6 L189.6,445.6 L188.5,439.6 L183.5,440.4 L184.3,446.6 L185.5,454.7 L187.1,464.3 L188.7,474.9 L190.2,486.2 L191.3,497.8 L191.9,509.1 L191.8,519.9 L190.7,530.9 L188.8,543.2 L186.4,556.1 L183.6,569.0 L180.7,581.3 L178.1,592.4 L175.8,601.8 L174.1,608.8Z" fill="#141414"/><path d="M200.2,561.5 L201.6,557.3 L203.3,551.6 L205.3,544.8 L207.7,537.4 L210.2,530.0 L213.0,523.0 L215.8,516.8 L218.7,512.2 L222.0,508.7 L226.1,505.6 L230.6,502.9 L235.4,500.6 L240.1,498.7 L244.5,497.1 L248.2,495.6 L251.0,494.3 L249.0,489.7 L246.3,490.7 L242.7,491.9 L238.1,493.3 L233.1,495.1 L227.8,497.3 L222.6,500.1 L217.6,503.5 L213.3,507.8 L209.5,513.3 L206.1,519.9 L203.0,527.2 L200.1,534.8 L197.5,542.2 L195.2,549.0 L193.3,554.5 L191.8,558.5Z" fill="#141414"/><path d="M148.1,440.7 L149.3,443.9 L151.0,448.0 L152.9,452.9 L155.1,458.3 L157.3,464.1 L159.4,469.9 L161.2,475.4 L162.6,480.6 L163.6,485.8 L164.5,491.3 L165.2,497.1 L165.7,502.8 L166.1,508.2 L166.5,513.1 L166.8,517.2 L167.0,520.3 L173.0,519.7 L172.6,516.6 L172.2,512.6 L171.7,507.7 L171.2,502.2 L170.5,496.4 L169.7,490.6 L168.7,484.8 L167.4,479.4 L165.8,474.0 L163.8,468.3 L161.6,462.4 L159.3,456.7 L157.0,451.2 L154.9,446.4 L153.1,442.3 L151.9,439.3Z" fill="#141414"/><circle cx="127" cy="378" r="14" fill="#d01f2a" opacity=".92"/><circle cx="180" cy="410" r="14" fill="#d01f2a" opacity=".92"/><circle cx="150" cy="435" r="10" fill="#d01f2a" opacity=".92"/><circle cx="165" cy="470" r="8" fill="#d01f2a" opacity=".92"/><circle cx="248" cy="480" r="12" fill="#d01f2a" opacity=".92"/><circle cx="130" cy="640" r="12" fill="#d01f2a" opacity=".92"/><circle cx="165" cy="670" r="16" fill="#d01f2a" opacity=".92"/><circle cx="150" cy="690" r="10" fill="#d01f2a" opacity=".92"/></g>
<g transform="translate(470,415) scale(0.24414)"><g transform="translate(862,0) scale(-1,1)"><polygon class="g2" points="154.9,87.7 162.1,56.5 174.1,51.7 202.9,66.1 200.5,92.5" /><polygon class="w" points="140.5,87.7 226.9,93.5 245.1,157.3 214.9,250.9 280.9,537.9 280.9,568.9 153.8,878.9 138.3,872.7 112.3,587.5 107.3,491.4 147.6,448 147.6,389.1" /><polyline class="l" points="205.3,92.5 231.7,159.7 195.7,202.9 200.5,241.3 202.9,375.7 219.7,390.1 191,562.7 166.2,637.1" /><polyline class="ll" points="214.9,250.9 205,262 206,375" /><polyline class="ll" points="219.7,390.1 205,470 195,565" /><polygon class="w" points="79.4,590.6 98,584.4 197.2,677.4 194.1,699.1 138.3,872.7 85.6,835.5" /><polyline class="l" points="88,598 186,686 184,700 133,860" /><polygon class="w" points="36,844.8 57.7,836.7 194.1,950.2 144.5,993.6 45.3,953.3" /><polyline class="l" points="57.7,836.7 67,956 45.3,953.3" /><polyline class="l" points="67,956 144,985" /><polyline class="l" points="79,851 188,944" /><polyline class="ll" points="67,956 150,975 188,944" /></g></g>
<g transform="translate(475,510) scale(0.15138)"><g transform="translate(1323.8,0) scale(-1,1)"><path d="M220.7,62.9 L222.7,68.3 L225.8,75.4 L229.6,83.7 L233.5,92.8 L237.2,102.5 L240.2,112.1 L242.0,121.4 L242.3,129.8 L241.0,137.8 L238.2,146.0 L234.4,154.3 L229.9,162.9 L224.9,171.5 L220.0,180.3 L215.3,189.3 L211.4,198.2 L208.1,207.1 L204.7,216.0 L201.4,225.0 L198.3,234.0 L195.5,243.0 L193.2,252.0 L191.5,260.9 L190.4,269.6 L190.3,278.4 L191.2,286.9 L192.7,295.2 L194.6,303.1 L196.6,310.7 L198.3,317.8 L199.6,324.3 L200.2,330.3 L200.2,336.2 L199.7,342.1 L198.9,348.0 L197.8,353.6 L196.7,358.9 L195.6,363.6 L194.7,367.7 L194.1,370.9 L205.9,373.1 L206.4,370.1 L207.3,366.2 L208.3,361.4 L209.4,355.9 L210.5,349.8 L211.3,343.4 L211.8,336.6 L211.8,329.7 L211.0,322.6 L209.5,315.2 L207.6,307.8 L205.7,300.4 L203.8,292.8 L202.4,285.3 L201.5,277.8 L201.6,270.4 L202.5,262.6 L204.1,254.4 L206.2,246.0 L208.7,237.3 L211.5,228.4 L214.5,219.5 L217.6,210.5 L220.6,201.8 L224.0,193.2 L228.1,184.6 L232.7,175.8 L237.5,166.9 L241.9,157.9 L245.7,148.8 L248.5,139.5 L249.7,130.2 L249.0,120.5 L246.7,110.4 L243.3,100.3 L239.2,90.4 L235.0,81.2 L230.9,73.0 L227.6,66.2 L225.3,61.1Z" fill="#141414"/><path d="M174.2,303.9 L177.3,304.5 L180.5,305.2 L183.6,305.8 L186.7,306.4 L189.8,307.0 L193.0,307.7 L196.1,308.3 L199.2,308.9 L200.8,301.1 L197.7,300.5 L194.5,299.8 L191.4,299.2 L188.3,298.6 L185.2,298.0 L182.0,297.3 L178.9,296.7 L175.8,296.1Z" fill="#141414"/><circle cx="258" cy="95" r="14" fill="#d01f2a" opacity=".92"/><circle cx="255" cy="130" r="14" fill="#d01f2a" opacity=".92"/><circle cx="175" cy="205" r="20" fill="#d01f2a" opacity=".92"/><circle cx="160" cy="236" r="14" fill="#d01f2a" opacity=".92"/><circle cx="210" cy="285" r="14" fill="#d01f2a" opacity=".92"/><circle cx="236" cy="320" r="20" fill="#d01f2a" opacity=".92"/><circle cx="215" cy="346" r="12" fill="#d01f2a" opacity=".92"/><path d="M182.0,812.8 L183.2,804.0 L184.9,792.0 L186.9,777.7 L189.0,761.9 L191.1,745.4 L193.0,729.1 L194.4,713.8 L195.4,700.3 L195.9,688.4 L196.3,677.0 L196.3,666.0 L196.1,655.4 L195.6,645.3 L194.7,635.5 L193.3,626.0 L191.3,616.7 L188.5,607.8 L184.9,599.8 L180.8,592.7 L176.6,586.5 L171.9,581.3 L167.6,576.3 L163.7,571.1 L160.1,565.1 L156.2,557.8 L152.2,550.0 L148.2,541.9 L144.3,533.6 L140.7,525.1 L137.5,516.4 L134.7,507.7 L132.5,498.9 L131.0,489.2 L130.1,478.3 L129.8,466.7 L129.7,454.9 L129.9,443.6 L130.1,433.3 L130.2,424.6 L130.0,418.2 L122.0,417.8 L121.3,424.2 L120.3,432.7 L119.2,443.0 L118.1,454.4 L117.3,466.4 L116.7,478.5 L116.8,490.3 L117.5,501.1 L119.0,511.3 L121.1,521.2 L123.8,530.9 L126.8,540.4 L130.0,549.6 L133.4,558.4 L136.7,566.7 L139.9,574.9 L143.6,582.9 L147.8,590.1 L151.9,596.5 L155.8,602.2 L159.8,607.1 L163.3,612.0 L166.2,617.1 L168.7,623.3 L170.8,630.7 L172.5,638.8 L173.9,647.5 L175.0,656.8 L175.8,666.7 L176.3,677.1 L176.5,688.2 L176.6,699.7 L176.3,712.7 L175.4,727.6 L174.2,743.7 L172.7,760.1 L171.2,775.9 L169.8,790.2 L168.7,802.3 L168.0,811.2Z" fill="#141414"/><path d="M122.4,577.9 L124.7,580.4 L127.9,583.4 L131.5,587.0 L135.5,590.8 L139.6,595.0 L143.7,599.2 L147.4,603.4 L150.6,607.4 L153.6,611.8 L156.9,616.9 L160.3,622.5 L163.6,628.3 L166.8,633.9 L169.6,639.0 L172.0,643.4 L173.9,646.7 L196.1,633.3 L194.2,630.3 L191.7,626.2 L188.6,621.1 L185.1,615.5 L181.4,609.5 L177.5,603.6 L173.5,597.8 L169.4,592.6 L165.2,587.7 L160.6,583.0 L156.0,578.4 L151.4,574.2 L147.0,570.3 L143.1,566.9 L140.0,564.1 L137.6,562.1Z" fill="#141414"/><path d="M185.9,611.2 L187.1,604.2 L188.9,594.8 L191.2,583.5 L193.6,571.0 L196.0,557.9 L198.1,544.6 L199.6,531.9 L200.2,520.1 L200.0,508.8 L198.9,497.1 L197.3,485.3 L195.3,473.8 L193.3,463.1 L191.3,453.6 L189.6,445.6 L188.5,439.6 L183.5,440.4 L184.3,446.6 L185.5,454.7 L187.1,464.3 L188.7,474.9 L190.2,486.2 L191.3,497.8 L191.9,509.1 L191.8,519.9 L190.7,530.9 L188.8,543.2 L186.4,556.1 L183.6,569.0 L180.7,581.3 L178.1,592.4 L175.8,601.8 L174.1,608.8Z" fill="#141414"/><path d="M200.2,561.5 L201.6,557.3 L203.3,551.6 L205.3,544.8 L207.7,537.4 L210.2,530.0 L213.0,523.0 L215.8,516.8 L218.7,512.2 L222.0,508.7 L226.1,505.6 L230.6,502.9 L235.4,500.6 L240.1,498.7 L244.5,497.1 L248.2,495.6 L251.0,494.3 L249.0,489.7 L246.3,490.7 L242.7,491.9 L238.1,493.3 L233.1,495.1 L227.8,497.3 L222.6,500.1 L217.6,503.5 L213.3,507.8 L209.5,513.3 L206.1,519.9 L203.0,527.2 L200.1,534.8 L197.5,542.2 L195.2,549.0 L193.3,554.5 L191.8,558.5Z" fill="#141414"/><path d="M148.1,440.7 L149.3,443.9 L151.0,448.0 L152.9,452.9 L155.1,458.3 L157.3,464.1 L159.4,469.9 L161.2,475.4 L162.6,480.6 L163.6,485.8 L164.5,491.3 L165.2,497.1 L165.7,502.8 L166.1,508.2 L166.5,513.1 L166.8,517.2 L167.0,520.3 L173.0,519.7 L172.6,516.6 L172.2,512.6 L171.7,507.7 L171.2,502.2 L170.5,496.4 L169.7,490.6 L168.7,484.8 L167.4,479.4 L165.8,474.0 L163.8,468.3 L161.6,462.4 L159.3,456.7 L157.0,451.2 L154.9,446.4 L153.1,442.3 L151.9,439.3Z" fill="#141414"/><circle cx="127" cy="378" r="14" fill="#d01f2a" opacity=".92"/><circle cx="180" cy="410" r="14" fill="#d01f2a" opacity=".92"/><circle cx="150" cy="435" r="10" fill="#d01f2a" opacity=".92"/><circle cx="165" cy="470" r="8" fill="#d01f2a" opacity=".92"/><circle cx="248" cy="480" r="12" fill="#d01f2a" opacity=".92"/><circle cx="130" cy="640" r="12" fill="#d01f2a" opacity=".92"/><circle cx="165" cy="670" r="16" fill="#d01f2a" opacity=".92"/><circle cx="150" cy="690" r="10" fill="#d01f2a" opacity=".92"/></g></g>
<polygon points="712.09,657.34 710.62,692.50 709.26,727.66 708.79,738.09 707.78,776.18 708.79,814.27 710.82,852.36 715.39,887.91 723.01,892.99 740.79,862.52 741.30,826.97 739.77,776.18 740.28,738.09 739.53,727.66 740.70,692.50 741.88,662.23" fill="#fff" stroke="#2a2020" stroke-width="1.05" stroke-linejoin="round"/><polyline points="722.83,670.04 720.59,727.66 719.96,750.79 720.98,826.97 724.28,887.91" fill="none" stroke="#a88" stroke-width=".5"/><polyline points="729.67,670.04 727.42,727.66 728.09,750.79 728.60,826.97 730.63,877.76" fill="none" stroke="#a88" stroke-width=".5"/><polyline points="711.11,690.55 721.37,702.75" fill="none" stroke="#151515" stroke-width="1"/><polyline points="727.71,704.71 739.92,692.99" fill="none" stroke="#151515" stroke-width="1"/><polygon points="711.80,649.53 702.32,653.93 702.32,668.57 711.41,672.97" fill="#fff" stroke="#2a2020" stroke-width="1.05" stroke-linejoin="round"/><polygon points="743.83,651.00 752.13,656.37 751.15,669.06 741.88,673.95" fill="#fff" stroke="#2a2020" stroke-width="1.05" stroke-linejoin="round"/><circle cx="707.21" cy="665.35" r="2.6" fill="#fff" stroke="#2a2020" stroke-width="1.05" stroke-linejoin="round"/><circle cx="746.56" cy="665.64" r="2.6" fill="#fff" stroke="#2a2020" stroke-width="1.05" stroke-linejoin="round"/><polygon points="723.07,512.95 753.32,513.46 750.45,553.45 720.00,551.19" fill="#fff" stroke="#2a2020" stroke-width="1.05" stroke-linejoin="round"/><polygon points="725.12,536.02 730.76,536.02 730.76,546.78 725.12,546.78" fill="#fff" stroke="#999" stroke-width=".5"/><polygon points="742.04,537.04 747.37,537.04 746.96,547.50 741.84,547.50" fill="#fff" stroke="#999" stroke-width=".5"/><polygon points="723.07,521.87 727.48,519.20 733.84,521.25 741.02,521.25 747.17,519.61 751.27,522.69 750.25,531.40 742.04,534.58 730.76,534.58 723.07,530.89" fill="#f6d21c"/><polygon points="721.02,550.89 729.74,547.30 743.07,548.32 749.73,552.94 735.89,564.52" fill="#f6d21c"/><polygon points="732.61,521.15 734.66,518.17 740.61,518.17 742.25,521.25 741.22,554.47 736.10,556.73 731.99,554.06" fill="#f6d21c" stroke="#b89510" stroke-width=".5"/><polyline points="736.10,520.64 735.38,552.42" fill="none" stroke="#b89510" stroke-width=".5"/><polyline points="738.45,520.64 737.74,552.42" fill="none" stroke="#b89510" stroke-width=".5"/><polygon points="724.10,502.69 730.76,501.77 743.07,501.97 751.27,503.20 753.73,505.25 753.94,510.38 753.32,514.07 750.76,515.10 749.02,511.92 745.63,509.36 744.09,513.05 741.22,515.10 734.86,515.10 732.61,512.43 730.76,509.36 728.30,513.05 726.15,513.66 722.97,513.46 721.84,510.38 722.15,505.77" fill="#d8281c" stroke="#7a1a12" stroke-width=".5" stroke-linejoin="round"/><polygon points="719.69,552.01 735.89,564.73 751.27,553.04 745.78,630.00 743.44,659.30 729.67,670.04 726.74,665.64 723.32,670.04 711.60,657.34 712.58,630.00" fill="#d8281c" stroke="#2a2020" stroke-width="1.05" stroke-linejoin="round"/><polygon points="732.81,570.37 735.17,570.37 730.16,630.00 728.69,659.79 726.05,659.79 727.81,630.00" fill="#fff"/><g stroke="#5a1510" stroke-width=".6" opacity=".85"><line x1="719.69" y1="552.01" x2="732.25" y2="579.83"/><line x1="751.27" y1="553.04" x2="734.65" y2="579.83"/><line x1="718.79" y1="563.72" x2="731.48" y2="590.66"/><line x1="750.40" y1="564.85" x2="733.88" y2="590.66"/><line x1="717.89" y1="575.42" x2="730.71" y2="601.49"/><line x1="749.53" y1="576.65" x2="733.11" y2="601.49"/><line x1="716.99" y1="587.12" x2="729.94" y2="612.31"/><line x1="748.66" y1="588.46" x2="732.34" y2="612.31"/><line x1="716.09" y1="598.83" x2="729.17" y2="623.14"/><line x1="747.79" y1="600.26" x2="731.57" y2="623.14"/><line x1="715.20" y1="610.53" x2="728.40" y2="633.97"/><line x1="746.92" y1="612.07" x2="730.80" y2="633.97"/><line x1="714.30" y1="622.23" x2="727.63" y2="644.80"/><line x1="746.05" y1="623.88" x2="730.03" y2="644.80"/><line x1="713.40" y1="633.94" x2="726.86" y2="655.62"/><line x1="745.18" y1="635.68" x2="729.26" y2="655.62"/></g><circle cx="717.27" cy="673.46" r="1.78" fill="#c42424" opacity=".92"/><circle cx="716.00" cy="677.85" r="1.52" fill="#c42424" opacity=".92"/><circle cx="717.95" cy="680.78" r="1.52" fill="#c42424" opacity=".92"/><circle cx="714.53" cy="683.22" r="2.03" fill="#c42424" opacity=".92"/><circle cx="716.00" cy="687.13" r="1.78" fill="#c42424" opacity=".92"/><circle cx="715.02" cy="691.04" r="2.03" fill="#c42424" opacity=".92"/><circle cx="716.97" cy="694.94" r="1.27" fill="#c42424" opacity=".92"/><circle cx="715.51" cy="699.34" r="1.52" fill="#c42424" opacity=".92"/><circle cx="718.44" cy="704.22" r="1.52" fill="#c42424" opacity=".92"/><circle cx="716.48" cy="706.66" r="1.78" fill="#c42424" opacity=".92"/><circle cx="719.41" cy="711.05" r="1.02" fill="#c42424" opacity=".92"/><circle cx="734.55" cy="673.46" r="2.29" fill="#c42424" opacity=".92"/><circle cx="737.19" cy="672.19" r="1.52" fill="#c42424" opacity=".92"/><polyline points="719.41,667.11 717.95,675.90 718.44,684.69 716.97,698.36 719.90,713.98" fill="none" stroke="#644" stroke-width=".5"/><polygon points="708.28,763.48 739.77,736.82 740.28,748.25 708.28,776.18" fill="#e0281c"/><polygon points="708.28,787.61 740.28,760.94 740.79,772.63 708.54,799.54" fill="#e0281c"/><polygon points="705.74,887.91 710.82,885.37 720.98,896.04 714.12,910.77 720.47,926.00 734.44,937.43 749.93,956.48 748.41,959.52 717.93,926.51 711.58,901.12" fill="#f6d21c" stroke="#a8860c" stroke-width=".6" stroke-linejoin="round"/><polygon points="742.82,857.44 744.60,875.22 744.85,903.15 753.48,920.92 749.93,956.48 734.44,937.43 720.47,926.00 714.12,910.77 720.98,895.53" fill="#f7c243" stroke="#4a3a10" stroke-width=".7" stroke-linejoin="round"/><polygon points="736.98,889.18 743.83,877.76 744.85,903.15" fill="#d8281c"/><polyline points="720.47,926.00 715.39,915.85 749.67,953.94" fill="none" stroke="#8a6a10" stroke-width=".5"/><circle cx="735.71" cy="912.80" r="7.2" fill="#f7c243" stroke="#8a6a10" stroke-width=".6"/><circle cx="735.71" cy="912.80" r="4.8" fill="#f7c243" stroke="#8a6a10" stroke-width=".5"/>
<g transform="translate(1559.6,0) scale(-1,1)"><polygon points="712.09,657.34 710.62,692.50 709.26,727.66 708.79,738.09 707.78,776.18 708.79,814.27 710.82,852.36 715.39,887.91 723.01,892.99 740.79,862.52 741.30,826.97 739.77,776.18 740.28,738.09 739.53,727.66 740.70,692.50 741.88,662.23" fill="#fff" stroke="#2a2020" stroke-width="1.05" stroke-linejoin="round"/><polyline points="722.83,670.04 720.59,727.66 719.96,750.79 720.98,826.97 724.28,887.91" fill="none" stroke="#a88" stroke-width=".5"/><polyline points="729.67,670.04 727.42,727.66 728.09,750.79 728.60,826.97 730.63,877.76" fill="none" stroke="#a88" stroke-width=".5"/><polyline points="711.11,690.55 721.37,702.75" fill="none" stroke="#151515" stroke-width="1"/><polyline points="727.71,704.71 739.92,692.99" fill="none" stroke="#151515" stroke-width="1"/><polygon points="711.80,649.53 702.32,653.93 702.32,668.57 711.41,672.97" fill="#fff" stroke="#2a2020" stroke-width="1.05" stroke-linejoin="round"/><polygon points="743.83,651.00 752.13,656.37 751.15,669.06 741.88,673.95" fill="#fff" stroke="#2a2020" stroke-width="1.05" stroke-linejoin="round"/><circle cx="707.21" cy="665.35" r="2.6" fill="#fff" stroke="#2a2020" stroke-width="1.05" stroke-linejoin="round"/><circle cx="746.56" cy="665.64" r="2.6" fill="#fff" stroke="#2a2020" stroke-width="1.05" stroke-linejoin="round"/><polygon points="723.07,512.95 753.32,513.46 750.45,553.45 720.00,551.19" fill="#fff" stroke="#2a2020" stroke-width="1.05" stroke-linejoin="round"/><polygon points="725.12,536.02 730.76,536.02 730.76,546.78 725.12,546.78" fill="#fff" stroke="#999" stroke-width=".5"/><polygon points="742.04,537.04 747.37,537.04 746.96,547.50 741.84,547.50" fill="#fff" stroke="#999" stroke-width=".5"/><polygon points="723.07,521.87 727.48,519.20 733.84,521.25 741.02,521.25 747.17,519.61 751.27,522.69 750.25,531.40 742.04,534.58 730.76,534.58 723.07,530.89" fill="#f6d21c"/><polygon points="721.02,550.89 729.74,547.30 743.07,548.32 749.73,552.94 735.89,564.52" fill="#f6d21c"/><polygon points="732.61,521.15 734.66,518.17 740.61,518.17 742.25,521.25 741.22,554.47 736.10,556.73 731.99,554.06" fill="#f6d21c" stroke="#b89510" stroke-width=".5"/><polyline points="736.10,520.64 735.38,552.42" fill="none" stroke="#b89510" stroke-width=".5"/><polyline points="738.45,520.64 737.74,552.42" fill="none" stroke="#b89510" stroke-width=".5"/><polygon points="724.10,502.69 730.76,501.77 743.07,501.97 751.27,503.20 753.73,505.25 753.94,510.38 753.32,514.07 750.76,515.10 749.02,511.92 745.63,509.36 744.09,513.05 741.22,515.10 734.86,515.10 732.61,512.43 730.76,509.36 728.30,513.05 726.15,513.66 722.97,513.46 721.84,510.38 722.15,505.77" fill="#d8281c" stroke="#7a1a12" stroke-width=".5" stroke-linejoin="round"/><polygon points="719.69,552.01 735.89,564.73 751.27,553.04 745.78,630.00 743.44,659.30 729.67,670.04 726.74,665.64 723.32,670.04 711.60,657.34 712.58,630.00" fill="#d8281c" stroke="#2a2020" stroke-width="1.05" stroke-linejoin="round"/><polygon points="732.81,570.37 735.17,570.37 730.16,630.00 728.69,659.79 726.05,659.79 727.81,630.00" fill="#fff"/><g stroke="#5a1510" stroke-width=".6" opacity=".85"><line x1="719.69" y1="552.01" x2="732.25" y2="579.83"/><line x1="751.27" y1="553.04" x2="734.65" y2="579.83"/><line x1="718.79" y1="563.72" x2="731.48" y2="590.66"/><line x1="750.40" y1="564.85" x2="733.88" y2="590.66"/><line x1="717.89" y1="575.42" x2="730.71" y2="601.49"/><line x1="749.53" y1="576.65" x2="733.11" y2="601.49"/><line x1="716.99" y1="587.12" x2="729.94" y2="612.31"/><line x1="748.66" y1="588.46" x2="732.34" y2="612.31"/><line x1="716.09" y1="598.83" x2="729.17" y2="623.14"/><line x1="747.79" y1="600.26" x2="731.57" y2="623.14"/><line x1="715.20" y1="610.53" x2="728.40" y2="633.97"/><line x1="746.92" y1="612.07" x2="730.80" y2="633.97"/><line x1="714.30" y1="622.23" x2="727.63" y2="644.80"/><line x1="746.05" y1="623.88" x2="730.03" y2="644.80"/><line x1="713.40" y1="633.94" x2="726.86" y2="655.62"/><line x1="745.18" y1="635.68" x2="729.26" y2="655.62"/></g><circle cx="717.27" cy="673.46" r="1.78" fill="#c42424" opacity=".92"/><circle cx="716.00" cy="677.85" r="1.52" fill="#c42424" opacity=".92"/><circle cx="717.95" cy="680.78" r="1.52" fill="#c42424" opacity=".92"/><circle cx="714.53" cy="683.22" r="2.03" fill="#c42424" opacity=".92"/><circle cx="716.00" cy="687.13" r="1.78" fill="#c42424" opacity=".92"/><circle cx="715.02" cy="691.04" r="2.03" fill="#c42424" opacity=".92"/><circle cx="716.97" cy="694.94" r="1.27" fill="#c42424" opacity=".92"/><circle cx="715.51" cy="699.34" r="1.52" fill="#c42424" opacity=".92"/><circle cx="718.44" cy="704.22" r="1.52" fill="#c42424" opacity=".92"/><circle cx="716.48" cy="706.66" r="1.78" fill="#c42424" opacity=".92"/><circle cx="719.41" cy="711.05" r="1.02" fill="#c42424" opacity=".92"/><circle cx="734.55" cy="673.46" r="2.29" fill="#c42424" opacity=".92"/><circle cx="737.19" cy="672.19" r="1.52" fill="#c42424" opacity=".92"/><polyline points="719.41,667.11 717.95,675.90 718.44,684.69 716.97,698.36 719.90,713.98" fill="none" stroke="#644" stroke-width=".5"/><polygon points="708.28,763.48 739.77,736.82 740.28,748.25 708.28,776.18" fill="#e0281c"/><polygon points="708.28,787.61 740.28,760.94 740.79,772.63 708.54,799.54" fill="#e0281c"/><polygon points="705.74,887.91 710.82,885.37 720.98,896.04 714.12,910.77 720.47,926.00 734.44,937.43 749.93,956.48 748.41,959.52 717.93,926.51 711.58,901.12" fill="#f6d21c" stroke="#a8860c" stroke-width=".6" stroke-linejoin="round"/><polygon points="742.82,857.44 744.60,875.22 744.85,903.15 753.48,920.92 749.93,956.48 734.44,937.43 720.47,926.00 714.12,910.77 720.98,895.53" fill="#f7c243" stroke="#4a3a10" stroke-width=".7" stroke-linejoin="round"/><polygon points="736.98,889.18 743.83,877.76 744.85,903.15" fill="#d8281c"/><polyline points="720.47,926.00 715.39,915.85 749.67,953.94" fill="none" stroke="#8a6a10" stroke-width=".5"/><circle cx="735.71" cy="912.80" r="7.2" fill="#f7c243" stroke="#8a6a10" stroke-width=".6"/><circle cx="735.71" cy="912.80" r="4.8" fill="#f7c243" stroke="#8a6a10" stroke-width=".5"/></g>
<g transform="translate(155,720) scale(0.22462)"><path d="M73,178 L305,233 L320,235 L366,348 L415,500 L410,640 L365,895 L225,770 L215,705 L38,476 L55,290 Z" fill="#fff" stroke="#161616" stroke-width="1.25" stroke-linejoin="round"/><path d="M88,32 L242,104 Q268,117 281,139 L320,235 L305,233 L73,178 Z" fill="#c9c9c9" stroke="#161616" stroke-width="1.25" stroke-linejoin="round"/><polygon points="225,770 270,830 365,895 430,955 432,990 285,950 270,880 240,825" fill="#c9c9c9" stroke="#161616" stroke-width="1.25" stroke-linejoin="round"/><polyline points="305,233 352,345 372,400" fill="none" stroke="#222" stroke-width=".7"/><polyline points="62,275 95,278 105,296 100,425 48,450" fill="none" stroke="#222" stroke-width=".9"/><polyline points="58,320 102,336" fill="none" stroke="#222" stroke-width=".9"/><polyline points="52,402 100,378" fill="none" stroke="#222" stroke-width=".9"/><polyline points="215,705 242,700 300,790 298,840" fill="none" stroke="#666" stroke-width=".6"/><polyline points="300,790 380,808" fill="none" stroke="#666" stroke-width=".6"/><path d="M325.9,802.7 L325.1,794.5 L324.1,783.3 L323.0,770.0 L321.6,755.2 L320.2,739.7 L318.7,724.4 L317.1,709.8 L315.5,696.5 L313.6,684.2 L311.2,672.5 L308.7,661.6 L306.4,651.5 L304.3,642.3 L302.7,634.1 L301.8,626.8 L301.5,620.1 L301.8,613.7 L302.5,607.5 L303.6,601.7 L305.1,595.9 L307.0,590.0 L309.3,583.9 L312.0,577.4 L314.8,570.9 L317.8,564.9 L321.6,558.7 L326.2,552.0 L331.4,544.7 L336.9,536.9 L342.5,528.7 L347.9,519.8 L352.6,510.7 L355.8,501.9 L358.6,493.5 L361.1,484.9 L363.3,476.2 L365.0,467.4 L366.2,458.5 L366.8,449.4 L366.7,440.2 L365.9,430.8 L364.2,421.5 L361.9,412.6 L359.2,404.2 L356.3,396.1 L353.3,388.5 L350.4,381.4 L347.7,374.8 L345.0,368.4 L342.2,361.9 L339.3,355.6 L336.2,349.4 L333.0,343.4 L329.5,337.8 L325.8,332.4 L321.6,327.4 L316.7,322.7 L311.3,318.9 L305.9,315.8 L300.7,313.4 L295.9,311.4 L291.7,309.9 L288.4,308.8 L286.0,308.1 L278.0,321.9 L280.4,323.9 L283.6,326.1 L287.1,328.5 L290.8,331.0 L294.4,333.8 L297.7,336.7 L300.4,339.6 L302.4,342.6 L304.3,346.2 L306.2,350.5 L308.0,355.3 L309.8,360.6 L311.5,366.3 L313.1,372.3 L314.7,378.6 L316.3,385.2 L318.1,392.1 L319.9,399.4 L321.7,406.7 L323.3,414.0 L324.5,421.0 L325.3,427.8 L325.6,434.0 L325.3,439.8 L324.4,445.6 L323.1,451.5 L321.4,457.6 L319.2,463.8 L316.7,470.1 L313.9,476.5 L310.7,483.1 L307.4,489.3 L304.4,495.2 L300.5,501.3 L295.9,508.1 L290.6,515.3 L285.0,523.0 L279.4,531.3 L273.9,540.1 L269.2,549.1 L265.5,557.4 L262.2,565.2 L259.2,573.2 L256.4,581.6 L254.1,590.4 L252.2,599.7 L251.0,609.4 L250.5,619.9 L250.9,631.0 L252.2,641.9 L254.1,652.5 L256.4,662.8 L258.7,673.0 L260.9,683.1 L262.9,693.1 L264.5,703.5 L265.9,715.5 L267.3,729.5 L268.8,744.6 L270.1,759.8 L271.3,774.4 L272.5,787.8 L273.4,799.0 L274.1,807.3Z" fill="#161616"/><path d="M310.9,798.7 L310.1,790.8 L308.9,780.1 L307.6,767.4 L306.1,753.4 L304.6,738.8 L303.1,724.3 L301.7,710.8 L300.5,698.8 L299.4,687.9 L298.1,677.5 L296.9,667.7 L295.7,658.3 L294.8,649.5 L294.1,641.2 L293.9,633.3 L294.2,625.9 L294.9,618.9 L295.9,612.4 L297.3,606.2 L299.1,600.2 L300.7,594.1 L302.7,587.7 L304.9,581.0 L307.3,574.1 L310.1,567.1 L313.5,559.9 L317.4,552.4 L321.6,544.6 L325.8,536.7 L329.8,528.6 L333.4,520.4 L336.2,512.2 L338.3,503.6 L339.9,494.7 L341.0,485.7 L341.8,476.9 L342.3,468.6 L342.6,461.2 L342.8,455.0 L343.0,450.4 L337.0,449.6 L336.0,454.2 L334.8,460.4 L333.6,467.6 L332.2,475.6 L330.6,484.1 L328.7,492.5 L326.4,500.5 L323.8,507.8 L320.5,514.6 L316.5,521.6 L312.0,528.7 L307.2,536.0 L302.2,543.3 L297.3,550.8 L292.7,558.3 L288.7,565.9 L285.2,572.9 L282.0,579.5 L279.0,586.1 L276.2,592.9 L274.0,600.0 L272.2,607.6 L270.8,615.5 L269.8,624.1 L269.4,633.1 L269.6,642.3 L270.2,651.6 L271.0,661.0 L272.1,670.7 L273.3,680.5 L274.4,690.7 L275.5,701.2 L276.5,713.2 L277.8,726.8 L279.2,741.3 L280.6,756.0 L282.0,770.0 L283.3,782.8 L284.3,793.4 L285.1,801.3Z" fill="#6e6e6e"/><path d="M221.1,470.9 L222.3,477.0 L223.7,485.5 L225.5,495.7 L227.6,506.9 L230.1,518.4 L232.9,529.5 L236.1,539.6 L239.8,548.0 L244.6,555.0 L250.4,560.8 L256.7,565.5 L263.0,569.4 L269.0,572.6 L274.3,575.1 L278.4,577.2 L281.2,579.0 L288.8,565.0 L285.2,563.3 L280.4,561.4 L275.1,559.4 L269.5,557.0 L263.9,554.1 L258.6,550.7 L254.0,546.7 L250.2,542.0 L246.7,535.3 L243.4,526.2 L240.2,515.8 L237.4,504.7 L234.8,493.8 L232.5,483.7 L230.6,475.2 L228.9,469.1Z" fill="#161616"/><path d="M213.2,344.4 L217.1,347.3 L222.4,351.1 L228.8,355.6 L235.7,360.6 L242.7,365.8 L249.3,371.0 L255.0,376.0 L259.3,380.4 L262.1,384.2 L264.0,387.6 L265.3,390.7 L266.2,394.0 L267.1,397.7 L268.1,402.2 L269.7,407.4 L272.0,413.6 L275.1,421.2 L278.9,430.4 L283.2,440.5 L287.6,451.0 L291.9,461.2 L295.8,470.5 L299.1,478.3 L301.4,484.0 L310.6,480.0 L308.1,474.4 L304.7,466.7 L300.6,457.4 L296.2,447.3 L291.6,436.9 L287.2,426.8 L283.3,417.8 L280.0,410.4 L277.7,404.6 L276.2,399.9 L275.0,395.7 L273.9,391.8 L272.6,388.0 L270.8,384.0 L268.3,380.0 L264.7,375.6 L259.8,370.7 L253.7,365.6 L246.8,360.3 L239.6,355.2 L232.5,350.3 L226.0,345.9 L220.6,342.3 L216.8,339.6Z" fill="#161616"/><path d="M357.1,383.9 L356.2,387.4 L355.1,392.0 L353.8,397.4 L352.4,403.5 L350.8,409.9 L349.3,416.4 L347.7,422.7 L346.2,428.6 L344.6,434.4 L342.8,440.7 L341.0,447.2 L339.1,453.6 L337.3,459.7 L335.7,465.1 L334.3,469.7 L333.2,473.2 L346.8,476.8 L347.6,473.3 L348.7,468.7 L350.1,463.2 L351.6,457.0 L353.3,450.5 L354.9,443.9 L356.4,437.4 L357.8,431.4 L359.1,425.4 L360.5,419.0 L361.8,412.4 L363.1,405.9 L364.3,399.7 L365.4,394.2 L366.3,389.6 L366.9,386.1Z" fill="#161616"/><path d="M297.9,643.4 L300.4,644.9 L303.8,646.8 L307.7,649.1 L312.0,651.6 L316.4,654.2 L320.5,657.1 L324.1,659.9 L327.0,662.7 L329.4,665.7 L331.7,669.5 L333.8,673.6 L335.7,677.8 L337.4,682.0 L338.9,685.8 L340.3,689.2 L341.3,691.6 L348.7,688.4 L347.6,686.1 L346.4,682.9 L344.8,679.0 L343.0,674.7 L341.0,670.1 L338.6,665.5 L336.0,661.2 L333.0,657.3 L329.4,653.9 L325.2,650.6 L320.7,647.5 L316.1,644.7 L311.7,642.1 L307.7,639.9 L304.4,638.0 L302.1,636.6Z" fill="#161616"/><path d="M317.9,763.4 L321.1,765.2 L324.3,767.0 L327.5,768.7 L330.7,770.5 L333.9,772.3 L337.1,774.0 L340.3,775.8 L343.5,777.6 L346.5,772.4 L343.5,770.4 L340.4,768.5 L337.4,766.5 L334.3,764.5 L331.2,762.5 L328.2,760.5 L325.1,758.6 L322.1,756.6Z" fill="#161616"/><circle cx="263.4" cy="288.4" r="11.1" fill="#d6222e" opacity="0.92"/><circle cx="272.8" cy="288.6" r="9.4" fill="#d6222e" opacity="0.92"/><circle cx="275.6" cy="297.6" r="10.8" fill="#d6222e" opacity="0.92"/><circle cx="267.9" cy="303.1" r="11.4" fill="#d6222e" opacity="0.92"/><circle cx="260.3" cy="297.4" r="11.1" fill="#d6222e" opacity="0.92"/><circle cx="268" cy="295" r="7.1" fill="#b8121e" opacity=".55"/><circle cx="268" cy="295" r="3.4" fill="#5a0810" opacity=".8"/><circle cx="207.0" cy="339.9" r="13.0" fill="#d6222e" opacity="0.92"/><circle cx="216.6" cy="346.9" r="12.1" fill="#d6222e" opacity="0.92"/><circle cx="212.9" cy="358.1" r="13.9" fill="#d6222e" opacity="0.92"/><circle cx="201.1" cy="358.2" r="12.5" fill="#d6222e" opacity="0.92"/><circle cx="197.4" cy="346.9" r="13.9" fill="#d6222e" opacity="0.92"/><circle cx="207" cy="350" r="8.8" fill="#b8121e" opacity=".55"/><circle cx="207" cy="350" r="4.2" fill="#5a0810" opacity=".8"/><circle cx="235.9" cy="408.0" r="14.0" fill="#d6222e" opacity="0.92"/><circle cx="230.3" cy="419.8" r="14.0" fill="#d6222e" opacity="0.92"/><circle cx="217.4" cy="418.0" r="15.8" fill="#d6222e" opacity="0.92"/><circle cx="215.0" cy="405.2" r="15.0" fill="#d6222e" opacity="0.92"/><circle cx="226.5" cy="399.0" r="13.3" fill="#d6222e" opacity="0.92"/><circle cx="225" cy="410" r="9.7" fill="#b8121e" opacity=".55"/><circle cx="225" cy="410" r="4.6" fill="#5a0810" opacity=".8"/><circle cx="215.6" cy="441.8" r="9.6" fill="#d6222e" opacity="0.92"/><circle cx="206.3" cy="443.1" r="11.4" fill="#d6222e" opacity="0.92"/><circle cx="202.1" cy="434.6" r="11.1" fill="#d6222e" opacity="0.92"/><circle cx="208.8" cy="428.0" r="9.6" fill="#d6222e" opacity="0.92"/><circle cx="217.2" cy="432.4" r="11.2" fill="#d6222e" opacity="0.92"/><circle cx="210" cy="436" r="7.1" fill="#b8121e" opacity=".55"/><circle cx="210" cy="436" r="3.4" fill="#5a0810" opacity=".8"/><circle cx="247.0" cy="435.2" r="8.1" fill="#d6222e" opacity="0.92"/><circle cx="243.6" cy="441.5" r="7.5" fill="#d6222e" opacity="0.92"/><circle cx="236.6" cy="440.1" r="7.9" fill="#d6222e" opacity="0.92"/><circle cx="235.7" cy="433.1" r="7.2" fill="#d6222e" opacity="0.92"/><circle cx="242.1" cy="430.1" r="7.0" fill="#d6222e" opacity="0.92"/><circle cx="241" cy="436" r="5.3" fill="#b8121e" opacity=".55"/><circle cx="241" cy="436" r="2.5" fill="#5a0810" opacity=".8"/><circle cx="310.4" cy="393.0" r="14.1" fill="#d6222e" opacity="0.92"/><circle cx="305.1" cy="404.3" r="13.8" fill="#d6222e" opacity="0.92"/><circle cx="292.7" cy="402.7" r="15.0" fill="#d6222e" opacity="0.92"/><circle cx="290.4" cy="390.5" r="13.5" fill="#d6222e" opacity="0.92"/><circle cx="301.4" cy="384.5" r="14.8" fill="#d6222e" opacity="0.92"/><circle cx="300" cy="395" r="9.3" fill="#b8121e" opacity=".55"/><circle cx="300" cy="395" r="4.4" fill="#5a0810" opacity=".8"/><circle cx="289.2" cy="441.9" r="11.0" fill="#d6222e" opacity="0.92"/><circle cx="294.0" cy="451.5" r="11.1" fill="#d6222e" opacity="0.92"/><circle cx="286.4" cy="459.0" r="11.2" fill="#d6222e" opacity="0.92"/><circle cx="276.9" cy="454.1" r="11.0" fill="#d6222e" opacity="0.92"/><circle cx="278.6" cy="443.6" r="11.9" fill="#d6222e" opacity="0.92"/><circle cx="285" cy="450" r="7.9" fill="#b8121e" opacity=".55"/><circle cx="285" cy="450" r="3.8" fill="#5a0810" opacity=".8"/><circle cx="367.5" cy="494.1" r="11.5" fill="#d6222e" opacity="0.92"/><circle cx="359.2" cy="487.3" r="10.7" fill="#d6222e" opacity="0.92"/><circle cx="363.1" cy="477.4" r="12.8" fill="#d6222e" opacity="0.92"/><circle cx="373.7" cy="478.0" r="11.3" fill="#d6222e" opacity="0.92"/><circle cx="376.5" cy="488.3" r="11.6" fill="#d6222e" opacity="0.92"/><circle cx="368" cy="485" r="7.9" fill="#b8121e" opacity=".55"/><circle cx="368" cy="485" r="3.8" fill="#5a0810" opacity=".8"/><circle cx="333.0" cy="666.0" r="11.4" fill="#d6222e" opacity="0.92"/><circle cx="341.7" cy="662.1" r="10.2" fill="#d6222e" opacity="0.92"/><circle cx="348.0" cy="669.1" r="11.4" fill="#d6222e" opacity="0.92"/><circle cx="343.3" cy="677.4" r="10.4" fill="#d6222e" opacity="0.92"/><circle cx="334.0" cy="675.4" r="10.5" fill="#d6222e" opacity="0.92"/><circle cx="340" cy="670" r="7.1" fill="#b8121e" opacity=".55"/><circle cx="340" cy="670" r="3.4" fill="#5a0810" opacity=".8"/><circle cx="313.0" cy="744.0" r="8.1" fill="#d6222e" opacity="0.92"/><circle cx="318.8" cy="738.0" r="9.0" fill="#d6222e" opacity="0.92"/><circle cx="326.3" cy="741.7" r="8.5" fill="#d6222e" opacity="0.92"/><circle cx="325.0" cy="749.9" r="8.1" fill="#d6222e" opacity="0.92"/><circle cx="316.9" cy="751.3" r="9.7" fill="#d6222e" opacity="0.92"/><circle cx="320" cy="745" r="6.2" fill="#b8121e" opacity=".55"/><circle cx="320" cy="745" r="2.9" fill="#5a0810" opacity=".8"/><circle cx="329.0" cy="807.6" r="11.0" fill="#d6222e" opacity="0.92"/><circle cx="319.0" cy="806.2" r="11.6" fill="#d6222e" opacity="0.92"/><circle cx="317.3" cy="796.2" r="11.2" fill="#d6222e" opacity="0.92"/><circle cx="326.2" cy="791.5" r="10.6" fill="#d6222e" opacity="0.92"/><circle cx="333.4" cy="798.5" r="11.1" fill="#d6222e" opacity="0.92"/><circle cx="325" cy="800" r="7.5" fill="#b8121e" opacity=".55"/><circle cx="325" cy="800" r="3.6" fill="#5a0810" opacity=".8"/><circle cx="341.3" cy="763.3" r="6.9" fill="#d6222e" opacity="0.92"/><circle cx="346.2" cy="760.0" r="5.9" fill="#d6222e" opacity="0.92"/><circle cx="350.8" cy="763.6" r="6.6" fill="#d6222e" opacity="0.92"/><circle cx="348.8" cy="769.2" r="6.1" fill="#d6222e" opacity="0.92"/><circle cx="342.9" cy="769.0" r="6.2" fill="#d6222e" opacity="0.92"/><circle cx="346" cy="765" r="4.4" fill="#b8121e" opacity=".55"/><circle cx="346" cy="765" r="2.1" fill="#5a0810" opacity=".8"/><circle cx="265" cy="396" r="11" fill="#e87080" opacity=".85"/><circle cx="368.4" cy="555.3" r="32.3" fill="#dc2c3c" opacity="0.9"/><circle cx="389.6" cy="575.6" r="32.7" fill="#dc2c3c" opacity="0.9"/><circle cx="376.8" cy="602.0" r="34.1" fill="#dc2c3c" opacity="0.9"/><circle cx="347.7" cy="598.0" r="35.2" fill="#dc2c3c" opacity="0.9"/><circle cx="342.5" cy="569.1" r="31.8" fill="#dc2c3c" opacity="0.9"/><circle cx="365" cy="580" r="21.8" fill="#b8121e" opacity=".55"/><circle cx="365" cy="580" r="10.4" fill="#5a0810" opacity=".8"/><circle cx="320" cy="634" r="24" fill="#ea7886" opacity=".85"/><circle cx="359.0" cy="725.7" r="18.6" fill="#d6222e" opacity="0.92"/><circle cx="375.5" cy="721.7" r="18.7" fill="#d6222e" opacity="0.92"/><circle cx="384.4" cy="736.1" r="19.4" fill="#d6222e" opacity="0.92"/><circle cx="373.4" cy="749.0" r="18.4" fill="#d6222e" opacity="0.92"/><circle cx="357.7" cy="742.5" r="18.7" fill="#d6222e" opacity="0.92"/><circle cx="370" cy="735" r="12.6" fill="#b8121e" opacity=".55"/><circle cx="370" cy="735" r="6.0" fill="#5a0810" opacity=".8"/></g>
<g transform="translate(312.7,720) scale(0.22462)"><path d="M73,178 L305,233 L320,235 L366,348 L415,500 L410,640 L365,895 L225,770 L215,705 L38,476 L55,290 Z" fill="#fff" stroke="#161616" stroke-width="1.25" stroke-linejoin="round"/><path d="M88,32 L242,104 Q268,117 281,139 L320,235 L305,233 L73,178 Z" fill="#c9c9c9" stroke="#161616" stroke-width="1.25" stroke-linejoin="round"/><polygon points="225,770 270,830 365,895 430,955 432,990 285,950 270,880 240,825" fill="#c9c9c9" stroke="#161616" stroke-width="1.25" stroke-linejoin="round"/><polyline points="305,233 352,345 372,400" fill="none" stroke="#222" stroke-width=".7"/><polyline points="62,275 95,278 105,296 100,425 48,450" fill="none" stroke="#222" stroke-width=".9"/><polyline points="58,320 102,336" fill="none" stroke="#222" stroke-width=".9"/><polyline points="52,402 100,378" fill="none" stroke="#222" stroke-width=".9"/><polyline points="215,705 242,700 300,790 298,840" fill="none" stroke="#666" stroke-width=".6"/><polyline points="300,790 380,808" fill="none" stroke="#666" stroke-width=".6"/></g>
<g transform="translate(310,720) scale(0.22462)"><polygon points="318,782 388,802 372,745 350,700 338,705 330,745" fill="#161616"/><path d="M370.0,768.7 L369.3,763.3 L368.6,756.0 L367.8,747.3 L366.9,737.5 L365.9,727.3 L364.8,717.0 L363.7,707.2 L362.6,698.0 L361.1,689.4 L359.4,681.0 L357.6,673.1 L355.8,665.6 L354.1,658.6 L352.8,652.0 L351.8,645.8 L351.3,640.3 L351.4,635.4 L352.2,630.3 L353.5,624.8 L355.2,618.7 L356.9,612.1 L358.5,604.9 L359.3,597.1 L359.0,589.0 L357.5,581.2 L355.4,573.9 L352.7,566.7 L349.6,559.7 L346.2,553.0 L342.5,546.5 L338.7,540.3 L334.7,534.4 L330.6,528.8 L326.1,523.3 L321.4,517.9 L316.5,512.8 L311.3,507.9 L305.8,503.3 L300.0,499.2 L294.0,495.4 L287.2,492.2 L279.7,489.5 L272.0,487.3 L264.4,485.5 L257.1,484.0 L250.6,482.8 L245.3,481.9 L241.3,481.2 L238.7,490.8 L242.6,492.3 L248.0,493.9 L254.3,495.7 L261.1,497.7 L268.1,500.1 L274.9,502.6 L281.0,505.5 L286.0,508.6 L290.5,512.0 L294.9,516.0 L299.2,520.3 L303.3,525.0 L307.1,529.9 L310.8,535.0 L314.1,540.2 L317.3,545.6 L320.3,551.1 L323.1,556.8 L325.8,562.8 L328.1,568.8 L330.1,574.7 L331.6,580.6 L332.6,586.1 L333.0,591.0 L332.8,595.3 L331.8,599.6 L330.3,604.5 L328.2,610.0 L325.9,616.3 L323.5,623.3 L321.7,631.2 L320.7,639.7 L320.7,648.1 L321.2,656.2 L322.2,664.1 L323.4,671.9 L324.6,679.6 L325.8,687.1 L326.8,694.6 L327.4,702.0 L328.0,710.3 L328.5,719.8 L328.9,729.9 L329.3,740.0 L329.6,749.6 L329.8,758.4 L330.0,765.8 L330.0,771.3Z" fill="#161616"/><path d="M357.9,759.2 L357.4,754.5 L356.6,748.3 L355.7,740.8 L354.7,732.6 L353.6,723.9 L352.5,715.2 L351.5,706.8 L350.6,699.2 L349.7,691.9 L348.8,684.7 L347.8,677.6 L346.9,670.6 L345.8,663.9 L344.8,657.4 L344.1,651.1 L343.7,645.1 L343.7,639.1 L344.1,632.7 L344.9,626.3 L345.9,620.0 L346.9,614.0 L347.8,608.7 L348.5,604.1 L348.9,600.6 L343.1,599.4 L342.0,602.7 L340.7,607.0 L339.1,612.2 L337.4,618.1 L335.7,624.6 L334.3,631.3 L333.1,638.1 L332.3,644.9 L332.1,651.6 L332.2,658.4 L332.5,665.4 L333.1,672.5 L334.1,679.6 L335.3,686.6 L336.4,693.7 L337.4,700.8 L338.4,708.5 L339.6,716.9 L340.8,725.6 L342.1,734.3 L343.3,742.5 L344.4,749.9 L345.3,756.2 L346.1,760.8Z" fill="#7a7a7a"/><path d="M178.9,522.3 L182.8,524.3 L188.1,526.9 L194.3,529.9 L201.2,533.3 L208.4,537.0 L215.5,540.7 L222.3,544.4 L228.2,548.0 L233.7,551.7 L239.4,555.9 L245.1,560.3 L250.7,564.7 L255.8,568.9 L260.4,572.8 L264.3,576.1 L267.2,578.6 L272.8,571.4 L269.7,569.2 L265.7,566.2 L260.9,562.5 L255.6,558.4 L249.8,554.1 L243.8,549.8 L237.8,545.7 L231.8,542.0 L225.5,538.5 L218.5,534.9 L211.2,531.4 L203.8,527.9 L196.8,524.7 L190.4,521.9 L185.1,519.5 L181.1,517.7Z" fill="#161616"/><path d="M183.2,566.9 L185.4,571.2 L188.2,576.9 L191.5,583.8 L195.3,591.4 L199.4,599.3 L203.7,607.2 L208.1,614.8 L212.5,621.7 L216.8,628.0 L221.1,634.2 L225.5,640.4 L230.1,646.4 L235.1,652.3 L240.4,657.9 L246.3,663.3 L252.8,668.3 L260.4,673.1 L269.3,677.5 L278.8,681.7 L288.4,685.5 L297.7,689.0 L306.2,692.1 L313.2,694.6 L318.2,696.7 L321.8,687.3 L316.5,685.5 L309.3,683.1 L300.8,680.3 L291.6,677.1 L282.0,673.6 L272.8,669.8 L264.3,665.8 L257.2,661.7 L251.2,657.3 L245.6,652.5 L240.4,647.4 L235.5,642.0 L230.8,636.3 L226.3,630.4 L221.9,624.4 L217.5,618.3 L213.0,611.8 L208.5,604.5 L204.0,596.8 L199.7,589.0 L195.7,581.6 L192.2,574.9 L189.1,569.2 L186.8,565.1Z" fill="#161616"/><path d="M326.0,520.6 L326.7,525.6 L327.3,530.6 L327.9,535.6 L328.5,540.7 L329.2,545.7 L329.8,550.7 L330.4,555.7 L331.1,560.7 L340.9,559.3 L340.1,554.3 L339.2,549.3 L338.3,544.3 L337.5,539.3 L336.6,534.4 L335.7,529.4 L334.8,524.4 L334.0,519.4Z" fill="#161616"/><path d="M233.5,559.7 L232.6,563.6 L231.1,569.1 L229.3,575.6 L227.5,582.7 L225.7,590.2 L224.3,597.5 L223.4,604.2 L223.3,610.1 L224.1,615.3 L225.7,620.3 L227.8,624.9 L230.3,629.1 L232.8,632.9 L235.1,636.2 L237.0,638.9 L238.3,641.0 L241.7,639.0 L240.3,636.7 L238.3,633.9 L235.9,630.7 L233.5,627.1 L231.1,623.2 L229.0,618.9 L227.5,614.5 L226.7,609.9 L226.8,604.5 L227.6,598.0 L229.0,590.9 L230.6,583.5 L232.4,576.4 L234.1,569.9 L235.5,564.4 L236.5,560.3Z" fill="#444"/><circle cx="185.0" cy="444.8" r="28.6" fill="#d83448" opacity="0.88"/><circle cx="196.2" cy="423.9" r="27.2" fill="#d83448" opacity="0.88"/><circle cx="219.5" cy="428.0" r="28.3" fill="#d83448" opacity="0.88"/><circle cx="222.8" cy="451.5" r="28.6" fill="#d83448" opacity="0.88"/><circle cx="201.5" cy="461.9" r="24.6" fill="#d83448" opacity="0.88"/><circle cx="205" cy="442" r="17.6" fill="#b8121e" opacity=".55"/><circle cx="205" cy="442" r="8.4" fill="#5a0810" opacity=".8"/><circle cx="166.4" cy="492.8" r="8.6" fill="#e8788a" opacity="0.9"/><circle cx="172.4" cy="489.0" r="8.4" fill="#e8788a" opacity="0.9"/><circle cx="177.9" cy="493.5" r="7.2" fill="#e8788a" opacity="0.9"/><circle cx="175.3" cy="500.1" r="7.1" fill="#e8788a" opacity="0.9"/><circle cx="168.2" cy="499.7" r="7.7" fill="#e8788a" opacity="0.9"/><circle cx="198.1" cy="544.0" r="11.0" fill="#d83448" opacity="0.9"/><circle cx="188.7" cy="549.0" r="10.6" fill="#d83448" opacity="0.9"/><circle cx="181.1" cy="541.6" r="12.2" fill="#d83448" opacity="0.9"/><circle cx="185.8" cy="532.0" r="12.5" fill="#d83448" opacity="0.9"/><circle cx="196.3" cy="533.5" r="12.8" fill="#d83448" opacity="0.9"/><circle cx="190" cy="540" r="7.9" fill="#b8121e" opacity=".55"/><circle cx="190" cy="540" r="3.8" fill="#5a0810" opacity=".8"/><circle cx="292.6" cy="551.7" r="10.9" fill="#d83448" opacity="0.9"/><circle cx="283.1" cy="551.4" r="10.8" fill="#d83448" opacity="0.9"/><circle cx="280.4" cy="542.3" r="9.6" fill="#d83448" opacity="0.9"/><circle cx="288.2" cy="536.9" r="11.3" fill="#d83448" opacity="0.9"/><circle cx="295.7" cy="542.7" r="11.5" fill="#d83448" opacity="0.9"/><circle cx="288" cy="545" r="7.1" fill="#b8121e" opacity=".55"/><circle cx="288" cy="545" r="3.4" fill="#5a0810" opacity=".8"/><circle cx="331.3" cy="521.9" r="10.0" fill="#d83448" opacity="0.9"/><circle cx="323.8" cy="518.4" r="8.9" fill="#d83448" opacity="0.9"/><circle cx="324.8" cy="510.2" r="9.1" fill="#d83448" opacity="0.9"/><circle cx="333.0" cy="508.6" r="10.1" fill="#d83448" opacity="0.9"/><circle cx="337.0" cy="515.9" r="9.8" fill="#d83448" opacity="0.9"/><circle cx="330" cy="515" r="6.2" fill="#b8121e" opacity=".55"/><circle cx="330" cy="515" r="2.9" fill="#5a0810" opacity=".8"/><circle cx="307.7" cy="582.3" r="6.4" fill="#d83448" opacity="0.9"/><circle cx="301.8" cy="581.9" r="6.5" fill="#d83448" opacity="0.9"/><circle cx="300.3" cy="576.1" r="6.3" fill="#d83448" opacity="0.9"/><circle cx="305.4" cy="573.0" r="6.1" fill="#d83448" opacity="0.9"/><circle cx="309.9" cy="576.8" r="6.2" fill="#d83448" opacity="0.9"/><circle cx="305" cy="578" r="4.4" fill="#b8121e" opacity=".55"/><circle cx="305" cy="578" r="2.1" fill="#5a0810" opacity=".8"/><circle cx="283.9" cy="594.0" r="7.0" fill="#d83448" opacity="0.9"/><circle cx="290.3" cy="597.1" r="7.9" fill="#d83448" opacity="0.9"/><circle cx="289.4" cy="604.2" r="7.7" fill="#d83448" opacity="0.9"/><circle cx="282.4" cy="605.4" r="7.0" fill="#d83448" opacity="0.9"/><circle cx="279.0" cy="599.2" r="7.5" fill="#d83448" opacity="0.9"/><circle cx="285" cy="600" r="5.3" fill="#b8121e" opacity=".55"/><circle cx="285" cy="600" r="2.5" fill="#5a0810" opacity=".8"/><circle cx="367.2" cy="586.3" r="10.4" fill="#d83448" opacity="0.9"/><circle cx="376.6" cy="584.8" r="9.4" fill="#d83448" opacity="0.9"/><circle cx="381.0" cy="593.2" r="11.6" fill="#d83448" opacity="0.9"/><circle cx="374.3" cy="600.0" r="11.1" fill="#d83448" opacity="0.9"/><circle cx="365.8" cy="595.7" r="11.5" fill="#d83448" opacity="0.9"/><circle cx="373" cy="592" r="7.1" fill="#b8121e" opacity=".55"/><circle cx="373" cy="592" r="3.4" fill="#5a0810" opacity=".8"/><circle cx="271.4" cy="644.9" r="9.9" fill="#e8788a" opacity="0.9"/><circle cx="262.3" cy="647.6" r="9.3" fill="#e8788a" opacity="0.9"/><circle cx="256.9" cy="639.8" r="11.1" fill="#e8788a" opacity="0.9"/><circle cx="262.7" cy="632.3" r="9.9" fill="#e8788a" opacity="0.9"/><circle cx="271.7" cy="635.5" r="9.5" fill="#e8788a" opacity="0.9"/><circle cx="251.8" cy="679.3" r="10.0" fill="#d83448" opacity="0.9"/><circle cx="252.9" cy="671.1" r="9.8" fill="#d83448" opacity="0.9"/><circle cx="261.1" cy="669.7" r="8.6" fill="#d83448" opacity="0.9"/><circle cx="265.0" cy="677.0" r="8.4" fill="#d83448" opacity="0.9"/><circle cx="259.2" cy="682.9" r="10.0" fill="#d83448" opacity="0.9"/><circle cx="258" cy="676" r="6.2" fill="#b8121e" opacity=".55"/><circle cx="258" cy="676" r="2.9" fill="#5a0810" opacity=".8"/><circle cx="296.6" cy="717.0" r="9.5" fill="#d83448" opacity="0.9"/><circle cx="303.9" cy="713.0" r="8.3" fill="#d83448" opacity="0.9"/><circle cx="309.9" cy="718.7" r="8.2" fill="#d83448" opacity="0.9"/><circle cx="306.4" cy="726.2" r="9.5" fill="#d83448" opacity="0.9"/><circle cx="298.2" cy="725.1" r="9.0" fill="#d83448" opacity="0.9"/><circle cx="303" cy="720" r="6.2" fill="#b8121e" opacity=".55"/><circle cx="303" cy="720" r="2.9" fill="#5a0810" opacity=".8"/><circle cx="389.1" cy="719.4" r="14.3" fill="#eea0aa" opacity="0.9"/><circle cx="378.6" cy="725.0" r="13.4" fill="#eea0aa" opacity="0.9"/><circle cx="370.1" cy="716.7" r="13.9" fill="#eea0aa" opacity="0.9"/><circle cx="375.3" cy="706.1" r="11.8" fill="#eea0aa" opacity="0.9"/><circle cx="387.0" cy="707.8" r="14.1" fill="#eea0aa" opacity="0.9"/><circle cx="260.5" cy="558.5" r="8.5" fill="#e8788a" opacity="0.9"/><circle cx="254.4" cy="562.0" r="7.7" fill="#e8788a" opacity="0.9"/><circle cx="249.1" cy="557.3" r="7.5" fill="#e8788a" opacity="0.9"/><circle cx="252.0" cy="550.8" r="7.9" fill="#e8788a" opacity="0.9"/><circle cx="259.0" cy="551.5" r="8.6" fill="#e8788a" opacity="0.9"/></g>
<g transform="translate(445,680) scale(0.19531)"><polygon points="85,440 265,385 360,352 376,356 366,800 110,985 95,870" fill="#fff" stroke="#404040" stroke-width=".85" stroke-linejoin="round"/><polyline points="95,845 350,668 352,440 280,470" fill="none" stroke="#404040" stroke-width=".85" stroke-linejoin="round"/><polyline points="97,868 352,688 356,795 112,972 97,868" fill="none" stroke="#404040" stroke-width=".85" stroke-linejoin="round"/><polyline points="360,352 352,440" fill="none" stroke="#404040" stroke-width=".85" stroke-linejoin="round"/><polygon points="85,440 100,400 265,235 265,385" fill="#fff"/><polygon points="20,245 378,35 422,75 405,122 335,128 290,152 280,215 265,235 100,400 80,392" fill="#fff" stroke="#404040" stroke-width=".85" stroke-linejoin="round"/><polygon points="335,127 385,85 420,75 405,122" fill="#c4c4c4" stroke="#404040" stroke-width=".85" stroke-linejoin="round"/><polyline points="80,392 85,440" fill="none" stroke="#404040" stroke-width=".85" stroke-linejoin="round"/><polyline points="100,400 85,440" fill="none" stroke="#404040" stroke-width=".85" stroke-linejoin="round"/><polygon points="135,350 248,248 262,262 262,292 150,385" fill="#fff" stroke="#333" stroke-width=".8"/><polygon points="185,322 245,268 248,292 205,330" fill="#fff" stroke="#333" stroke-width=".7"/><polygon points="270,238 385,260 175,520" fill="#fff" stroke="#404040" stroke-width=".85" stroke-linejoin="round"/><polygon points="385,260 405,276 376,345 265,400 185,512 175,520" fill="#fff" stroke="#404040" stroke-width=".85" stroke-linejoin="round"/><polyline points="265,95 265,870" fill="none" stroke="#333" stroke-width="1"/><polygon points="30,230 172,158 186,183 64,252 124,372 154,438 150,448 136,428 22,247" fill="#dc2a1c"/><polygon points="172,158 196,168 186,183" fill="#e8756a"/><path d="M197.8,525.6 L198.9,528.6 L200.2,532.7 L202.0,537.7 L204.2,543.3 L206.8,549.4 L209.8,555.6 L213.2,561.7 L217.4,567.7 L222.4,573.3 L228.1,578.2 L233.9,582.6 L239.4,586.6 L244.4,590.5 L248.6,594.1 L251.5,597.3 L253.3,600.4 L254.7,603.9 L255.9,608.0 L256.8,612.5 L257.4,617.3 L258.3,622.4 L258.8,627.9 L259.2,633.8 L259.4,639.8 L259.3,646.1 L258.7,653.2 L257.8,660.9 L256.6,668.8 L255.2,676.5 L253.7,683.8 L252.2,690.3 L250.9,695.3 L249.8,698.8 L248.7,701.3 L247.6,703.3 L246.4,705.1 L245.0,706.8 L243.5,708.6 L241.6,710.8 L240.1,712.8 L263.9,731.2 L264.6,730.4 L265.7,729.3 L267.8,727.3 L270.4,724.4 L273.3,720.7 L276.2,716.1 L278.9,710.7 L281.1,704.7 L283.0,698.2 L284.8,691.0 L286.7,683.0 L288.4,674.5 L290.0,665.7 L291.3,656.9 L292.2,648.3 L292.6,640.2 L292.6,632.8 L292.4,625.6 L291.8,618.4 L290.8,611.2 L288.8,604.1 L286.2,597.2 L282.9,590.4 L278.7,583.6 L273.1,577.2 L266.8,572.0 L260.3,567.7 L253.9,564.1 L248.0,560.9 L242.6,557.9 L238.1,555.0 L234.6,552.3 L231.4,548.8 L228.1,544.5 L224.8,539.7 L221.8,534.7 L219.0,529.8 L216.4,525.3 L214.1,521.3 L212.2,518.4Z" fill="#151515"/><path d="M218.1,518.8 L218.6,522.6 L219.1,526.4 L219.6,530.2 L220.1,534.0 L220.6,537.8 L221.1,541.6 L221.6,545.4 L222.1,549.2 L233.9,546.8 L232.9,543.1 L231.9,539.4 L230.9,535.7 L229.9,532.0 L228.9,528.3 L227.9,524.6 L226.9,520.9 L225.9,517.2Z" fill="#151515"/><path d="M298.1,597.3 L297.2,601.5 L296.1,607.2 L294.9,613.9 L293.6,621.2 L292.1,628.8 L290.4,636.1 L288.7,642.7 L286.8,648.2 L284.7,652.8 L282.1,657.3 L279.3,661.6 L276.3,665.7 L273.3,669.4 L270.5,672.7 L268.1,675.7 L266.2,678.0 L277.8,686.0 L279.1,683.7 L281.1,680.7 L283.6,677.1 L286.5,672.8 L289.4,668.2 L292.3,663.1 L295.0,657.6 L297.2,651.8 L298.9,645.5 L300.4,638.3 L301.8,630.6 L302.9,622.8 L303.9,615.3 L304.8,608.5 L305.4,602.8 L305.9,598.7Z" fill="#151515"/><path d="M271.4,701.1 L277.7,697.2 L284.0,693.2 L290.4,689.3 L296.7,685.3 L303.0,681.4 L309.3,677.4 L315.6,673.4 L321.9,669.5 L318.1,662.5 L311.4,665.8 L304.7,669.1 L298.0,672.4 L291.3,675.7 L284.6,679.0 L278.0,682.3 L271.3,685.6 L264.6,688.9Z" fill="#333"/><path d="M127.0,640.2 L127.2,644.9 L127.3,651.2 L127.5,658.7 L127.8,667.1 L128.2,676.0 L129.0,684.8 L130.1,693.4 L131.6,701.1 L133.6,708.3 L135.9,715.5 L138.5,722.5 L141.4,729.4 L144.5,736.0 L147.9,742.3 L151.5,748.3 L155.2,753.6 L159.1,758.6 L163.1,763.6 L167.5,768.6 L172.2,773.2 L177.4,777.2 L183.3,780.4 L189.9,782.1 L197.2,781.9 L204.9,779.2 L212.8,774.5 L221.0,768.4 L229.2,761.7 L236.9,754.8 L243.9,748.4 L249.7,743.1 L253.9,739.6 L246.1,730.4 L241.7,734.1 L235.8,739.5 L228.9,745.9 L221.3,752.6 L213.6,759.0 L206.2,764.5 L199.7,768.4 L194.8,770.1 L191.2,770.2 L187.7,769.2 L183.9,767.2 L180.1,764.2 L176.2,760.3 L172.3,755.9 L168.5,751.1 L164.8,746.4 L161.1,741.7 L157.5,736.5 L154.1,730.9 L150.9,724.9 L147.8,718.6 L145.0,712.1 L142.5,705.4 L140.4,698.9 L138.6,691.8 L137.2,683.8 L136.1,675.2 L135.2,666.6 L134.6,658.4 L134.0,650.9 L133.5,644.5 L133.0,639.8Z" fill="#151515"/><path d="M157.8,604.5 L160.3,605.6 L163.7,607.1 L167.7,608.9 L172.0,610.9 L176.5,612.9 L180.7,615.0 L184.5,617.0 L187.5,618.7 L189.9,620.5 L192.2,622.3 L194.3,624.3 L196.2,626.3 L197.9,628.2 L199.5,629.9 L200.9,631.5 L202.0,632.7 L208.0,627.3 L207.0,626.2 L205.8,624.7 L204.3,622.8 L202.5,620.6 L200.5,618.3 L198.1,615.9 L195.5,613.5 L192.5,611.3 L189.0,609.1 L185.0,606.8 L180.6,604.5 L176.1,602.3 L171.7,600.2 L167.8,598.3 L164.5,596.7 L162.2,595.5Z" fill="#151515"/><polygon points="200,572 250,586 226,700" fill="none" stroke="#d8222c" stroke-width=".9"/><ellipse cx="150" cy="668" rx="10" ry="16" fill="#fff" stroke="#222" stroke-width=".7"/><circle cx="150" cy="565" r="16" fill="#d42636" opacity=".9"/><circle cx="145" cy="605" r="18" fill="#d42636" opacity=".9"/><circle cx="205" cy="632" r="12" fill="#d42636" opacity=".9"/><circle cx="246" cy="625" r="16" fill="#d42636" opacity=".9"/><circle cx="250" cy="665" r="12" fill="#d42636" opacity=".9"/><circle cx="220" cy="680" r="18" fill="#d42636" opacity=".9"/><circle cx="175" cy="725" r="14" fill="#d42636" opacity=".9"/><circle cx="150" cy="760" r="16" fill="#d42636" opacity=".9"/><circle cx="125" cy="740" r="8" fill="#d42636" opacity=".9"/><circle cx="166" cy="776" r="10" fill="#d42636" opacity=".9"/><circle cx="310" cy="672" r="10" fill="#d42636" opacity=".9"/></g>
<g transform="translate(445,680) scale(0.19531)"><g transform="translate(1130.5,0) scale(-1,1)"><polygon points="85,440 265,385 360,352 376,356 366,800 110,985 95,870" fill="#fff" stroke="#404040" stroke-width=".85" stroke-linejoin="round"/><polyline points="95,845 350,668 352,440 280,470" fill="none" stroke="#404040" stroke-width=".85" stroke-linejoin="round"/><polyline points="97,868 352,688 356,795 112,972 97,868" fill="none" stroke="#404040" stroke-width=".85" stroke-linejoin="round"/><polyline points="360,352 352,440" fill="none" stroke="#404040" stroke-width=".85" stroke-linejoin="round"/><polygon points="85,440 100,400 265,235 265,385" fill="#fff"/><polygon points="20,245 378,35 422,75 405,122 335,128 290,152 280,215 265,235 100,400 80,392" fill="#fff" stroke="#404040" stroke-width=".85" stroke-linejoin="round"/><polygon points="335,127 385,85 420,75 405,122" fill="#c4c4c4" stroke="#404040" stroke-width=".85" stroke-linejoin="round"/><polyline points="80,392 85,440" fill="none" stroke="#404040" stroke-width=".85" stroke-linejoin="round"/><polyline points="100,400 85,440" fill="none" stroke="#404040" stroke-width=".85" stroke-linejoin="round"/><polygon points="135,350 248,248 262,262 262,292 150,385" fill="#fff" stroke="#333" stroke-width=".8"/><polygon points="185,322 245,268 248,292 205,330" fill="#fff" stroke="#333" stroke-width=".7"/><polygon points="270,238 385,260 175,520" fill="#fff" stroke="#404040" stroke-width=".85" stroke-linejoin="round"/><polygon points="385,260 405,276 376,345 265,400 185,512 175,520" fill="#fff" stroke="#404040" stroke-width=".85" stroke-linejoin="round"/><polyline points="265,95 265,870" fill="none" stroke="#333" stroke-width="1"/><polygon points="30,230 172,158 186,183 64,252 124,372 154,438 150,448 136,428 22,247" fill="#dc2a1c"/><polygon points="172,158 196,168 186,183" fill="#e8756a"/><path d="M197.8,525.6 L198.9,528.6 L200.2,532.7 L202.0,537.7 L204.2,543.3 L206.8,549.4 L209.8,555.6 L213.2,561.7 L217.4,567.7 L222.4,573.3 L228.1,578.2 L233.9,582.6 L239.4,586.6 L244.4,590.5 L248.6,594.1 L251.5,597.3 L253.3,600.4 L254.7,603.9 L255.9,608.0 L256.8,612.5 L257.4,617.3 L258.3,622.4 L258.8,627.9 L259.2,633.8 L259.4,639.8 L259.3,646.1 L258.7,653.2 L257.8,660.9 L256.6,668.8 L255.2,676.5 L253.7,683.8 L252.2,690.3 L250.9,695.3 L249.8,698.8 L248.7,701.3 L247.6,703.3 L246.4,705.1 L245.0,706.8 L243.5,708.6 L241.6,710.8 L240.1,712.8 L263.9,731.2 L264.6,730.4 L265.7,729.3 L267.8,727.3 L270.4,724.4 L273.3,720.7 L276.2,716.1 L278.9,710.7 L281.1,704.7 L283.0,698.2 L284.8,691.0 L286.7,683.0 L288.4,674.5 L290.0,665.7 L291.3,656.9 L292.2,648.3 L292.6,640.2 L292.6,632.8 L292.4,625.6 L291.8,618.4 L290.8,611.2 L288.8,604.1 L286.2,597.2 L282.9,590.4 L278.7,583.6 L273.1,577.2 L266.8,572.0 L260.3,567.7 L253.9,564.1 L248.0,560.9 L242.6,557.9 L238.1,555.0 L234.6,552.3 L231.4,548.8 L228.1,544.5 L224.8,539.7 L221.8,534.7 L219.0,529.8 L216.4,525.3 L214.1,521.3 L212.2,518.4Z" fill="#151515"/><path d="M218.1,518.8 L218.6,522.6 L219.1,526.4 L219.6,530.2 L220.1,534.0 L220.6,537.8 L221.1,541.6 L221.6,545.4 L222.1,549.2 L233.9,546.8 L232.9,543.1 L231.9,539.4 L230.9,535.7 L229.9,532.0 L228.9,528.3 L227.9,524.6 L226.9,520.9 L225.9,517.2Z" fill="#151515"/><path d="M298.1,597.3 L297.2,601.5 L296.1,607.2 L294.9,613.9 L293.6,621.2 L292.1,628.8 L290.4,636.1 L288.7,642.7 L286.8,648.2 L284.7,652.8 L282.1,657.3 L279.3,661.6 L276.3,665.7 L273.3,669.4 L270.5,672.7 L268.1,675.7 L266.2,678.0 L277.8,686.0 L279.1,683.7 L281.1,680.7 L283.6,677.1 L286.5,672.8 L289.4,668.2 L292.3,663.1 L295.0,657.6 L297.2,651.8 L298.9,645.5 L300.4,638.3 L301.8,630.6 L302.9,622.8 L303.9,615.3 L304.8,608.5 L305.4,602.8 L305.9,598.7Z" fill="#151515"/><path d="M271.4,701.1 L277.7,697.2 L284.0,693.2 L290.4,689.3 L296.7,685.3 L303.0,681.4 L309.3,677.4 L315.6,673.4 L321.9,669.5 L318.1,662.5 L311.4,665.8 L304.7,669.1 L298.0,672.4 L291.3,675.7 L284.6,679.0 L278.0,682.3 L271.3,685.6 L264.6,688.9Z" fill="#333"/><path d="M127.0,640.2 L127.2,644.9 L127.3,651.2 L127.5,658.7 L127.8,667.1 L128.2,676.0 L129.0,684.8 L130.1,693.4 L131.6,701.1 L133.6,708.3 L135.9,715.5 L138.5,722.5 L141.4,729.4 L144.5,736.0 L147.9,742.3 L151.5,748.3 L155.2,753.6 L159.1,758.6 L163.1,763.6 L167.5,768.6 L172.2,773.2 L177.4,777.2 L183.3,780.4 L189.9,782.1 L197.2,781.9 L204.9,779.2 L212.8,774.5 L221.0,768.4 L229.2,761.7 L236.9,754.8 L243.9,748.4 L249.7,743.1 L253.9,739.6 L246.1,730.4 L241.7,734.1 L235.8,739.5 L228.9,745.9 L221.3,752.6 L213.6,759.0 L206.2,764.5 L199.7,768.4 L194.8,770.1 L191.2,770.2 L187.7,769.2 L183.9,767.2 L180.1,764.2 L176.2,760.3 L172.3,755.9 L168.5,751.1 L164.8,746.4 L161.1,741.7 L157.5,736.5 L154.1,730.9 L150.9,724.9 L147.8,718.6 L145.0,712.1 L142.5,705.4 L140.4,698.9 L138.6,691.8 L137.2,683.8 L136.1,675.2 L135.2,666.6 L134.6,658.4 L134.0,650.9 L133.5,644.5 L133.0,639.8Z" fill="#151515"/><path d="M157.8,604.5 L160.3,605.6 L163.7,607.1 L167.7,608.9 L172.0,610.9 L176.5,612.9 L180.7,615.0 L184.5,617.0 L187.5,618.7 L189.9,620.5 L192.2,622.3 L194.3,624.3 L196.2,626.3 L197.9,628.2 L199.5,629.9 L200.9,631.5 L202.0,632.7 L208.0,627.3 L207.0,626.2 L205.8,624.7 L204.3,622.8 L202.5,620.6 L200.5,618.3 L198.1,615.9 L195.5,613.5 L192.5,611.3 L189.0,609.1 L185.0,606.8 L180.6,604.5 L176.1,602.3 L171.7,600.2 L167.8,598.3 L164.5,596.7 L162.2,595.5Z" fill="#151515"/><polygon points="200,572 250,586 226,700" fill="none" stroke="#d8222c" stroke-width=".9"/><ellipse cx="150" cy="668" rx="10" ry="16" fill="#fff" stroke="#222" stroke-width=".7"/><circle cx="150" cy="565" r="16" fill="#d42636" opacity=".9"/><circle cx="145" cy="605" r="18" fill="#d42636" opacity=".9"/><circle cx="205" cy="632" r="12" fill="#d42636" opacity=".9"/><circle cx="246" cy="625" r="16" fill="#d42636" opacity=".9"/><circle cx="250" cy="665" r="12" fill="#d42636" opacity=".9"/><circle cx="220" cy="680" r="18" fill="#d42636" opacity=".9"/><circle cx="175" cy="725" r="14" fill="#d42636" opacity=".9"/><circle cx="150" cy="760" r="16" fill="#d42636" opacity=".9"/><circle cx="125" cy="740" r="8" fill="#d42636" opacity=".9"/><circle cx="166" cy="776" r="10" fill="#d42636" opacity=".9"/><circle cx="310" cy="672" r="10" fill="#d42636" opacity=".9"/></g></g>
<g transform="translate(440,830) scale(0.23436)"><polygon points="490,65 520,45 605,50 665,360 560,680 490,735 500,460 480,385" fill="#fff" stroke="#2a2a2a" stroke-width=".9" stroke-linejoin="round"/><polyline points="505,75 498,420 510,460" fill="none" stroke="#666" stroke-width=".6"/><polyline points="520,45 505,75" fill="none" stroke="#666" stroke-width=".6"/><polyline points="648,372 548,672 492,715" fill="none" stroke="#666" stroke-width=".6"/><polygon points="415,470 470,410 482,388 500,460 490,735 425,782 395,760" fill="#8c8c8c" stroke="#2a2a2a" stroke-width=".9" stroke-linejoin="round"/><polyline points="440,478 425,760" fill="none" stroke="#5a5a5a" stroke-width=".6"/><polyline points="400,672 495,628" fill="none" stroke="#444" stroke-width=".7"/><polyline points="415,470 440,478 470,410" fill="none" stroke="#5a5a5a" stroke-width=".6"/><rect x="503" y="465" width="17" height="66" rx="4" fill="#e8e8e8" stroke="#777" stroke-width=".6"/><polygon points="438,616 600,484 607,494 446,630" fill="#e2402c"/></g>
<circle class="lc" cx="321.1" cy="120.1" r="8.8"/><text class="n1" x="321.1" y="126.3">4</text>
<circle class="lc" cx="355.6" cy="120.1" r="8.8"/><text class="n1" x="355.6" y="126.3">3</text>
<circle class="lc" cx="321.1" cy="146.1" r="8.8"/><text class="n1" x="321.1" y="152.29999999999998">2</text>
<circle class="lc" cx="355.6" cy="146.1" r="8.8"/><text class="n1" x="355.6" y="152.29999999999998">1</text>
<text class="cj" x="338.3" y="124.6" font-size="12.5">或</text>
<text class="cj" x="338.3" y="150.6" font-size="12.5">或</text>
<line class="ld" x1="257.5" y1="120.1" x2="312.3" y2="120.1"/>
<line class="ld" x1="364.4" y1="146.1" x2="414.4" y2="146.1"/>
<circle class="lc" cx="687.3" cy="126.8" r="8.8"/><text class="n1" x="687.3" y="133.0">5</text>
<circle class="lc" cx="687.3" cy="158.6" r="8.8"/><text class="n1" x="687.3" y="164.79999999999998">6</text>
<line class="ld" x1="637" y1="126.8" x2="678.5" y2="126.8"/>
<line class="ld" x1="696.1" y1="158.6" x2="736.9" y2="158.6"/>
<circle class="lc" cx="493.1" cy="204.4" r="8.8"/><text class="n2" x="493.1" y="209.9" textLength="13.6" lengthAdjust="spacingAndGlyphs">36</text>
<circle class="lc" cx="674" cy="204.4" r="8.8"/><text class="n2" x="674" y="209.9" textLength="13.6" lengthAdjust="spacingAndGlyphs">35</text>
<line class="ld" x1="493.1" y1="213.2" x2="493.1" y2="247.8"/>
<line class="ld" x1="674" y1="213.2" x2="674" y2="255.6"/>
<circle class="lc" cx="836.9" cy="220.6" r="8.8"/><text class="n2" x="836.9" y="226.1" textLength="13.6" lengthAdjust="spacingAndGlyphs">33</text>
<circle class="lc" cx="794.4" cy="347.7" r="8.8"/><text class="n2" x="794.4" y="353.2" textLength="13.6" lengthAdjust="spacingAndGlyphs">34</text>
<line class="ld" x1="836.9" y1="229.4" x2="836.9" y2="272.1"/>
<line class="ld" x1="794.4" y1="356.5" x2="794.4" y2="399.6"/>
<circle class="lc" cx="192.9" cy="314.7" r="8.8"/><text class="n2" x="192.9" y="320.2" textLength="13.6" lengthAdjust="spacingAndGlyphs">53</text>
<circle class="lc" cx="392.1" cy="314.7" r="8.8"/><text class="n2" x="392.1" y="320.2" textLength="13.6" lengthAdjust="spacingAndGlyphs">54</text>
<line class="ld" x1="201.7" y1="314.7" x2="230.4" y2="314.7"/>
<line class="ld" x1="357" y1="314.7" x2="383.3" y2="314.7"/>
<circle class="lc" cx="565.3" cy="371.7" r="8.8"/><text class="n2" x="565.3" y="377.2" textLength="13.6" lengthAdjust="spacingAndGlyphs">23</text>
<circle class="lc" cx="589.7" cy="371.7" r="8.8"/><text class="n2" x="589.7" y="377.2" textLength="13.6" lengthAdjust="spacingAndGlyphs">24</text>
<line class="ld" x1="520.9" y1="371.7" x2="556.5" y2="371.7"/>
<line class="ld" x1="598.5" y1="371.7" x2="633.4" y2="371.7"/>
<circle class="lc" cx="202.5" cy="428.4" r="8.8"/><text class="n1" x="202.5" y="434.59999999999997">7</text>
<line class="ld" x1="202.5" y1="437.2" x2="202.5" y2="505.4"/>
<circle class="lc" cx="240.7" cy="428.4" r="8.8"/><text class="n1" x="240.7" y="434.59999999999997">9</text>
<line class="ld" x1="240.7" y1="437.2" x2="240.7" y2="505.9"/>
<circle class="lc" cx="342.8" cy="428.4" r="8.8"/><text class="n2" x="342.8" y="433.9" textLength="13.6" lengthAdjust="spacingAndGlyphs">10</text>
<line class="ld" x1="342.8" y1="437.2" x2="342.8" y2="504.9"/>
<circle class="lc" cx="380.3" cy="428.4" r="8.8"/><text class="n1" x="380.3" y="434.59999999999997">8</text>
<line class="ld" x1="380.3" y1="437.2" x2="380.3" y2="504"/>
<circle class="lc" cx="575.5" cy="532.9" r="8.8"/><text class="n2" x="575.5" y="538.4" textLength="13.6" lengthAdjust="spacingAndGlyphs">17</text>
<circle class="lc" cx="575.5" cy="553.4" r="8.8"/><text class="n2" x="575.5" y="558.9" textLength="13.6" lengthAdjust="spacingAndGlyphs">18</text>
<circle class="lc" cx="575.5" cy="590.8" r="8.8"/><text class="n2" x="575.5" y="596.3" textLength="13.6" lengthAdjust="spacingAndGlyphs">19</text>
<circle class="lc" cx="575.5" cy="611.5" r="8.8"/><text class="n2" x="575.5" y="617.0" textLength="13.6" lengthAdjust="spacingAndGlyphs">20</text>
<line class="ld" x1="516.4" y1="532.9" x2="566.7" y2="532.9"/>
<line class="ld" x1="584.3" y1="553.4" x2="637.2" y2="553.4"/>
<line class="ld" x1="509" y1="590.8" x2="566.7" y2="590.8"/>
<line class="ld" x1="584.3" y1="611.5" x2="643.8" y2="611.5"/>
<circle class="lc" cx="770.1" cy="668.5" r="8.8"/><text class="n2" x="770.1" y="674.0" textLength="13.6" lengthAdjust="spacingAndGlyphs">38</text>
<circle class="lc" cx="788.9" cy="668.5" r="8.8"/><text class="n2" x="788.9" y="674.0" textLength="13.6" lengthAdjust="spacingAndGlyphs">37</text>
<circle class="lc" cx="770.1" cy="707.5" r="8.8"/><text class="n2" x="770.1" y="713.0" textLength="13.6" lengthAdjust="spacingAndGlyphs">39</text>
<circle class="lc" cx="788.9" cy="707.5" r="8.8"/><text class="n2" x="788.9" y="713.0" textLength="13.6" lengthAdjust="spacingAndGlyphs">40</text>
<line class="ld" x1="740" y1="668.5" x2="761.3" y2="668.5"/>
<line class="ld" x1="797.7" y1="668.5" x2="818.2" y2="668.5"/>
<line class="ld" x1="720.5" y1="707.5" x2="761.3" y2="707.5"/>
<line class="ld" x1="797.7" y1="707.5" x2="838.9" y2="707.5"/>
<circle class="lc" cx="554.1" cy="724.6" r="8.8"/><text class="n2" x="554.1" y="730.1" textLength="13.6" lengthAdjust="spacingAndGlyphs">21</text>
<circle class="lc" cx="554.1" cy="745" r="8.8"/><text class="n2" x="554.1" y="750.5" textLength="13.6" lengthAdjust="spacingAndGlyphs">22</text>
<circle class="lc" cx="554.1" cy="784.8" r="8.8"/><text class="n2" x="554.1" y="790.3" textLength="13.6" lengthAdjust="spacingAndGlyphs">26</text>
<circle class="lc" cx="554.1" cy="806.6" r="8.8"/><text class="n2" x="554.1" y="812.1" textLength="13.6" lengthAdjust="spacingAndGlyphs">25</text>
<line class="ld" x1="470" y1="724.6" x2="545.3" y2="724.6"/>
<line class="ld" x1="562.9" y1="745" x2="639.7" y2="745"/>
<line class="ld" x1="497.4" y1="784.8" x2="545.3" y2="784.8"/>
<line class="ld" x1="562.9" y1="806.6" x2="599.4" y2="806.6"/>
<circle class="lc" cx="287.5" cy="774.8" r="8.8"/><text class="n2" x="287.5" y="780.3" textLength="13.6" lengthAdjust="spacingAndGlyphs">30</text>
<circle class="lc" cx="287.5" cy="805.2" r="8.8"/><text class="n2" x="287.5" y="810.7" textLength="13.6" lengthAdjust="spacingAndGlyphs">42</text>
<circle class="lc" cx="310" cy="846.2" r="8.8"/><text class="n2" x="310" y="851.7" textLength="13.6" lengthAdjust="spacingAndGlyphs">43</text>
<circle class="lc" cx="310" cy="877.4" r="8.8"/><text class="n2" x="310" y="882.9" textLength="13.6" lengthAdjust="spacingAndGlyphs">42</text>
<text class="cj" x="287.5" y="792.3" font-size="8.5">对侧</text>
<text class="cj" x="310" y="864" font-size="8.5">对侧</text>
<line class="ld" x1="227.1" y1="788" x2="278.5" y2="788"/>
<line class="ld" x1="318.2" y1="859.9" x2="354.5" y2="859.9"/>
<circle class="lc" cx="474" cy="949.5" r="8.8"/><text class="n2" x="474" y="955.0" textLength="13.6" lengthAdjust="spacingAndGlyphs">50</text>
<circle class="lc" cx="474" cy="986.5" r="8.8"/><text class="n2" x="474" y="992.0" textLength="13.6" lengthAdjust="spacingAndGlyphs">49</text>
<text class="cj" x="474" y="972.8" font-size="12.5">对侧</text>
<line class="ld" x1="482.8" y1="949.5" x2="571.2" y2="949.5"/>
</svg>
</body></html>
